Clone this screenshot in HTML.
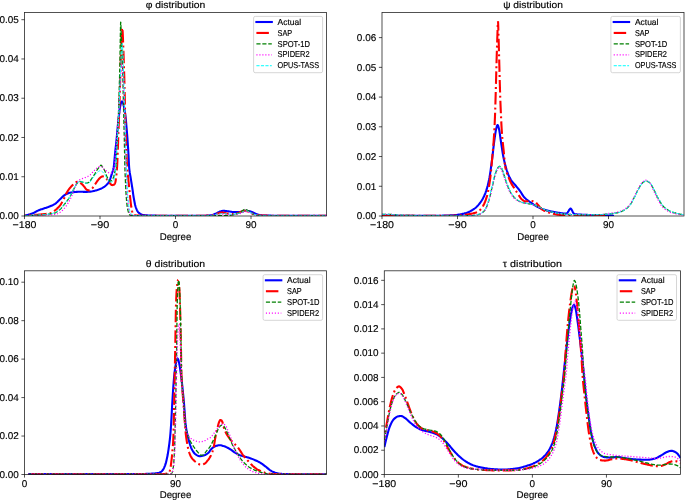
<!DOCTYPE html>
<html><head><meta charset="utf-8"><title>distributions</title>
<style>
html,body{margin:0;padding:0;background:#fff;}
body{width:685px;height:500px;overflow:hidden;}
svg text{font-family:"Liberation Sans",sans-serif;fill:#000;stroke:#000;stroke-width:0.15px;text-rendering:geometricPrecision;}
body{will-change:transform;}
svg text{filter:grayscale(1);}
</style></head><body>
<svg width="685" height="500" viewBox="0 0 685 500" style="display:block">
<rect width="685" height="500" fill="#fff"/>
<g>
<clipPath id="c1"><rect x="24.50" y="12.50" width="302.00" height="203.50"/></clipPath>
<g clip-path="url(#c1)">
<path d="M24.40 215.60 L25.03 215.51 L25.67 215.40 L26.30 215.27 L26.93 215.13 L27.57 214.98 L28.20 214.81 L28.83 214.63 L29.47 214.44 L30.10 214.24 L30.73 214.03 L31.37 213.82 L32.00 213.60 L32.67 213.34 L33.33 213.04 L34.00 212.71 L34.67 212.35 L35.33 211.98 L36.00 211.61 L36.67 211.25 L37.33 210.91 L38.00 210.60 L38.33 210.46 L38.67 210.32 L39.00 210.19 L39.33 210.05 L39.67 209.93 L40.00 209.80 L40.63 209.57 L41.26 209.34 L41.89 209.13 L42.52 208.91 L43.16 208.71 L43.79 208.51 L44.42 208.30 L45.05 208.10 L45.68 207.90 L46.31 207.69 L46.94 207.48 L47.58 207.26 L48.21 207.04 L48.84 206.80 L49.47 206.56 L50.10 206.30 L50.73 206.04 L51.35 205.77 L51.98 205.49 L52.60 205.19 L53.23 204.88 L53.85 204.55 L54.48 204.19 L55.10 203.80 L55.73 203.35 L56.35 202.84 L56.98 202.27 L57.60 201.66 L58.23 201.03 L58.85 200.40 L59.48 199.78 L60.10 199.20 L60.74 198.61 L61.38 197.98 L62.01 197.35 L62.65 196.73 L63.29 196.13 L63.93 195.58 L64.56 195.10 L65.20 194.70 L65.83 194.37 L66.45 194.05 L67.08 193.76 L67.70 193.49 L68.33 193.24 L68.95 193.03 L69.58 192.85 L70.20 192.70 L70.83 192.58 L71.45 192.46 L72.08 192.36 L72.70 192.27 L73.33 192.19 L73.95 192.12 L74.58 192.06 L75.20 192.00 L75.84 191.95 L76.47 191.89 L77.11 191.84 L77.75 191.80 L78.39 191.76 L79.03 191.73 L79.66 191.71 L80.30 191.70 L80.92 191.71 L81.55 191.73 L82.17 191.76 L82.80 191.80 L83.42 191.84 L84.05 191.87 L84.67 191.89 L85.30 191.90 L85.94 191.89 L86.58 191.87 L87.21 191.85 L87.85 191.81 L88.49 191.76 L89.12 191.71 L89.76 191.66 L90.40 191.60 L91.03 191.53 L91.65 191.44 L92.28 191.33 L92.90 191.20 L93.53 191.06 L94.15 190.91 L94.78 190.76 L95.40 190.60 L96.06 190.43 L96.71 190.25 L97.37 190.05 L98.03 189.84 L98.69 189.61 L99.34 189.36 L100.00 189.10 L100.64 188.82 L101.28 188.51 L101.91 188.18 L102.55 187.82 L103.19 187.43 L103.82 187.01 L104.46 186.57 L105.10 186.10 L105.60 185.71 L106.10 185.29 L106.60 184.83 L107.10 184.32 L107.60 183.74 L108.10 183.10 L108.43 182.60 L108.77 182.02 L109.10 181.36 L109.43 180.65 L109.77 179.89 L110.10 179.10 L110.43 178.24 L110.77 177.28 L111.10 176.24 L111.43 175.17 L111.77 174.08 L112.10 173.00 L112.35 172.25 L112.60 171.55 L112.85 170.84 L113.10 170.05 L113.35 169.12 L113.60 168.00 L113.85 166.37 L114.10 164.13 L114.35 161.47 L114.60 158.63 L114.85 155.80 L115.10 153.20 L115.37 150.67 L115.63 148.20 L115.90 145.74 L116.17 143.27 L116.43 140.73 L116.70 138.10 L116.92 135.82 L117.13 133.41 L117.35 130.94 L117.57 128.50 L117.78 126.16 L118.00 124.00 L118.12 122.93 L118.23 121.92 L118.35 120.93 L118.47 119.97 L118.58 119.00 L118.70 118.00 L118.85 116.64 L119.00 115.22 L119.15 113.79 L119.30 112.40 L119.45 111.12 L119.60 110.00 L119.77 108.89 L119.93 107.86 L120.10 106.89 L120.27 106.00 L120.43 105.21 L120.60 104.50 L120.73 103.98 L120.87 103.47 L121.00 103.00 L121.13 102.59 L121.27 102.25 L121.40 102.00 L121.50 101.85 L121.60 101.71 L121.70 101.59 L121.80 101.49 L121.90 101.42 L122.00 101.40 L122.12 101.43 L122.23 101.52 L122.35 101.66 L122.47 101.82 L122.58 102.01 L122.70 102.20 L122.85 102.50 L123.00 102.88 L123.15 103.34 L123.30 103.86 L123.45 104.41 L123.60 105.00 L123.77 105.72 L123.93 106.56 L124.10 107.48 L124.27 108.47 L124.43 109.48 L124.60 110.50 L124.78 111.61 L124.97 112.73 L125.15 113.89 L125.33 115.13 L125.52 116.49 L125.70 118.00 L125.82 119.11 L125.93 120.37 L126.05 121.73 L126.17 123.16 L126.28 124.60 L126.40 126.00 L126.57 127.94 L126.73 129.88 L126.90 131.84 L127.07 133.84 L127.23 135.92 L127.40 138.10 L127.57 140.39 L127.73 142.77 L127.90 145.24 L128.07 147.81 L128.23 150.46 L128.40 153.20 L128.53 155.65 L128.67 158.41 L128.80 161.24 L128.93 163.93 L129.07 166.26 L129.20 168.00 L129.45 170.30 L129.70 172.16 L129.95 173.72 L130.20 175.12 L130.45 176.50 L130.70 178.00 L130.97 179.69 L131.23 181.35 L131.50 182.99 L131.77 184.63 L132.03 186.29 L132.30 188.00 L132.55 189.70 L132.80 191.48 L133.05 193.29 L133.30 195.06 L133.55 196.72 L133.80 198.20 L134.13 200.02 L134.47 201.77 L134.80 203.42 L135.13 204.92 L135.47 206.23 L135.80 207.30 L136.22 208.43 L136.63 209.46 L137.05 210.37 L137.47 211.16 L137.88 211.81 L138.30 212.30 L138.97 212.93 L139.63 213.48 L140.30 213.94 L140.97 214.33 L141.63 214.61 L142.30 214.80 L142.94 214.92 L143.58 215.03 L144.21 215.12 L144.85 215.20 L145.49 215.27 L146.12 215.32 L146.76 215.37 L147.40 215.40 L148.06 215.43 L148.73 215.46 L149.39 215.48 L150.05 215.51 L150.72 215.53 L151.38 215.55 L152.04 215.57 L152.71 215.59 L153.37 215.61 L154.03 215.63 L154.69 215.64 L155.36 215.66 L156.02 215.67 L156.68 215.68 L157.35 215.68 L158.01 215.69 L158.67 215.70 L159.34 215.70 L160.00 215.70 L160.66 215.70 L161.32 215.70 L161.99 215.70 L162.65 215.70 L163.31 215.70 L163.97 215.70 L164.63 215.70 L165.29 215.70 L165.96 215.70 L166.62 215.70 L167.28 215.70 L167.94 215.70 L168.60 215.70 L169.26 215.70 L169.93 215.70 L170.59 215.70 L171.25 215.70 L171.91 215.70 L172.57 215.70 L173.24 215.70 L173.90 215.70 L174.56 215.70 L175.22 215.70 L175.88 215.70 L176.54 215.70 L177.21 215.70 L177.87 215.70 L178.53 215.70 L179.19 215.70 L179.85 215.70 L180.51 215.70 L181.18 215.70 L181.84 215.70 L182.50 215.70 L183.16 215.70 L183.82 215.70 L184.49 215.70 L185.15 215.70 L185.81 215.70 L186.47 215.70 L187.13 215.70 L187.79 215.70 L188.46 215.70 L189.12 215.70 L189.78 215.70 L190.44 215.70 L191.10 215.70 L191.76 215.70 L192.43 215.70 L193.09 215.70 L193.75 215.70 L194.41 215.70 L195.07 215.70 L195.74 215.70 L196.40 215.70 L197.06 215.70 L197.72 215.70 L198.38 215.70 L199.04 215.70 L199.71 215.70 L200.37 215.70 L201.03 215.70 L201.69 215.70 L202.35 215.70 L203.01 215.70 L203.68 215.70 L204.34 215.70 L205.00 215.70 L205.61 215.69 L206.22 215.67 L206.83 215.64 L207.44 215.61 L208.06 215.56 L208.67 215.50 L209.28 215.44 L209.89 215.37 L210.50 215.30 L211.11 215.20 L211.72 215.07 L212.33 214.90 L212.94 214.70 L213.56 214.47 L214.17 214.24 L214.78 213.99 L215.39 213.74 L216.00 213.50 L216.67 213.21 L217.33 212.87 L218.00 212.51 L218.67 212.16 L219.33 211.85 L220.00 211.60 L220.57 211.42 L221.13 211.24 L221.70 211.07 L222.27 210.93 L222.83 210.83 L223.40 210.80 L224.06 210.82 L224.71 210.87 L225.37 210.94 L226.03 211.03 L226.69 211.13 L227.34 211.22 L228.00 211.30 L228.67 211.38 L229.33 211.48 L230.00 211.58 L230.67 211.68 L231.33 211.78 L232.00 211.87 L232.67 211.94 L233.33 211.98 L234.00 212.00 L234.63 212.00 L235.27 212.00 L235.90 212.00 L236.53 212.00 L237.17 212.00 L237.80 212.00 L238.43 212.00 L239.07 212.00 L239.70 212.00 L240.25 211.96 L240.80 211.84 L241.35 211.68 L241.90 211.50 L242.45 211.33 L243.00 211.20 L243.42 211.12 L243.83 211.03 L244.25 210.94 L244.67 210.87 L245.08 210.82 L245.50 210.80 L246.08 210.81 L246.67 210.84 L247.25 210.89 L247.83 210.95 L248.42 211.02 L249.00 211.10 L249.50 211.19 L250.00 211.31 L250.50 211.46 L251.00 211.63 L251.50 211.82 L252.00 212.00 L252.50 212.20 L253.00 212.43 L253.50 212.68 L254.00 212.93 L254.50 213.17 L255.00 213.40 L255.50 213.62 L256.00 213.84 L256.50 214.06 L257.00 214.26 L257.50 214.45 L258.00 214.60 L258.67 214.78 L259.33 214.95 L260.00 215.11 L260.67 215.24 L261.33 215.34 L262.00 215.40 L262.65 215.43 L263.30 215.46 L263.95 215.49 L264.60 215.51 L265.25 215.53 L265.90 215.56 L266.55 215.58 L267.20 215.60 L267.85 215.61 L268.50 215.63 L269.15 215.64 L269.80 215.65 L270.45 215.67 L271.10 215.67 L271.75 215.68 L272.40 215.69 L273.05 215.69 L273.70 215.70 L274.35 215.70 L275.00 215.70 L275.66 215.70 L276.32 215.70 L276.98 215.70 L277.64 215.70 L278.30 215.70 L278.96 215.70 L279.62 215.70 L280.28 215.70 L280.94 215.70 L281.60 215.70 L282.26 215.70 L282.92 215.70 L283.58 215.70 L284.24 215.70 L284.90 215.70 L285.56 215.70 L286.22 215.70 L286.88 215.70 L287.54 215.70 L288.21 215.70 L288.87 215.70 L289.53 215.70 L290.19 215.70 L290.85 215.70 L291.51 215.70 L292.17 215.70 L292.83 215.70 L293.49 215.70 L294.15 215.70 L294.81 215.70 L295.47 215.70 L296.13 215.70 L296.79 215.70 L297.45 215.70 L298.11 215.70 L298.77 215.70 L299.43 215.70 L300.09 215.70 L300.75 215.70 L301.41 215.70 L302.07 215.70 L302.73 215.70 L303.39 215.70 L304.05 215.70 L304.71 215.70 L305.37 215.70 L306.03 215.70 L306.69 215.70 L307.35 215.70 L308.01 215.70 L308.67 215.70 L309.33 215.70 L309.99 215.70 L310.65 215.70 L311.31 215.70 L311.97 215.70 L312.63 215.70 L313.29 215.70 L313.96 215.70 L314.62 215.70 L315.28 215.70 L315.94 215.70 L316.60 215.70 L317.26 215.70 L317.92 215.70 L318.58 215.70 L319.24 215.70 L319.90 215.70 L320.56 215.70 L321.22 215.70 L321.88 215.70 L322.54 215.70 L323.20 215.70 L323.86 215.70 L324.52 215.70 L325.18 215.70 L325.84 215.70 L326.50 215.70" fill="none" stroke="#0000ff" stroke-width="2.10" stroke-linejoin="round"/>
<path d="M24.40 215.70 L25.05 215.67 L25.70 215.63 L26.35 215.59 L27.00 215.55 L27.65 215.51 L28.30 215.47 L28.95 215.42 L29.60 215.38 L30.25 215.33 L30.90 215.28 L31.55 215.24 L32.20 215.18 L32.85 215.13 L33.50 215.08 L34.15 215.03 L34.80 214.97 L35.45 214.91 L36.10 214.86 L36.75 214.80 L37.40 214.74 L38.05 214.68 L38.70 214.62 L39.35 214.56 L40.00 214.50 L40.63 214.44 L41.26 214.39 L41.89 214.33 L42.52 214.28 L43.16 214.23 L43.79 214.17 L44.42 214.11 L45.05 214.05 L45.68 213.98 L46.31 213.91 L46.94 213.83 L47.58 213.75 L48.21 213.65 L48.84 213.55 L49.47 213.43 L50.10 213.30 L50.73 213.12 L51.35 212.86 L51.98 212.52 L52.60 212.13 L53.23 211.70 L53.85 211.25 L54.48 210.77 L55.10 210.30 L55.73 209.81 L56.35 209.29 L56.98 208.73 L57.60 208.12 L58.23 207.48 L58.85 206.80 L59.48 206.07 L60.10 205.30 L60.62 204.60 L61.13 203.82 L61.65 202.98 L62.17 202.08 L62.68 201.15 L63.20 200.20 L63.78 199.03 L64.37 197.74 L64.95 196.39 L65.53 195.05 L66.12 193.80 L66.70 192.70 L67.28 191.73 L67.87 190.82 L68.45 189.97 L69.03 189.17 L69.62 188.42 L70.20 187.70 L70.70 187.12 L71.20 186.57 L71.70 186.05 L72.20 185.56 L72.70 185.07 L73.20 184.60 L73.58 184.23 L73.97 183.86 L74.35 183.50 L74.73 183.16 L75.12 182.85 L75.50 182.60 L75.80 182.42 L76.10 182.24 L76.40 182.07 L76.70 181.93 L77.00 181.84 L77.30 181.80 L77.58 181.81 L77.87 181.83 L78.15 181.86 L78.43 181.90 L78.72 181.95 L79.00 182.00 L79.22 182.07 L79.43 182.18 L79.65 182.32 L79.87 182.47 L80.08 182.64 L80.30 182.80 L80.80 183.19 L81.30 183.62 L81.80 184.09 L82.30 184.59 L82.80 185.09 L83.30 185.60 L83.97 186.36 L84.63 187.24 L85.30 188.15 L85.97 188.97 L86.63 189.62 L87.30 190.00 L87.63 190.10 L87.97 190.20 L88.30 190.28 L88.63 190.34 L88.97 190.38 L89.30 190.40 L89.73 190.33 L90.17 190.13 L90.60 189.84 L91.03 189.48 L91.47 189.09 L91.90 188.70 L92.40 188.19 L92.90 187.56 L93.40 186.84 L93.90 186.09 L94.40 185.33 L94.90 184.60 L95.48 183.76 L96.07 182.87 L96.65 181.98 L97.23 181.12 L97.82 180.31 L98.40 179.60 L98.90 179.03 L99.40 178.47 L99.90 177.93 L100.40 177.46 L100.90 177.07 L101.40 176.80 L101.63 176.70 L101.87 176.61 L102.10 176.53 L102.33 176.46 L102.57 176.42 L102.80 176.40 L102.98 176.41 L103.17 176.45 L103.35 176.50 L103.53 176.56 L103.72 176.63 L103.90 176.70 L104.27 176.87 L104.63 177.09 L105.00 177.35 L105.37 177.65 L105.73 177.97 L106.10 178.30 L106.60 178.82 L107.10 179.44 L107.60 180.12 L108.10 180.82 L108.60 181.49 L109.10 182.10 L109.60 182.71 L110.10 183.37 L110.60 184.02 L111.10 184.57 L111.60 184.96 L112.10 185.10 L112.43 185.08 L112.77 185.04 L113.10 184.97 L113.43 184.87 L113.77 184.75 L114.10 184.60 L114.32 184.44 L114.53 184.17 L114.75 183.80 L114.97 183.32 L115.18 182.75 L115.40 182.10 L115.52 181.60 L115.63 180.90 L115.75 180.05 L115.87 179.09 L115.98 178.09 L116.10 177.10 L116.25 175.85 L116.40 174.56 L116.55 173.18 L116.70 171.66 L116.85 169.95 L117.00 168.00 L117.12 166.17 L117.23 163.99 L117.35 161.52 L117.47 158.84 L117.58 156.04 L117.70 153.20 L117.82 150.17 L117.93 146.85 L118.05 143.36 L118.17 139.83 L118.28 136.36 L118.40 133.10 L118.50 130.51 L118.60 128.04 L118.70 125.62 L118.80 123.19 L118.90 120.67 L119.00 118.00 L119.13 114.20 L119.27 110.21 L119.40 106.06 L119.53 101.79 L119.67 97.43 L119.80 93.00 L119.92 88.96 L120.03 84.71 L120.15 80.37 L120.27 76.06 L120.38 71.90 L120.50 68.00 L120.63 63.81 L120.77 59.77 L120.90 55.87 L121.03 52.11 L121.17 48.49 L121.30 45.00 L121.40 42.37 L121.50 39.70 L121.60 37.11 L121.70 34.71 L121.80 32.63 L121.90 31.00 L121.95 30.29 L122.00 29.59 L122.05 28.93 L122.10 28.40 L122.15 28.03 L122.20 27.90 L122.27 28.03 L122.33 28.37 L122.40 28.89 L122.47 29.53 L122.53 30.25 L122.60 31.00 L122.70 32.46 L122.80 34.49 L122.90 36.92 L123.00 39.59 L123.10 42.34 L123.20 45.00 L123.33 48.49 L123.47 52.11 L123.60 55.87 L123.73 59.77 L123.87 63.81 L124.00 68.00 L124.12 71.76 L124.23 75.61 L124.35 79.61 L124.47 83.81 L124.58 88.26 L124.70 93.00 L124.78 96.83 L124.87 101.15 L124.95 105.68 L125.03 110.18 L125.12 114.37 L125.20 118.00 L125.33 123.01 L125.47 127.62 L125.60 131.88 L125.73 135.84 L125.87 139.53 L126.00 143.00 L126.20 148.00 L126.40 152.80 L126.60 157.30 L126.80 161.39 L127.00 164.99 L127.20 168.00 L127.37 170.06 L127.53 171.83 L127.70 173.42 L127.87 174.92 L128.03 176.41 L128.20 178.00 L128.37 179.67 L128.53 181.33 L128.70 183.00 L128.87 184.67 L129.03 186.33 L129.20 188.00 L129.37 189.69 L129.53 191.42 L129.70 193.14 L129.87 194.83 L130.03 196.46 L130.20 198.00 L130.42 199.94 L130.63 201.88 L130.85 203.75 L131.07 205.49 L131.28 207.03 L131.50 208.30 L131.72 209.39 L131.93 210.42 L132.15 211.34 L132.37 212.15 L132.58 212.81 L132.80 213.30 L133.05 213.75 L133.30 214.15 L133.55 214.50 L133.80 214.79 L134.05 214.99 L134.30 215.10 L134.93 215.24 L135.57 215.35 L136.20 215.45 L136.83 215.53 L137.47 215.59 L138.10 215.64 L138.73 215.67 L139.37 215.69 L140.00 215.70 L140.66 215.70 L141.33 215.70 L141.99 215.70 L142.65 215.70 L143.32 215.70 L143.98 215.70 L144.64 215.70 L145.31 215.70 L145.97 215.70 L146.63 215.70 L147.30 215.70 L147.96 215.70 L148.62 215.70 L149.29 215.70 L149.95 215.70 L150.61 215.70 L151.28 215.70 L151.94 215.70 L152.60 215.70 L153.27 215.70 L153.93 215.70 L154.59 215.70 L155.26 215.70 L155.92 215.70 L156.58 215.70 L157.24 215.70 L157.91 215.70 L158.57 215.70 L159.23 215.70 L159.90 215.70 L160.56 215.70 L161.22 215.70 L161.89 215.70 L162.55 215.70 L163.21 215.70 L163.88 215.70 L164.54 215.70 L165.20 215.70 L165.87 215.70 L166.53 215.70 L167.19 215.70 L167.86 215.70 L168.52 215.70 L169.18 215.70 L169.85 215.70 L170.51 215.70 L171.17 215.70 L171.84 215.70 L172.50 215.70 L173.16 215.70 L173.83 215.70 L174.49 215.70 L175.15 215.70 L175.82 215.70 L176.48 215.70 L177.14 215.70 L177.81 215.70 L178.47 215.70 L179.13 215.70 L179.80 215.70 L180.46 215.70 L181.12 215.70 L181.79 215.70 L182.45 215.70 L183.11 215.70 L183.78 215.70 L184.44 215.70 L185.10 215.70 L185.77 215.70 L186.43 215.70 L187.09 215.70 L187.76 215.70 L188.42 215.70 L189.08 215.70 L189.74 215.70 L190.41 215.70 L191.07 215.70 L191.73 215.70 L192.40 215.70 L193.06 215.70 L193.72 215.70 L194.39 215.70 L195.05 215.70 L195.71 215.70 L196.38 215.70 L197.04 215.70 L197.70 215.70 L198.37 215.70 L199.03 215.70 L199.69 215.70 L200.36 215.70 L201.02 215.70 L201.68 215.70 L202.35 215.70 L203.01 215.70 L203.67 215.70 L204.34 215.70 L205.00 215.70 L205.64 215.69 L206.27 215.68 L206.91 215.65 L207.55 215.62 L208.18 215.58 L208.82 215.53 L209.45 215.47 L210.09 215.41 L210.73 215.34 L211.36 215.27 L212.00 215.20 L212.67 215.09 L213.33 214.94 L214.00 214.74 L214.67 214.52 L215.33 214.28 L216.00 214.04 L216.67 213.81 L217.33 213.59 L218.00 213.40 L218.67 213.22 L219.33 213.02 L220.00 212.82 L220.67 212.66 L221.33 212.54 L222.00 212.50 L222.62 212.53 L223.25 212.63 L223.88 212.76 L224.50 212.93 L225.12 213.10 L225.75 213.26 L226.38 213.40 L227.00 213.50 L227.67 213.58 L228.33 213.66 L229.00 213.74 L229.67 213.81 L230.33 213.87 L231.00 213.92 L231.67 213.96 L232.33 213.99 L233.00 214.00 L233.62 213.98 L234.25 213.91 L234.88 213.80 L235.50 213.66 L236.12 213.51 L236.75 213.34 L237.38 213.17 L238.00 213.00 L238.67 212.79 L239.33 212.54 L240.00 212.26 L240.67 211.98 L241.33 211.72 L242.00 211.50 L242.50 211.35 L243.00 211.19 L243.50 211.04 L244.00 210.92 L244.50 210.83 L245.00 210.80 L245.50 210.83 L246.00 210.91 L246.50 211.03 L247.00 211.18 L247.50 211.34 L248.00 211.50 L248.67 211.76 L249.33 212.09 L250.00 212.47 L250.67 212.85 L251.33 213.20 L252.00 213.50 L252.67 213.76 L253.33 214.02 L254.00 214.28 L254.67 214.52 L255.33 214.75 L256.00 214.94 L256.67 215.11 L257.33 215.23 L258.00 215.30 L258.67 215.34 L259.33 215.38 L260.00 215.42 L260.67 215.46 L261.33 215.49 L262.00 215.52 L262.67 215.55 L263.33 215.58 L264.00 215.60 L264.67 215.62 L265.33 215.64 L266.00 215.65 L266.67 215.67 L267.33 215.68 L268.00 215.69 L268.67 215.69 L269.33 215.70 L270.00 215.70 L270.66 215.70 L271.33 215.70 L271.99 215.70 L272.66 215.70 L273.32 215.70 L273.99 215.70 L274.65 215.70 L275.32 215.70 L275.98 215.70 L276.65 215.70 L277.31 215.70 L277.98 215.70 L278.64 215.70 L279.31 215.70 L279.97 215.70 L280.64 215.70 L281.30 215.70 L281.96 215.70 L282.63 215.70 L283.29 215.70 L283.96 215.70 L284.62 215.70 L285.29 215.70 L285.95 215.70 L286.62 215.70 L287.28 215.70 L287.95 215.70 L288.61 215.70 L289.28 215.70 L289.94 215.70 L290.61 215.70 L291.27 215.70 L291.94 215.70 L292.60 215.70 L293.26 215.70 L293.93 215.70 L294.59 215.70 L295.26 215.70 L295.92 215.70 L296.59 215.70 L297.25 215.70 L297.92 215.70 L298.58 215.70 L299.25 215.70 L299.91 215.70 L300.58 215.70 L301.24 215.70 L301.91 215.70 L302.57 215.70 L303.24 215.70 L303.90 215.70 L304.56 215.70 L305.23 215.70 L305.89 215.70 L306.56 215.70 L307.22 215.70 L307.89 215.70 L308.55 215.70 L309.22 215.70 L309.88 215.70 L310.55 215.70 L311.21 215.70 L311.88 215.70 L312.54 215.70 L313.21 215.70 L313.87 215.70 L314.54 215.70 L315.20 215.70 L315.86 215.70 L316.53 215.70 L317.19 215.70 L317.86 215.70 L318.52 215.70 L319.19 215.70 L319.85 215.70 L320.52 215.70 L321.18 215.70 L321.85 215.70 L322.51 215.70 L323.18 215.70 L323.84 215.70 L324.51 215.70 L325.17 215.70 L325.84 215.70 L326.50 215.70" fill="none" stroke="#ff0000" stroke-width="2.10" stroke-dasharray="12.48,3.12,1.95,3.12" stroke-linejoin="round" stroke-dashoffset="10.9"/>
<path d="M24.40 215.70 L25.05 215.68 L25.70 215.67 L26.35 215.65 L27.00 215.63 L27.65 215.60 L28.30 215.58 L28.95 215.55 L29.60 215.52 L30.25 215.49 L30.90 215.46 L31.55 215.43 L32.20 215.39 L32.85 215.36 L33.50 215.32 L34.15 215.28 L34.80 215.24 L35.45 215.20 L36.10 215.16 L36.75 215.12 L37.40 215.08 L38.05 215.03 L38.70 214.99 L39.35 214.94 L40.00 214.90 L40.63 214.86 L41.26 214.81 L41.89 214.76 L42.52 214.71 L43.16 214.66 L43.79 214.61 L44.42 214.55 L45.05 214.49 L45.68 214.43 L46.31 214.37 L46.94 214.30 L47.58 214.23 L48.21 214.15 L48.84 214.07 L49.47 213.99 L50.10 213.90 L50.73 213.81 L51.35 213.71 L51.98 213.59 L52.60 213.47 L53.23 213.33 L53.85 213.17 L54.48 213.00 L55.10 212.80 L55.73 212.55 L56.35 212.22 L56.98 211.83 L57.60 211.39 L58.23 210.90 L58.85 210.39 L59.48 209.85 L60.10 209.30 L60.74 208.70 L61.38 208.04 L62.01 207.32 L62.65 206.56 L63.29 205.77 L63.93 204.95 L64.56 204.12 L65.20 203.30 L65.83 202.49 L66.45 201.68 L67.08 200.85 L67.70 199.99 L68.33 199.10 L68.95 198.18 L69.58 197.22 L70.20 196.20 L70.87 195.00 L71.53 193.67 L72.20 192.26 L72.87 190.84 L73.53 189.47 L74.20 188.20 L74.72 187.25 L75.23 186.28 L75.75 185.34 L76.27 184.47 L76.78 183.71 L77.30 183.10 L77.58 182.82 L77.87 182.54 L78.15 182.29 L78.43 182.07 L78.72 181.91 L79.00 181.80 L79.22 181.75 L79.43 181.70 L79.65 181.66 L79.87 181.63 L80.08 181.61 L80.30 181.60 L80.80 181.63 L81.30 181.73 L81.80 181.86 L82.30 182.01 L82.80 182.16 L83.30 182.30 L83.80 182.45 L84.30 182.62 L84.80 182.79 L85.30 182.95 L85.80 183.06 L86.30 183.10 L86.63 183.08 L86.97 183.03 L87.30 182.95 L87.63 182.85 L87.97 182.73 L88.30 182.60 L88.82 182.29 L89.33 181.81 L89.85 181.20 L90.37 180.51 L90.88 179.79 L91.40 179.10 L91.90 178.43 L92.40 177.71 L92.90 176.96 L93.40 176.19 L93.90 175.40 L94.40 174.60 L94.90 173.77 L95.40 172.89 L95.90 172.00 L96.40 171.11 L96.90 170.27 L97.40 169.50 L97.82 168.91 L98.23 168.34 L98.65 167.79 L99.07 167.27 L99.48 166.77 L99.90 166.30 L100.08 166.08 L100.27 165.83 L100.45 165.60 L100.63 165.40 L100.82 165.25 L101.00 165.20 L101.23 165.27 L101.47 165.47 L101.70 165.76 L101.93 166.11 L102.17 166.46 L102.40 166.80 L102.85 167.43 L103.30 168.12 L103.75 168.87 L104.20 169.68 L104.65 170.56 L105.10 171.50 L105.43 172.33 L105.77 173.32 L106.10 174.38 L106.43 175.42 L106.77 176.36 L107.10 177.10 L107.60 178.04 L108.10 178.96 L108.60 179.79 L109.10 180.47 L109.60 180.93 L110.10 181.10 L110.35 181.08 L110.60 181.03 L110.85 180.95 L111.10 180.85 L111.35 180.73 L111.60 180.60 L111.93 180.32 L112.27 179.88 L112.60 179.30 L112.93 178.60 L113.27 177.83 L113.60 177.00 L113.85 176.26 L114.10 175.34 L114.35 174.31 L114.60 173.20 L114.85 172.08 L115.10 171.00 L115.22 170.55 L115.33 170.15 L115.45 169.75 L115.57 169.29 L115.68 168.72 L115.80 168.00 L115.95 166.26 L116.10 163.39 L116.25 159.76 L116.40 155.77 L116.55 151.79 L116.70 148.20 L116.82 145.62 L116.93 143.01 L117.05 140.40 L117.17 137.85 L117.28 135.40 L117.40 133.10 L117.55 130.46 L117.70 128.12 L117.85 125.89 L118.00 123.58 L118.15 121.01 L118.30 118.00 L118.43 114.73 L118.57 110.89 L118.70 106.64 L118.83 102.14 L118.97 97.54 L119.10 93.00 L119.22 89.17 L119.33 85.39 L119.45 81.52 L119.57 77.42 L119.68 72.96 L119.80 68.00 L119.87 64.74 L119.93 61.06 L120.00 57.10 L120.07 53.01 L120.13 48.93 L120.20 45.00 L120.25 42.02 L120.30 38.90 L120.35 35.79 L120.40 32.83 L120.45 30.18 L120.50 28.00 L120.53 26.68 L120.57 25.34 L120.60 24.10 L120.63 23.07 L120.67 22.36 L120.70 22.10 L120.75 22.38 L120.80 23.12 L120.85 24.20 L120.90 25.46 L120.95 26.77 L121.00 28.00 L121.10 30.48 L121.20 33.29 L121.30 36.29 L121.40 39.33 L121.50 42.28 L121.60 45.00 L121.77 48.96 L121.93 52.51 L122.10 55.91 L122.27 59.43 L122.43 63.37 L122.60 68.00 L122.70 71.38 L122.80 75.33 L122.90 79.65 L123.00 84.16 L123.10 88.68 L123.20 93.00 L123.30 97.17 L123.40 101.33 L123.50 105.50 L123.60 109.67 L123.70 113.83 L123.80 118.00 L123.90 122.11 L124.00 126.16 L124.10 130.21 L124.20 134.32 L124.30 138.56 L124.40 143.00 L124.48 147.11 L124.57 151.64 L124.65 156.29 L124.73 160.77 L124.82 164.77 L124.90 168.00 L124.97 170.05 L125.03 171.86 L125.10 173.48 L125.17 175.01 L125.23 176.49 L125.30 178.00 L125.42 180.75 L125.53 183.52 L125.65 186.22 L125.77 188.76 L125.88 191.05 L126.00 193.00 L126.20 195.89 L126.40 198.54 L126.60 200.92 L126.80 203.02 L127.00 204.82 L127.20 206.30 L127.42 207.65 L127.63 208.87 L127.85 209.95 L128.07 210.89 L128.28 211.67 L128.50 212.30 L128.78 213.01 L129.07 213.67 L129.35 214.26 L129.63 214.73 L129.92 215.05 L130.20 215.20 L130.85 215.29 L131.50 215.38 L132.15 215.45 L132.80 215.51 L133.45 215.56 L134.10 215.60 L134.75 215.63 L135.40 215.66 L136.05 215.68 L136.70 215.69 L137.35 215.70 L138.00 215.70 L138.66 215.70 L139.33 215.70 L139.99 215.70 L140.66 215.70 L141.32 215.70 L141.98 215.70 L142.65 215.70 L143.31 215.70 L143.98 215.70 L144.64 215.70 L145.31 215.70 L145.97 215.70 L146.63 215.70 L147.30 215.70 L147.96 215.70 L148.63 215.70 L149.29 215.70 L149.95 215.70 L150.62 215.70 L151.28 215.70 L151.95 215.70 L152.61 215.70 L153.27 215.70 L153.94 215.70 L154.60 215.70 L155.27 215.70 L155.93 215.70 L156.60 215.70 L157.26 215.70 L157.92 215.70 L158.59 215.70 L159.25 215.70 L159.92 215.70 L160.58 215.70 L161.24 215.70 L161.91 215.70 L162.57 215.70 L163.24 215.70 L163.90 215.70 L164.56 215.70 L165.23 215.70 L165.89 215.70 L166.56 215.70 L167.22 215.70 L167.89 215.70 L168.55 215.70 L169.21 215.70 L169.88 215.70 L170.54 215.70 L171.21 215.70 L171.87 215.70 L172.53 215.70 L173.20 215.70 L173.86 215.70 L174.53 215.70 L175.19 215.70 L175.85 215.70 L176.52 215.70 L177.18 215.70 L177.85 215.70 L178.51 215.70 L179.18 215.70 L179.84 215.70 L180.50 215.70 L181.17 215.70 L181.83 215.70 L182.50 215.70 L183.16 215.70 L183.82 215.70 L184.49 215.70 L185.15 215.70 L185.82 215.70 L186.48 215.70 L187.15 215.70 L187.81 215.70 L188.47 215.70 L189.14 215.70 L189.80 215.70 L190.47 215.70 L191.13 215.70 L191.79 215.70 L192.46 215.70 L193.12 215.70 L193.79 215.70 L194.45 215.70 L195.11 215.70 L195.78 215.70 L196.44 215.70 L197.11 215.70 L197.77 215.70 L198.44 215.70 L199.10 215.70 L199.76 215.70 L200.43 215.70 L201.09 215.70 L201.76 215.70 L202.42 215.70 L203.08 215.70 L203.75 215.70 L204.41 215.70 L205.08 215.70 L205.74 215.70 L206.40 215.70 L207.07 215.70 L207.73 215.70 L208.40 215.70 L209.06 215.70 L209.73 215.70 L210.39 215.70 L211.05 215.70 L211.72 215.70 L212.38 215.70 L213.05 215.70 L213.71 215.70 L214.37 215.70 L215.04 215.70 L215.70 215.70 L216.37 215.70 L217.03 215.70 L217.69 215.70 L218.36 215.70 L219.02 215.70 L219.69 215.70 L220.35 215.70 L221.02 215.70 L221.68 215.70 L222.34 215.70 L223.01 215.70 L223.67 215.70 L224.34 215.70 L225.00 215.70 L225.64 215.69 L226.27 215.67 L226.91 215.63 L227.55 215.58 L228.18 215.52 L228.82 215.44 L229.45 215.36 L230.09 215.28 L230.73 215.19 L231.36 215.10 L232.00 215.00 L232.67 214.89 L233.33 214.75 L234.00 214.60 L234.67 214.42 L235.33 214.23 L236.00 214.02 L236.67 213.79 L237.33 213.55 L238.00 213.30 L238.67 213.00 L239.33 212.64 L240.00 212.24 L240.67 211.82 L241.33 211.40 L242.00 211.00 L242.50 210.68 L243.00 210.31 L243.50 209.94 L244.00 209.61 L244.50 209.39 L245.00 209.30 L245.50 209.35 L246.00 209.50 L246.50 209.71 L247.00 209.96 L247.50 210.23 L248.00 210.50 L248.67 210.92 L249.33 211.45 L250.00 212.04 L250.67 212.61 L251.33 213.12 L252.00 213.50 L252.67 213.79 L253.33 214.07 L254.00 214.33 L254.67 214.57 L255.33 214.79 L256.00 214.97 L256.67 215.12 L257.33 215.23 L258.00 215.30 L258.67 215.34 L259.33 215.38 L260.00 215.42 L260.67 215.46 L261.33 215.49 L262.00 215.52 L262.67 215.55 L263.33 215.58 L264.00 215.60 L264.67 215.62 L265.33 215.64 L266.00 215.65 L266.67 215.67 L267.33 215.68 L268.00 215.69 L268.67 215.69 L269.33 215.70 L270.00 215.70 L270.66 215.70 L271.33 215.70 L271.99 215.70 L272.66 215.70 L273.32 215.70 L273.99 215.70 L274.65 215.70 L275.32 215.70 L275.98 215.70 L276.65 215.70 L277.31 215.70 L277.98 215.70 L278.64 215.70 L279.31 215.70 L279.97 215.70 L280.64 215.70 L281.30 215.70 L281.96 215.70 L282.63 215.70 L283.29 215.70 L283.96 215.70 L284.62 215.70 L285.29 215.70 L285.95 215.70 L286.62 215.70 L287.28 215.70 L287.95 215.70 L288.61 215.70 L289.28 215.70 L289.94 215.70 L290.61 215.70 L291.27 215.70 L291.94 215.70 L292.60 215.70 L293.26 215.70 L293.93 215.70 L294.59 215.70 L295.26 215.70 L295.92 215.70 L296.59 215.70 L297.25 215.70 L297.92 215.70 L298.58 215.70 L299.25 215.70 L299.91 215.70 L300.58 215.70 L301.24 215.70 L301.91 215.70 L302.57 215.70 L303.24 215.70 L303.90 215.70 L304.56 215.70 L305.23 215.70 L305.89 215.70 L306.56 215.70 L307.22 215.70 L307.89 215.70 L308.55 215.70 L309.22 215.70 L309.88 215.70 L310.55 215.70 L311.21 215.70 L311.88 215.70 L312.54 215.70 L313.21 215.70 L313.87 215.70 L314.54 215.70 L315.20 215.70 L315.86 215.70 L316.53 215.70 L317.19 215.70 L317.86 215.70 L318.52 215.70 L319.19 215.70 L319.85 215.70 L320.52 215.70 L321.18 215.70 L321.85 215.70 L322.51 215.70 L323.18 215.70 L323.84 215.70 L324.51 215.70 L325.17 215.70 L325.84 215.70 L326.50 215.70" fill="none" stroke="#008000" stroke-width="1.30" stroke-dasharray="4.14,1.79" stroke-linejoin="round"/>
<path d="M24.40 215.70 L25.05 215.69 L25.70 215.67 L26.35 215.66 L27.00 215.64 L27.65 215.62 L28.30 215.60 L28.95 215.59 L29.60 215.57 L30.25 215.55 L30.90 215.53 L31.55 215.51 L32.20 215.49 L32.85 215.46 L33.50 215.44 L34.15 215.42 L34.80 215.40 L35.45 215.37 L36.10 215.35 L36.75 215.33 L37.40 215.30 L38.05 215.28 L38.70 215.25 L39.35 215.23 L40.00 215.20 L40.66 215.17 L41.31 215.15 L41.97 215.13 L42.63 215.10 L43.28 215.08 L43.94 215.06 L44.60 215.04 L45.25 215.02 L45.91 214.99 L46.57 214.97 L47.22 214.94 L47.88 214.91 L48.53 214.88 L49.19 214.85 L49.85 214.82 L50.50 214.78 L51.16 214.74 L51.82 214.69 L52.47 214.64 L53.13 214.59 L53.79 214.53 L54.44 214.47 L55.10 214.40 L55.73 214.30 L56.35 214.13 L56.98 213.91 L57.60 213.65 L58.23 213.35 L58.85 213.02 L59.48 212.66 L60.10 212.30 L60.74 211.88 L61.38 211.39 L62.01 210.83 L62.65 210.20 L63.29 209.53 L63.93 208.82 L64.56 208.07 L65.20 207.30 L65.83 206.50 L66.45 205.63 L67.08 204.69 L67.70 203.70 L68.33 202.65 L68.95 201.54 L69.58 200.39 L70.20 199.20 L70.70 198.18 L71.20 197.07 L71.70 195.90 L72.20 194.68 L72.70 193.44 L73.20 192.20 L73.72 190.85 L74.23 189.38 L74.75 187.89 L75.27 186.46 L75.78 185.17 L76.30 184.10 L76.72 183.37 L77.13 182.68 L77.55 182.05 L77.97 181.48 L78.38 181.00 L78.80 180.60 L79.38 180.15 L79.97 179.77 L80.55 179.44 L81.13 179.14 L81.72 178.87 L82.30 178.60 L82.97 178.32 L83.63 178.07 L84.30 177.84 L84.97 177.61 L85.63 177.37 L86.30 177.10 L86.80 176.89 L87.30 176.67 L87.80 176.44 L88.30 176.19 L88.80 175.91 L89.30 175.60 L89.82 175.20 L90.33 174.72 L90.85 174.18 L91.37 173.61 L91.88 173.04 L92.40 172.50 L92.90 171.99 L93.40 171.48 L93.90 170.97 L94.40 170.46 L94.90 169.97 L95.40 169.50 L95.90 169.04 L96.40 168.57 L96.90 168.11 L97.40 167.69 L97.90 167.31 L98.40 167.00 L98.72 166.82 L99.03 166.64 L99.35 166.47 L99.67 166.33 L99.98 166.24 L100.30 166.20 L100.58 166.22 L100.87 166.29 L101.15 166.39 L101.43 166.51 L101.72 166.65 L102.00 166.80 L102.33 167.04 L102.67 167.39 L103.00 167.80 L103.33 168.23 L103.67 168.64 L104.00 169.00 L104.52 169.48 L105.03 169.93 L105.55 170.36 L106.07 170.76 L106.58 171.14 L107.10 171.50 L107.60 171.86 L108.10 172.24 L108.60 172.60 L109.10 172.91 L109.60 173.12 L110.10 173.20 L110.35 173.19 L110.60 173.18 L110.85 173.15 L111.10 173.11 L111.35 173.06 L111.60 173.00 L111.85 172.88 L112.10 172.64 L112.35 172.31 L112.60 171.91 L112.85 171.47 L113.10 171.00 L113.27 170.66 L113.43 170.28 L113.60 169.83 L113.77 169.31 L113.93 168.70 L114.10 168.00 L114.33 166.51 L114.57 164.32 L114.80 161.65 L115.03 158.72 L115.27 155.77 L115.50 153.00 L115.72 150.60 L115.93 148.20 L116.15 145.77 L116.37 143.27 L116.58 140.69 L116.80 138.00 L117.03 134.97 L117.27 131.83 L117.50 128.57 L117.73 125.19 L117.97 121.67 L118.20 118.00 L118.37 115.21 L118.53 112.24 L118.70 109.16 L118.87 106.05 L119.03 102.97 L119.20 100.00 L119.40 96.52 L119.60 93.03 L119.80 89.58 L120.00 86.23 L120.20 83.02 L120.40 80.00 L120.57 77.51 L120.73 74.96 L120.90 72.51 L121.07 70.27 L121.23 68.39 L121.40 67.00 L121.50 66.33 L121.60 65.69 L121.70 65.10 L121.80 64.63 L121.90 64.32 L122.00 64.20 L122.08 64.31 L122.17 64.62 L122.25 65.08 L122.33 65.66 L122.42 66.31 L122.50 67.00 L122.62 68.30 L122.73 70.14 L122.85 72.37 L122.97 74.86 L123.08 77.45 L123.20 80.00 L123.33 82.94 L123.47 86.08 L123.60 89.39 L123.73 92.83 L123.87 96.38 L124.00 100.00 L124.10 102.78 L124.20 105.66 L124.30 108.61 L124.40 111.66 L124.50 114.79 L124.60 118.00 L124.72 121.91 L124.83 126.00 L124.95 130.22 L125.07 134.50 L125.18 138.78 L125.30 143.00 L125.42 147.27 L125.53 151.67 L125.65 156.06 L125.77 160.33 L125.88 164.35 L126.00 168.00 L126.10 170.84 L126.20 173.53 L126.30 176.08 L126.40 178.49 L126.50 180.80 L126.60 183.00 L126.73 185.88 L126.87 188.72 L127.00 191.43 L127.13 193.94 L127.27 196.16 L127.40 198.00 L127.62 200.54 L127.83 202.85 L128.05 204.90 L128.27 206.68 L128.48 208.15 L128.70 209.30 L128.95 210.37 L129.20 211.32 L129.45 212.14 L129.70 212.83 L129.95 213.39 L130.20 213.80 L130.47 214.15 L130.73 214.47 L131.00 214.74 L131.27 214.96 L131.53 215.12 L131.80 215.20 L132.43 215.28 L133.06 215.36 L133.69 215.43 L134.32 215.48 L134.95 215.53 L135.58 215.58 L136.22 215.61 L136.85 215.64 L137.48 215.66 L138.11 215.68 L138.74 215.69 L139.37 215.70 L140.00 215.70 L140.66 215.70 L141.33 215.70 L141.99 215.70 L142.65 215.70 L143.32 215.70 L143.98 215.70 L144.64 215.70 L145.31 215.70 L145.97 215.70 L146.63 215.70 L147.30 215.70 L147.96 215.70 L148.62 215.70 L149.29 215.70 L149.95 215.70 L150.61 215.70 L151.28 215.70 L151.94 215.70 L152.60 215.70 L153.27 215.70 L153.93 215.70 L154.59 215.70 L155.26 215.70 L155.92 215.70 L156.58 215.70 L157.24 215.70 L157.91 215.70 L158.57 215.70 L159.23 215.70 L159.90 215.70 L160.56 215.70 L161.22 215.70 L161.89 215.70 L162.55 215.70 L163.21 215.70 L163.88 215.70 L164.54 215.70 L165.20 215.70 L165.87 215.70 L166.53 215.70 L167.19 215.70 L167.86 215.70 L168.52 215.70 L169.18 215.70 L169.85 215.70 L170.51 215.70 L171.17 215.70 L171.84 215.70 L172.50 215.70 L173.16 215.70 L173.83 215.70 L174.49 215.70 L175.15 215.70 L175.82 215.70 L176.48 215.70 L177.14 215.70 L177.81 215.70 L178.47 215.70 L179.13 215.70 L179.80 215.70 L180.46 215.70 L181.12 215.70 L181.79 215.70 L182.45 215.70 L183.11 215.70 L183.78 215.70 L184.44 215.70 L185.10 215.70 L185.77 215.70 L186.43 215.70 L187.09 215.70 L187.76 215.70 L188.42 215.70 L189.08 215.70 L189.74 215.70 L190.41 215.70 L191.07 215.70 L191.73 215.70 L192.40 215.70 L193.06 215.70 L193.72 215.70 L194.39 215.70 L195.05 215.70 L195.71 215.70 L196.38 215.70 L197.04 215.70 L197.70 215.70 L198.37 215.70 L199.03 215.70 L199.69 215.70 L200.36 215.70 L201.02 215.70 L201.68 215.70 L202.35 215.70 L203.01 215.70 L203.67 215.70 L204.34 215.70 L205.00 215.70 L205.64 215.70 L206.27 215.68 L206.91 215.66 L207.55 215.63 L208.18 215.60 L208.82 215.55 L209.45 215.51 L210.09 215.46 L210.73 215.41 L211.36 215.35 L212.00 215.30 L212.67 215.23 L213.33 215.12 L214.00 215.00 L214.67 214.86 L215.33 214.72 L216.00 214.59 L216.67 214.47 L217.33 214.37 L218.00 214.30 L218.67 214.25 L219.33 214.20 L220.00 214.15 L220.67 214.11 L221.33 214.07 L222.00 214.04 L222.67 214.02 L223.33 214.01 L224.00 214.00 L224.67 214.01 L225.33 214.04 L226.00 214.09 L226.67 214.16 L227.33 214.23 L228.00 214.30 L228.67 214.37 L229.33 214.44 L230.00 214.51 L230.67 214.56 L231.33 214.59 L232.00 214.60 L232.67 214.59 L233.33 214.56 L234.00 214.51 L234.67 214.45 L235.33 214.38 L236.00 214.29 L236.67 214.20 L237.33 214.10 L238.00 214.00 L238.62 213.88 L239.25 213.73 L239.88 213.55 L240.50 213.35 L241.12 213.14 L241.75 212.92 L242.38 212.71 L243.00 212.50 L243.50 212.32 L244.00 212.10 L244.50 211.88 L245.00 211.69 L245.50 211.55 L246.00 211.50 L246.50 211.54 L247.00 211.64 L247.50 211.78 L248.00 211.95 L248.50 212.13 L249.00 212.30 L249.62 212.53 L250.25 212.82 L250.88 213.13 L251.50 213.46 L252.12 213.78 L252.75 214.07 L253.38 214.32 L254.00 214.50 L254.67 214.65 L255.33 214.79 L256.00 214.91 L256.67 215.03 L257.33 215.14 L258.00 215.23 L258.67 215.30 L259.33 215.36 L260.00 215.40 L260.67 215.43 L261.33 215.46 L262.00 215.49 L262.67 215.51 L263.33 215.54 L264.00 215.56 L264.67 215.58 L265.33 215.60 L266.00 215.62 L266.67 215.64 L267.33 215.65 L268.00 215.66 L268.67 215.67 L269.33 215.68 L270.00 215.69 L270.67 215.70 L271.33 215.70 L272.00 215.70 L272.66 215.70 L273.33 215.70 L273.99 215.70 L274.66 215.70 L275.32 215.70 L275.99 215.70 L276.65 215.70 L277.32 215.70 L277.98 215.70 L278.65 215.70 L279.31 215.70 L279.98 215.70 L280.64 215.70 L281.30 215.70 L281.97 215.70 L282.63 215.70 L283.30 215.70 L283.96 215.70 L284.63 215.70 L285.29 215.70 L285.96 215.70 L286.62 215.70 L287.29 215.70 L287.95 215.70 L288.62 215.70 L289.28 215.70 L289.95 215.70 L290.61 215.70 L291.27 215.70 L291.94 215.70 L292.60 215.70 L293.27 215.70 L293.93 215.70 L294.60 215.70 L295.26 215.70 L295.93 215.70 L296.59 215.70 L297.26 215.70 L297.92 215.70 L298.59 215.70 L299.25 215.70 L299.91 215.70 L300.58 215.70 L301.24 215.70 L301.91 215.70 L302.57 215.70 L303.24 215.70 L303.90 215.70 L304.57 215.70 L305.23 215.70 L305.90 215.70 L306.56 215.70 L307.23 215.70 L307.89 215.70 L308.55 215.70 L309.22 215.70 L309.88 215.70 L310.55 215.70 L311.21 215.70 L311.88 215.70 L312.54 215.70 L313.21 215.70 L313.87 215.70 L314.54 215.70 L315.20 215.70 L315.87 215.70 L316.53 215.70 L317.20 215.70 L317.86 215.70 L318.52 215.70 L319.19 215.70 L319.85 215.70 L320.52 215.70 L321.18 215.70 L321.85 215.70 L322.51 215.70 L323.18 215.70 L323.84 215.70 L324.51 215.70 L325.17 215.70 L325.84 215.70 L326.50 215.70" fill="none" stroke="#ff00ff" stroke-width="1.30" stroke-dasharray="1.12,1.85" stroke-linejoin="round"/>
<path d="M24.40 215.70 L25.05 215.68 L25.70 215.67 L26.35 215.65 L27.00 215.63 L27.65 215.60 L28.30 215.58 L28.95 215.55 L29.60 215.52 L30.25 215.49 L30.90 215.46 L31.55 215.43 L32.20 215.39 L32.85 215.36 L33.50 215.32 L34.15 215.28 L34.80 215.24 L35.45 215.20 L36.10 215.16 L36.75 215.12 L37.40 215.08 L38.05 215.03 L38.70 214.99 L39.35 214.94 L40.00 214.90 L40.63 214.86 L41.26 214.81 L41.89 214.76 L42.52 214.72 L43.16 214.67 L43.79 214.62 L44.42 214.56 L45.05 214.50 L45.68 214.44 L46.31 214.38 L46.94 214.31 L47.58 214.24 L48.21 214.16 L48.84 214.08 L49.47 213.99 L50.10 213.90 L50.73 213.80 L51.35 213.68 L51.98 213.55 L52.60 213.39 L53.23 213.22 L53.85 213.04 L54.48 212.83 L55.10 212.60 L55.73 212.32 L56.35 211.98 L56.98 211.57 L57.60 211.12 L58.23 210.62 L58.85 210.10 L59.48 209.56 L60.10 209.00 L60.74 208.40 L61.38 207.73 L62.01 207.01 L62.65 206.25 L63.29 205.45 L63.93 204.64 L64.56 203.82 L65.20 203.00 L65.83 202.20 L66.45 201.40 L67.08 200.58 L67.70 199.74 L68.33 198.87 L68.95 197.96 L69.58 197.01 L70.20 196.00 L70.87 194.80 L71.53 193.47 L72.20 192.06 L72.87 190.64 L73.53 189.26 L74.20 188.00 L74.72 187.06 L75.23 186.12 L75.75 185.20 L76.27 184.35 L76.78 183.60 L77.30 183.00 L77.58 182.72 L77.87 182.44 L78.15 182.19 L78.43 181.97 L78.72 181.81 L79.00 181.70 L79.22 181.65 L79.43 181.60 L79.65 181.56 L79.87 181.53 L80.08 181.51 L80.30 181.50 L80.80 181.54 L81.30 181.64 L81.80 181.79 L82.30 181.96 L82.80 182.14 L83.30 182.30 L83.80 182.48 L84.30 182.69 L84.80 182.91 L85.30 183.11 L85.80 183.25 L86.30 183.30 L86.80 183.28 L87.30 183.21 L87.80 183.10 L88.30 182.96 L88.80 182.79 L89.30 182.60 L89.82 182.26 L90.33 181.68 L90.85 180.96 L91.37 180.15 L91.88 179.34 L92.40 178.60 L92.90 177.93 L93.40 177.24 L93.90 176.54 L94.40 175.86 L94.90 175.21 L95.40 174.60 L95.90 174.01 L96.40 173.41 L96.90 172.83 L97.40 172.31 L97.90 171.85 L98.40 171.50 L98.67 171.34 L98.93 171.18 L99.20 171.03 L99.47 170.91 L99.73 170.83 L100.00 170.80 L100.23 170.81 L100.47 170.83 L100.70 170.86 L100.93 170.90 L101.17 170.95 L101.40 171.00 L101.67 171.10 L101.93 171.28 L102.20 171.50 L102.47 171.76 L102.73 172.03 L103.00 172.30 L103.33 172.64 L103.67 173.02 L104.00 173.42 L104.33 173.85 L104.67 174.31 L105.00 174.80 L105.33 175.35 L105.67 175.98 L106.00 176.65 L106.33 177.32 L106.67 177.95 L107.00 178.50 L107.25 178.87 L107.50 179.23 L107.75 179.56 L108.00 179.88 L108.25 180.16 L108.50 180.40 L108.93 180.79 L109.37 181.18 L109.80 181.54 L110.23 181.83 L110.67 182.03 L111.10 182.10 L111.43 182.07 L111.77 181.97 L112.10 181.82 L112.43 181.62 L112.77 181.38 L113.10 181.10 L113.38 180.74 L113.67 180.15 L113.95 179.37 L114.23 178.42 L114.52 177.32 L114.80 176.10 L114.97 175.24 L115.13 174.16 L115.30 172.88 L115.47 171.42 L115.63 169.79 L115.80 168.00 L115.97 165.78 L116.13 162.97 L116.30 159.79 L116.47 156.43 L116.63 153.10 L116.80 150.00 L116.97 147.11 L117.13 144.25 L117.30 141.42 L117.47 138.61 L117.63 135.80 L117.80 133.00 L117.95 130.56 L118.10 128.21 L118.25 125.88 L118.40 123.46 L118.55 120.86 L118.70 118.00 L118.85 114.72 L119.00 111.03 L119.15 107.07 L119.30 102.99 L119.45 98.92 L119.60 95.00 L119.77 90.77 L119.93 86.51 L120.10 82.28 L120.27 78.09 L120.43 73.99 L120.60 70.00 L120.75 66.33 L120.90 62.52 L121.05 58.77 L121.20 55.30 L121.35 52.30 L121.50 50.00 L121.62 48.51 L121.73 47.06 L121.85 45.75 L121.97 44.68 L122.08 43.96 L122.20 43.70 L122.30 43.96 L122.40 44.66 L122.50 45.71 L122.60 47.02 L122.70 48.48 L122.80 50.00 L122.92 52.23 L123.03 55.21 L123.15 58.72 L123.27 62.51 L123.38 66.35 L123.50 70.00 L123.63 74.02 L123.77 78.12 L123.90 82.28 L124.03 86.49 L124.17 90.73 L124.30 95.00 L124.42 98.75 L124.53 102.51 L124.65 106.31 L124.77 110.15 L124.88 114.04 L125.00 118.00 L125.12 122.05 L125.23 126.18 L125.35 130.37 L125.47 134.59 L125.58 138.81 L125.70 143.00 L125.82 147.27 L125.93 151.67 L126.05 156.06 L126.17 160.33 L126.28 164.35 L126.40 168.00 L126.50 170.88 L126.60 173.63 L126.70 176.25 L126.80 178.70 L126.90 180.96 L127.00 183.00 L127.17 186.11 L127.33 188.99 L127.50 191.65 L127.67 194.07 L127.83 196.26 L128.00 198.20 L128.20 200.33 L128.40 202.33 L128.60 204.16 L128.80 205.79 L129.00 207.18 L129.20 208.30 L129.45 209.46 L129.70 210.49 L129.95 211.40 L130.20 212.18 L130.45 212.82 L130.70 213.30 L131.00 213.77 L131.30 214.21 L131.60 214.58 L131.90 214.88 L132.20 215.10 L132.50 215.20 L133.12 215.29 L133.75 215.37 L134.38 215.44 L135.00 215.50 L135.62 215.55 L136.25 215.59 L136.88 215.63 L137.50 215.66 L138.12 215.68 L138.75 215.69 L139.38 215.70 L140.00 215.70 L140.66 215.70 L141.33 215.70 L141.99 215.70 L142.65 215.70 L143.32 215.70 L143.98 215.70 L144.64 215.70 L145.31 215.70 L145.97 215.70 L146.63 215.70 L147.30 215.70 L147.96 215.70 L148.62 215.70 L149.29 215.70 L149.95 215.70 L150.61 215.70 L151.28 215.70 L151.94 215.70 L152.60 215.70 L153.27 215.70 L153.93 215.70 L154.59 215.70 L155.26 215.70 L155.92 215.70 L156.58 215.70 L157.24 215.70 L157.91 215.70 L158.57 215.70 L159.23 215.70 L159.90 215.70 L160.56 215.70 L161.22 215.70 L161.89 215.70 L162.55 215.70 L163.21 215.70 L163.88 215.70 L164.54 215.70 L165.20 215.70 L165.87 215.70 L166.53 215.70 L167.19 215.70 L167.86 215.70 L168.52 215.70 L169.18 215.70 L169.85 215.70 L170.51 215.70 L171.17 215.70 L171.84 215.70 L172.50 215.70 L173.16 215.70 L173.83 215.70 L174.49 215.70 L175.15 215.70 L175.82 215.70 L176.48 215.70 L177.14 215.70 L177.81 215.70 L178.47 215.70 L179.13 215.70 L179.80 215.70 L180.46 215.70 L181.12 215.70 L181.79 215.70 L182.45 215.70 L183.11 215.70 L183.78 215.70 L184.44 215.70 L185.10 215.70 L185.77 215.70 L186.43 215.70 L187.09 215.70 L187.76 215.70 L188.42 215.70 L189.08 215.70 L189.74 215.70 L190.41 215.70 L191.07 215.70 L191.73 215.70 L192.40 215.70 L193.06 215.70 L193.72 215.70 L194.39 215.70 L195.05 215.70 L195.71 215.70 L196.38 215.70 L197.04 215.70 L197.70 215.70 L198.37 215.70 L199.03 215.70 L199.69 215.70 L200.36 215.70 L201.02 215.70 L201.68 215.70 L202.35 215.70 L203.01 215.70 L203.67 215.70 L204.34 215.70 L205.00 215.70 L205.64 215.70 L206.27 215.68 L206.91 215.66 L207.55 215.63 L208.18 215.60 L208.82 215.56 L209.45 215.51 L210.09 215.47 L210.73 215.41 L211.36 215.36 L212.00 215.30 L212.67 215.21 L213.33 215.09 L214.00 214.93 L214.67 214.75 L215.33 214.57 L216.00 214.39 L216.67 214.23 L217.33 214.09 L218.00 214.00 L218.67 213.93 L219.33 213.87 L220.00 213.81 L220.67 213.75 L221.33 213.70 L222.00 213.66 L222.67 213.63 L223.33 213.61 L224.00 213.60 L224.67 213.61 L225.33 213.64 L226.00 213.69 L226.67 213.76 L227.33 213.83 L228.00 213.90 L228.67 213.97 L229.33 214.04 L230.00 214.11 L230.67 214.16 L231.33 214.19 L232.00 214.20 L232.67 214.19 L233.33 214.15 L234.00 214.10 L234.67 214.02 L235.33 213.94 L236.00 213.84 L236.67 213.73 L237.33 213.62 L238.00 213.50 L238.62 213.37 L239.25 213.19 L239.88 212.98 L240.50 212.75 L241.12 212.51 L241.75 212.26 L242.38 212.02 L243.00 211.80 L243.50 211.61 L244.00 211.39 L244.50 211.17 L245.00 210.98 L245.50 210.85 L246.00 210.80 L246.50 210.84 L247.00 210.93 L247.50 211.07 L248.00 211.24 L248.50 211.42 L249.00 211.60 L249.62 211.86 L250.25 212.20 L250.88 212.59 L251.50 212.99 L252.12 213.39 L252.75 213.76 L253.38 214.07 L254.00 214.30 L254.67 214.48 L255.33 214.65 L256.00 214.81 L256.67 214.96 L257.33 215.08 L258.00 215.20 L258.67 215.29 L259.33 215.36 L260.00 215.40 L260.67 215.43 L261.33 215.46 L262.00 215.49 L262.67 215.52 L263.33 215.54 L264.00 215.56 L264.67 215.58 L265.33 215.60 L266.00 215.62 L266.67 215.64 L267.33 215.65 L268.00 215.66 L268.67 215.68 L269.33 215.68 L270.00 215.69 L270.67 215.70 L271.33 215.70 L272.00 215.70 L272.66 215.70 L273.33 215.70 L273.99 215.70 L274.66 215.70 L275.32 215.70 L275.99 215.70 L276.65 215.70 L277.32 215.70 L277.98 215.70 L278.65 215.70 L279.31 215.70 L279.98 215.70 L280.64 215.70 L281.30 215.70 L281.97 215.70 L282.63 215.70 L283.30 215.70 L283.96 215.70 L284.63 215.70 L285.29 215.70 L285.96 215.70 L286.62 215.70 L287.29 215.70 L287.95 215.70 L288.62 215.70 L289.28 215.70 L289.95 215.70 L290.61 215.70 L291.27 215.70 L291.94 215.70 L292.60 215.70 L293.27 215.70 L293.93 215.70 L294.60 215.70 L295.26 215.70 L295.93 215.70 L296.59 215.70 L297.26 215.70 L297.92 215.70 L298.59 215.70 L299.25 215.70 L299.91 215.70 L300.58 215.70 L301.24 215.70 L301.91 215.70 L302.57 215.70 L303.24 215.70 L303.90 215.70 L304.57 215.70 L305.23 215.70 L305.90 215.70 L306.56 215.70 L307.23 215.70 L307.89 215.70 L308.55 215.70 L309.22 215.70 L309.88 215.70 L310.55 215.70 L311.21 215.70 L311.88 215.70 L312.54 215.70 L313.21 215.70 L313.87 215.70 L314.54 215.70 L315.20 215.70 L315.87 215.70 L316.53 215.70 L317.20 215.70 L317.86 215.70 L318.52 215.70 L319.19 215.70 L319.85 215.70 L320.52 215.70 L321.18 215.70 L321.85 215.70 L322.51 215.70 L323.18 215.70 L323.84 215.70 L324.51 215.70 L325.17 215.70 L325.84 215.70 L326.50 215.70" fill="none" stroke="#00ffff" stroke-width="1.00" stroke-dasharray="3.15,1.36" stroke-linejoin="round"/>
</g>
<rect x="24.50" y="12.50" width="302.00" height="203.50" fill="none" stroke="#000" stroke-opacity="0.85" stroke-width="0.8"/>
<path d="M24.50 216.00 v3.1" stroke="#000" stroke-opacity="0.85" stroke-width="0.8"/>
<text x="24.50" y="228.10" font-size="9.90" text-anchor="middle" textLength="23.84" lengthAdjust="spacingAndGlyphs">−180</text>
<path d="M100.00 216.00 v3.1" stroke="#000" stroke-opacity="0.85" stroke-width="0.8"/>
<text x="100.00" y="228.10" font-size="9.90" text-anchor="middle" textLength="18.32" lengthAdjust="spacingAndGlyphs">−90</text>
<path d="M175.50 216.00 v3.1" stroke="#000" stroke-opacity="0.85" stroke-width="0.8"/>
<text x="175.50" y="228.10" font-size="9.90" text-anchor="middle" textLength="5.52" lengthAdjust="spacingAndGlyphs">0</text>
<path d="M251.00 216.00 v3.1" stroke="#000" stroke-opacity="0.85" stroke-width="0.8"/>
<text x="251.00" y="228.10" font-size="9.90" text-anchor="middle" textLength="11.05" lengthAdjust="spacingAndGlyphs">90</text>
<path d="M24.50 216.00 h-3.1" stroke="#000" stroke-opacity="0.85" stroke-width="0.8"/>
<text x="18.70" y="219.25" font-size="9.90" text-anchor="end" textLength="19.33" lengthAdjust="spacingAndGlyphs">0.00</text>
<path d="M24.50 176.74 h-3.1" stroke="#000" stroke-opacity="0.85" stroke-width="0.8"/>
<text x="18.70" y="179.99" font-size="9.90" text-anchor="end" textLength="19.33" lengthAdjust="spacingAndGlyphs">0.01</text>
<path d="M24.50 137.48 h-3.1" stroke="#000" stroke-opacity="0.85" stroke-width="0.8"/>
<text x="18.70" y="140.73" font-size="9.90" text-anchor="end" textLength="19.33" lengthAdjust="spacingAndGlyphs">0.02</text>
<path d="M24.50 98.22 h-3.1" stroke="#000" stroke-opacity="0.85" stroke-width="0.8"/>
<text x="18.70" y="101.47" font-size="9.90" text-anchor="end" textLength="19.33" lengthAdjust="spacingAndGlyphs">0.03</text>
<path d="M24.50 58.96 h-3.1" stroke="#000" stroke-opacity="0.85" stroke-width="0.8"/>
<text x="18.70" y="62.21" font-size="9.90" text-anchor="end" textLength="19.33" lengthAdjust="spacingAndGlyphs">0.04</text>
<path d="M24.50 19.70 h-3.1" stroke="#000" stroke-opacity="0.85" stroke-width="0.8"/>
<text x="18.70" y="22.95" font-size="9.90" text-anchor="end" textLength="19.33" lengthAdjust="spacingAndGlyphs">0.05</text>
<text x="175.50" y="8.20" font-size="9.66" text-anchor="middle" textLength="59.69" lengthAdjust="spacingAndGlyphs">φ distribution</text>
<text x="175.50" y="239.70" font-size="9.90" text-anchor="middle" textLength="31.59" lengthAdjust="spacingAndGlyphs">Degree</text>
<rect x="253.60" y="16.40" width="69.00" height="56.30" rx="1.6" ry="1.6" fill="#fff" fill-opacity="0.8" stroke="#ccc" stroke-opacity="0.95" stroke-width="0.85"/>
<path d="M256.40 22.00 H271.80" fill="none" stroke="#0000ff" stroke-width="2.10" stroke-linejoin="round" stroke-linecap="square"/>
<text x="277.60" y="24.70" font-size="8.57" text-anchor="start" textLength="23.56" lengthAdjust="spacingAndGlyphs">Actual</text>
<path d="M256.40 32.93 H271.80" fill="none" stroke="#ff0000" stroke-width="2.10" stroke-dasharray="12.48,3.12,1.95,3.12" stroke-linejoin="round"/>
<text x="277.60" y="35.63" font-size="8.57" text-anchor="start" textLength="14.59" lengthAdjust="spacingAndGlyphs">SAP</text>
<path d="M256.40 43.86 H271.80" fill="none" stroke="#008000" stroke-width="1.30" stroke-dasharray="4.14,1.79" stroke-linejoin="round"/>
<text x="277.60" y="46.56" font-size="8.57" text-anchor="start" textLength="32.42" lengthAdjust="spacingAndGlyphs">SPOT-1D</text>
<path d="M256.40 54.79 H271.80" fill="none" stroke="#ff00ff" stroke-width="1.30" stroke-dasharray="1.12,1.85" stroke-linejoin="round"/>
<text x="277.60" y="57.49" font-size="8.57" text-anchor="start" textLength="32.08" lengthAdjust="spacingAndGlyphs">SPIDER2</text>
<path d="M256.40 65.72 H271.80" fill="none" stroke="#00ffff" stroke-width="1.00" stroke-dasharray="3.15,1.36" stroke-linejoin="round"/>
<text x="277.60" y="68.42" font-size="8.57" text-anchor="start" textLength="41.46" lengthAdjust="spacingAndGlyphs">OPUS-TASS</text>
</g>
<g>
<clipPath id="c2"><rect x="382.00" y="12.50" width="302.00" height="203.50"/></clipPath>
<g clip-path="url(#c2)">
<path d="M382.00 215.20 L382.67 215.22 L383.33 215.25 L384.00 215.27 L384.67 215.30 L385.33 215.33 L386.00 215.35 L386.67 215.38 L387.33 215.40 L388.00 215.43 L388.67 215.45 L389.33 215.48 L390.00 215.50 L390.67 215.52 L391.33 215.54 L392.00 215.56 L392.67 215.58 L393.33 215.60 L394.00 215.62 L394.67 215.63 L395.33 215.65 L396.00 215.66 L396.67 215.67 L397.33 215.68 L398.00 215.69 L398.67 215.70 L399.33 215.70 L400.00 215.70 L400.67 215.70 L401.33 215.70 L402.00 215.70 L402.67 215.70 L403.33 215.70 L404.00 215.70 L404.67 215.70 L405.33 215.70 L406.00 215.70 L406.67 215.70 L407.33 215.70 L408.00 215.70 L408.67 215.70 L409.33 215.70 L410.00 215.70 L410.67 215.70 L411.33 215.70 L412.00 215.70 L412.67 215.70 L413.33 215.70 L414.00 215.70 L414.67 215.70 L415.33 215.70 L416.00 215.70 L416.67 215.70 L417.33 215.70 L418.00 215.70 L418.67 215.70 L419.33 215.70 L420.00 215.70 L420.67 215.70 L421.33 215.70 L422.00 215.70 L422.67 215.70 L423.33 215.70 L424.00 215.70 L424.67 215.70 L425.33 215.70 L426.00 215.70 L426.67 215.70 L427.33 215.70 L428.00 215.70 L428.67 215.70 L429.33 215.70 L430.00 215.70 L430.67 215.70 L431.33 215.70 L432.00 215.70 L432.67 215.70 L433.33 215.70 L434.00 215.70 L434.67 215.70 L435.33 215.70 L436.00 215.70 L436.67 215.70 L437.33 215.70 L438.00 215.70 L438.67 215.70 L439.33 215.70 L440.00 215.70 L440.67 215.70 L441.33 215.69 L442.00 215.68 L442.67 215.67 L443.33 215.66 L444.00 215.64 L444.67 215.62 L445.33 215.60 L446.00 215.57 L446.67 215.55 L447.33 215.52 L448.00 215.49 L448.67 215.46 L449.33 215.43 L450.00 215.40 L450.67 215.37 L451.33 215.33 L452.00 215.30 L452.67 215.26 L453.33 215.22 L454.00 215.18 L454.67 215.12 L455.33 215.07 L456.00 215.00 L456.67 214.93 L457.33 214.84 L458.00 214.75 L458.67 214.65 L459.33 214.54 L460.00 214.43 L460.67 214.30 L461.33 214.17 L462.00 214.02 L462.67 213.87 L463.33 213.71 L464.00 213.55 L464.67 213.37 L465.33 213.19 L466.00 213.00 L466.67 212.79 L467.33 212.56 L468.00 212.30 L468.67 212.02 L469.33 211.71 L470.00 211.39 L470.67 211.04 L471.33 210.67 L472.00 210.28 L472.67 209.87 L473.33 209.44 L474.00 209.00 L474.67 208.52 L475.33 208.00 L476.00 207.42 L476.67 206.79 L477.33 206.12 L478.00 205.41 L478.67 204.65 L479.33 203.84 L480.00 203.00 L480.62 202.16 L481.25 201.25 L481.88 200.26 L482.50 199.19 L483.12 198.04 L483.75 196.79 L484.38 195.45 L485.00 194.00 L485.67 192.28 L486.33 190.33 L487.00 188.13 L487.67 185.68 L488.33 182.97 L489.00 180.00 L489.50 177.42 L490.00 174.40 L490.50 171.04 L491.00 167.46 L491.50 163.74 L492.00 160.00 L492.40 156.84 L492.80 153.40 L493.20 149.85 L493.60 146.33 L494.00 143.00 L494.40 140.00 L494.73 137.66 L495.07 135.34 L495.40 133.12 L495.73 131.09 L496.07 129.36 L496.40 128.00 L496.60 127.30 L496.80 126.62 L497.00 125.99 L497.20 125.47 L497.40 125.13 L497.60 125.00 L497.83 125.17 L498.07 125.63 L498.30 126.32 L498.53 127.16 L498.77 128.07 L499.00 129.00 L499.33 130.57 L499.67 132.58 L500.00 134.89 L500.33 137.33 L500.67 139.75 L501.00 142.00 L501.43 144.80 L501.87 147.67 L502.30 150.51 L502.73 153.24 L503.17 155.76 L503.60 158.00 L504.17 160.61 L504.73 163.05 L505.30 165.31 L505.87 167.39 L506.43 169.29 L507.00 171.00 L507.67 172.84 L508.33 174.55 L509.00 176.13 L509.67 177.57 L510.33 178.86 L511.00 180.00 L511.62 180.93 L512.25 181.76 L512.88 182.52 L513.50 183.22 L514.12 183.90 L514.75 184.57 L515.38 185.26 L516.00 186.00 L516.67 186.81 L517.33 187.62 L518.00 188.43 L518.67 189.26 L519.33 190.11 L520.00 191.00 L520.67 191.97 L521.33 193.04 L522.00 194.14 L522.67 195.20 L523.33 196.18 L524.00 197.00 L524.67 197.70 L525.33 198.34 L526.00 198.94 L526.67 199.50 L527.33 200.02 L528.00 200.53 L528.67 201.02 L529.33 201.51 L530.00 202.00 L530.67 202.49 L531.33 202.98 L532.00 203.45 L532.67 203.92 L533.33 204.37 L534.00 204.81 L534.67 205.23 L535.33 205.63 L536.00 206.00 L536.67 206.36 L537.33 206.71 L538.00 207.05 L538.67 207.39 L539.33 207.71 L540.00 208.02 L540.67 208.32 L541.33 208.61 L542.00 208.88 L542.67 209.14 L543.33 209.38 L544.00 209.60 L544.67 209.81 L545.33 210.01 L546.00 210.20 L546.67 210.38 L547.33 210.55 L548.00 210.72 L548.67 210.87 L549.33 211.03 L550.00 211.18 L550.67 211.32 L551.33 211.46 L552.00 211.60 L552.67 211.74 L553.33 211.87 L554.00 212.00 L554.67 212.13 L555.33 212.26 L556.00 212.38 L556.67 212.50 L557.33 212.61 L558.00 212.72 L558.67 212.82 L559.33 212.91 L560.00 213.00 L560.67 213.09 L561.33 213.18 L562.00 213.27 L562.67 213.35 L563.33 213.43 L564.00 213.50 L564.67 213.55 L565.33 213.59 L566.00 213.60 L566.33 213.53 L566.67 213.35 L567.00 213.08 L567.33 212.75 L567.67 212.38 L568.00 212.00 L568.23 211.68 L568.47 211.26 L568.70 210.80 L568.93 210.34 L569.17 209.92 L569.40 209.60 L569.60 209.37 L569.80 209.14 L570.00 208.93 L570.20 208.76 L570.40 208.64 L570.60 208.60 L570.80 208.66 L571.00 208.83 L571.20 209.08 L571.40 209.38 L571.60 209.69 L571.80 210.00 L572.03 210.41 L572.27 210.91 L572.50 211.46 L572.73 211.99 L572.97 212.46 L573.20 212.80 L573.50 213.13 L573.80 213.45 L574.10 213.72 L574.40 213.94 L574.70 214.11 L575.00 214.20 L575.62 214.29 L576.25 214.37 L576.88 214.42 L577.50 214.47 L578.12 214.51 L578.75 214.54 L579.38 214.57 L580.00 214.60 L580.67 214.64 L581.33 214.67 L582.00 214.70 L582.67 214.73 L583.33 214.76 L584.00 214.79 L584.67 214.81 L585.33 214.84 L586.00 214.86 L586.67 214.89 L587.33 214.91 L588.00 214.93 L588.67 214.95 L589.33 214.98 L590.00 215.00 L590.67 215.02 L591.33 215.04 L592.00 215.07 L592.67 215.09 L593.33 215.11 L594.00 215.13 L594.67 215.15 L595.33 215.17 L596.00 215.19 L596.67 215.20 L597.33 215.22 L598.00 215.24 L598.67 215.26 L599.33 215.28 L600.00 215.30 L600.67 215.32 L601.33 215.34 L602.00 215.36 L602.67 215.38 L603.33 215.40 L604.00 215.42 L604.67 215.44 L605.33 215.45 L606.00 215.47 L606.67 215.49 L607.33 215.51 L608.00 215.53 L608.67 215.55 L609.33 215.57 L610.00 215.59 L610.67 215.61 L611.33 215.63 L612.00 215.64 L612.67 215.66 L613.33 215.68 L614.00 215.70" fill="none" stroke="#0000ff" stroke-width="2.10" stroke-linejoin="round"/>
<path d="M382.00 215.40 L382.67 215.41 L383.33 215.43 L384.00 215.44 L384.67 215.46 L385.33 215.47 L386.00 215.49 L386.67 215.50 L387.33 215.52 L388.00 215.53 L388.67 215.55 L389.33 215.56 L390.00 215.58 L390.67 215.59 L391.33 215.60 L392.00 215.62 L392.67 215.63 L393.33 215.64 L394.00 215.65 L394.67 215.66 L395.33 215.67 L396.00 215.68 L396.67 215.68 L397.33 215.69 L398.00 215.69 L398.67 215.70 L399.33 215.70 L400.00 215.70 L400.67 215.70 L401.33 215.70 L402.00 215.70 L402.67 215.70 L403.33 215.70 L404.00 215.70 L404.67 215.70 L405.33 215.70 L406.00 215.70 L406.67 215.70 L407.33 215.70 L408.00 215.70 L408.67 215.70 L409.33 215.70 L410.00 215.70 L410.67 215.70 L411.33 215.70 L412.00 215.70 L412.67 215.70 L413.33 215.70 L414.00 215.70 L414.67 215.70 L415.33 215.70 L416.00 215.70 L416.67 215.70 L417.33 215.70 L418.00 215.70 L418.67 215.70 L419.33 215.70 L420.00 215.70 L420.67 215.70 L421.33 215.70 L422.00 215.70 L422.67 215.70 L423.33 215.70 L424.00 215.70 L424.67 215.70 L425.33 215.70 L426.00 215.70 L426.67 215.70 L427.33 215.70 L428.00 215.70 L428.67 215.70 L429.33 215.70 L430.00 215.70 L430.67 215.70 L431.33 215.70 L432.00 215.70 L432.67 215.70 L433.33 215.70 L434.00 215.70 L434.67 215.70 L435.33 215.70 L436.00 215.70 L436.67 215.70 L437.33 215.70 L438.00 215.70 L438.67 215.70 L439.33 215.70 L440.00 215.70 L440.67 215.70 L441.33 215.70 L442.00 215.70 L442.67 215.70 L443.33 215.70 L444.00 215.70 L444.67 215.70 L445.33 215.70 L446.00 215.70 L446.67 215.70 L447.33 215.70 L448.00 215.70 L448.67 215.70 L449.33 215.70 L450.00 215.70 L450.67 215.70 L451.33 215.70 L452.00 215.70 L452.67 215.70 L453.33 215.69 L454.00 215.67 L454.67 215.66 L455.33 215.63 L456.00 215.61 L456.67 215.58 L457.33 215.55 L458.00 215.51 L458.67 215.48 L459.33 215.44 L460.00 215.40 L460.67 215.36 L461.33 215.30 L462.00 215.24 L462.67 215.17 L463.33 215.09 L464.00 215.01 L464.67 214.92 L465.33 214.82 L466.00 214.72 L466.67 214.61 L467.33 214.49 L468.00 214.37 L468.67 214.25 L469.33 214.13 L470.00 214.00 L470.67 213.87 L471.33 213.73 L472.00 213.59 L472.67 213.44 L473.33 213.28 L474.00 213.10 L474.67 212.91 L475.33 212.69 L476.00 212.46 L476.67 212.20 L477.33 211.91 L478.00 211.60 L478.62 211.23 L479.25 210.74 L479.88 210.15 L480.50 209.47 L481.12 208.70 L481.75 207.86 L482.38 206.96 L483.00 206.00 L483.67 204.85 L484.33 203.50 L485.00 201.95 L485.67 200.18 L486.33 198.20 L487.00 196.00 L487.50 194.10 L488.00 191.88 L488.50 189.34 L489.00 186.51 L489.50 183.39 L490.00 180.00 L490.40 176.89 L490.80 173.27 L491.20 169.25 L491.60 164.95 L492.00 160.50 L492.40 156.00 L492.67 153.03 L492.93 150.02 L493.20 146.89 L493.47 143.57 L493.73 139.97 L494.00 136.00 L494.17 133.28 L494.33 130.34 L494.50 127.16 L494.67 123.73 L494.83 120.01 L495.00 116.00 L495.13 112.41 L495.27 108.36 L495.40 103.98 L495.53 99.39 L495.67 94.69 L495.80 90.00 L495.93 85.18 L496.07 80.12 L496.20 74.93 L496.33 69.75 L496.47 64.73 L496.60 60.00 L496.73 55.48 L496.87 51.03 L497.00 46.71 L497.13 42.57 L497.27 38.65 L497.40 35.00 L497.50 32.17 L497.60 29.12 L497.70 26.19 L497.80 23.69 L497.90 21.95 L498.00 21.30" fill="none" stroke="#ff0000" stroke-width="2.10" stroke-dasharray="12.48,3.12,1.95,3.12" stroke-linejoin="round" stroke-dashoffset="20.5"/>
<path d="M498.00 21.30 L498.08 21.96 L498.17 23.71 L498.25 26.23 L498.33 29.17 L498.42 32.20 L498.50 35.00 L498.62 38.75 L498.73 42.78 L498.85 46.99 L498.97 51.32 L499.08 55.68 L499.20 60.00 L499.33 65.04 L499.47 70.28 L499.60 75.56 L499.73 80.72 L499.87 85.59 L500.00 90.00 L500.17 95.01 L500.33 99.75 L500.50 104.21 L500.67 108.40 L500.83 112.33 L501.00 116.00 L501.17 119.49 L501.33 122.83 L501.50 126.00 L501.67 128.94 L501.83 131.62 L502.00 134.00 L502.33 138.07 L502.67 141.57 L503.00 144.70 L503.33 147.68 L503.67 150.71 L504.00 154.00 L504.18 156.08 L504.37 158.36 L504.55 160.67 L504.73 162.83 L504.92 164.66" fill="none" stroke="#ff0000" stroke-width="2.10" stroke-dasharray="12.48,3.12,1.95,3.12" stroke-linejoin="round" stroke-dashoffset="3.2"/>
<path d="M505.10 166.00 L505.60 168.50 L506.10 170.50 L506.60 172.12 L507.10 173.50 L507.60 174.78 L508.10 176.10 L508.60 177.44 L509.10 178.72 L509.60 179.92 L510.10 181.05 L510.60 182.11 L511.10 183.10 L511.68 184.16 L512.27 185.13 L512.85 186.04 L513.43 186.92 L514.02 187.79 L514.60 188.70 L515.19 189.64 L515.77 190.60 L516.36 191.55 L516.94 192.50 L517.53 193.43 L518.11 194.33 L518.70 195.20 L519.20 195.94 L519.70 196.69 L520.20 197.43 L520.70 198.11 L521.20 198.71 L521.70 199.20 L522.28 199.69 L522.87 200.18 L523.45 200.62 L524.03 200.97 L524.62 201.21 L525.20 201.30 L525.67 201.30 L526.13 201.30 L526.60 201.30 L527.07 201.30 L527.53 201.30 L528.00 201.30 L528.47 201.27 L528.93 201.20 L529.40 201.10 L529.87 201.00 L530.33 200.93 L530.80 200.90 L531.47 200.93 L532.13 201.02 L532.80 201.16 L533.47 201.35 L534.13 201.56 L534.80 201.80 L535.38 202.12 L535.97 202.62 L536.55 203.25 L537.13 203.94 L537.72 204.64 L538.30 205.30 L538.88 205.97 L539.47 206.71 L540.05 207.46 L540.63 208.17 L541.22 208.81 L541.80 209.30 L542.44 209.72 L543.07 210.10 L543.71 210.44 L544.35 210.75 L544.99 211.03 L545.62 211.29 L546.26 211.55 L546.90 211.80 L547.54 212.05 L548.19 212.29 L548.83 212.53 L549.47 212.74 L550.11 212.95 L550.76 213.13 L551.40 213.30 L552.03 213.45 L552.66 213.60 L553.29 213.75 L553.92 213.89 L554.56 214.03 L555.19 214.16 L555.82 214.29 L556.45 214.41 L557.08 214.53 L557.71 214.64 L558.34 214.74 L558.98 214.83 L559.61 214.91 L560.24 214.99 L560.87 215.05 L561.50 215.10 L562.14 215.15 L562.79 215.19 L563.43 215.24 L564.07 215.28 L564.71 215.32 L565.36 215.36 L566.00 215.40 L566.64 215.44 L567.29 215.47 L567.93 215.51 L568.57 215.54 L569.21 215.57 L569.86 215.59 L570.50 215.62 L571.14 215.64 L571.79 215.66 L572.43 215.67 L573.07 215.68 L573.71 215.69 L574.36 215.70 L575.00 215.70 L575.67 215.70 L576.33 215.70 L577.00 215.70 L577.67 215.70 L578.33 215.70 L579.00 215.70 L579.67 215.70 L580.33 215.70 L581.00 215.70 L581.67 215.70 L582.33 215.70 L583.00 215.70 L583.67 215.70 L584.33 215.70 L585.00 215.70 L585.67 215.70 L586.33 215.70 L587.00 215.70 L587.67 215.70 L588.33 215.70 L589.00 215.70 L589.67 215.70 L590.33 215.70 L591.00 215.70 L591.67 215.70 L592.33 215.70 L593.00 215.70 L593.67 215.70 L594.33 215.70 L595.00 215.70 L595.67 215.70 L596.33 215.70 L597.00 215.70 L597.67 215.70 L598.33 215.70 L599.00 215.70 L599.67 215.70 L600.33 215.70 L601.00 215.70 L601.67 215.70 L602.33 215.70 L603.00 215.70 L603.67 215.70 L604.33 215.70 L605.00 215.70" fill="none" stroke="#ff0000" stroke-width="2.10" stroke-dasharray="12.48,3.12,1.95,3.12" stroke-linejoin="round" stroke-dashoffset="8.9"/>
<path d="M382.00 214.30 L382.67 214.30 L383.33 214.30 L384.00 214.30 L384.67 214.30 L385.33 214.30 L386.00 214.30 L386.67 214.30 L387.33 214.30 L388.00 214.30 L388.67 214.31 L389.33 214.34 L390.00 214.39 L390.67 214.45 L391.33 214.52 L392.00 214.60 L392.67 214.68 L393.33 214.76 L394.00 214.83 L394.67 214.90 L395.33 214.96 L396.00 215.00 L396.67 215.03 L397.33 215.07 L398.00 215.10 L398.67 215.14 L399.33 215.17 L400.00 215.20 L400.67 215.23 L401.33 215.26 L402.00 215.29 L402.67 215.32 L403.33 215.34 L404.00 215.37 L404.67 215.39 L405.33 215.41 L406.00 215.43 L406.67 215.45 L407.33 215.46 L408.00 215.47 L408.67 215.49 L409.33 215.49 L410.00 215.50 L410.67 215.50 L411.33 215.51 L412.00 215.51 L412.67 215.52 L413.33 215.52 L414.00 215.53 L414.67 215.53 L415.33 215.54 L416.00 215.54 L416.67 215.55 L417.33 215.55 L418.00 215.55 L418.67 215.56 L419.33 215.56 L420.00 215.57 L420.67 215.57 L421.33 215.57 L422.00 215.58 L422.67 215.58 L423.33 215.58 L424.00 215.59 L424.67 215.59 L425.33 215.60 L426.00 215.60 L426.67 215.60 L427.33 215.60 L428.00 215.61 L428.67 215.61 L429.33 215.61 L430.00 215.62 L430.67 215.62 L431.33 215.62 L432.00 215.63 L432.67 215.63 L433.33 215.63 L434.00 215.63 L434.67 215.64 L435.33 215.64 L436.00 215.64 L436.67 215.64 L437.33 215.65 L438.00 215.65 L438.67 215.65 L439.33 215.65 L440.00 215.66 L440.67 215.66 L441.33 215.66 L442.00 215.66 L442.67 215.66 L443.33 215.67 L444.00 215.67 L444.67 215.67 L445.33 215.67 L446.00 215.67 L446.67 215.67 L447.33 215.68 L448.00 215.68 L448.67 215.68 L449.33 215.68 L450.00 215.68 L450.67 215.68 L451.33 215.68 L452.00 215.68 L452.67 215.69 L453.33 215.69 L454.00 215.69 L454.67 215.69 L455.33 215.69 L456.00 215.69 L456.67 215.69 L457.33 215.69 L458.00 215.69 L458.67 215.69 L459.33 215.69 L460.00 215.70 L460.67 215.70 L461.33 215.70 L462.00 215.70 L462.67 215.70 L463.33 215.70 L464.00 215.70 L464.67 215.70 L465.33 215.70 L466.00 215.70 L466.67 215.70 L467.33 215.70 L468.00 215.70 L468.67 215.70 L469.33 215.70 L470.00 215.70 L470.67 215.69 L471.33 215.66 L472.00 215.62 L472.67 215.56 L473.33 215.48 L474.00 215.39 L474.67 215.29 L475.33 215.17 L476.00 215.03 L476.67 214.89 L477.33 214.73 L478.00 214.56 L478.67 214.39 L479.33 214.20 L480.00 214.00 L480.62 213.77 L481.25 213.45 L481.88 213.06 L482.50 212.58 L483.12 212.04 L483.75 211.42 L484.38 210.74 L485.00 210.00 L485.67 208.98 L486.33 207.60 L487.00 205.95 L487.67 204.08 L488.33 202.08 L489.00 200.00 L489.57 198.05 L490.13 195.82 L490.70 193.41 L491.27 190.90 L491.83 188.40 L492.40 186.00 L492.93 183.73 L493.47 181.37 L494.00 179.01 L494.53 176.76 L495.07 174.72 L495.60 173.00 L496.00 171.87 L496.40 170.78 L496.80 169.77 L497.20 168.88 L497.60 168.14 L498.00 167.60 L498.27 167.31 L498.53 167.03 L498.80 166.78 L499.07 166.58 L499.33 166.45 L499.60 166.40 L499.93 166.48 L500.27 166.70 L500.60 167.04 L500.93 167.45 L501.27 167.92 L501.60 168.40 L502.00 169.13 L502.40 170.12 L502.80 171.27 L503.20 172.53 L503.60 173.80 L504.00 175.00 L504.50 176.48 L505.00 178.03 L505.50 179.60 L506.00 181.15 L506.50 182.63 L507.00 184.00 L507.67 185.72 L508.33 187.40 L509.00 189.00 L509.67 190.50 L510.33 191.84 L511.00 193.00 L511.62 193.96 L512.25 194.87 L512.88 195.72 L513.50 196.50 L514.12 197.23 L514.75 197.89 L515.38 198.48 L516.00 199.00 L516.67 199.51 L517.33 199.99 L518.00 200.44 L518.67 200.86 L519.33 201.25 L520.00 201.60 L520.67 201.91 L521.33 202.18 L522.00 202.40 L522.67 202.58 L523.33 202.74 L524.00 202.88 L524.67 203.00 L525.33 203.12 L526.00 203.23 L526.67 203.34 L527.33 203.46 L528.00 203.60 L528.67 203.74 L529.33 203.88 L530.00 204.02 L530.67 204.16 L531.33 204.31 L532.00 204.46 L532.67 204.63 L533.33 204.81 L534.00 205.00 L534.67 205.22 L535.33 205.47 L536.00 205.75 L536.67 206.05 L537.33 206.36 L538.00 206.68 L538.67 207.00 L539.33 207.30 L540.00 207.60 L540.67 207.89 L541.33 208.19 L542.00 208.50 L542.67 208.80 L543.33 209.11 L544.00 209.41 L544.67 209.71 L545.33 210.00 L546.00 210.28 L546.67 210.54 L547.33 210.78 L548.00 211.00 L548.67 211.21 L549.33 211.41 L550.00 211.61 L550.67 211.80 L551.33 211.98 L552.00 212.15 L552.67 212.32 L553.33 212.47 L554.00 212.62 L554.67 212.76 L555.33 212.89 L556.00 213.00 L556.67 213.11 L557.33 213.21 L558.00 213.32 L558.67 213.42 L559.33 213.52 L560.00 213.62 L560.67 213.71 L561.33 213.80 L562.00 213.88 L562.67 213.96 L563.33 214.04 L564.00 214.11 L564.67 214.17 L565.33 214.23 L566.00 214.29 L566.67 214.33 L567.33 214.37 L568.00 214.40 L568.65 214.43 L569.31 214.45 L569.96 214.48 L570.62 214.50 L571.27 214.53 L571.92 214.55 L572.58 214.57 L573.23 214.59 L573.88 214.61 L574.54 214.63 L575.19 214.65 L575.85 214.67 L576.50 214.69 L577.15 214.70 L577.81 214.72 L578.46 214.73 L579.12 214.74 L579.77 214.76 L580.42 214.77 L581.08 214.77 L581.73 214.78 L582.38 214.79 L583.04 214.79 L583.69 214.80 L584.35 214.80 L585.00 214.80 L585.65 214.80 L586.30 214.80 L586.96 214.80 L587.61 214.79 L588.26 214.79 L588.91 214.78 L589.57 214.78 L590.22 214.77 L590.87 214.77 L591.52 214.76 L592.17 214.75 L592.83 214.74 L593.48 214.73 L594.13 214.72 L594.78 214.71 L595.43 214.70 L596.09 214.69 L596.74 214.67 L597.39 214.66 L598.04 214.65 L598.70 214.63 L599.35 214.62 L600.00 214.60 L600.67 214.58 L601.33 214.55 L602.00 214.52 L602.67 214.47 L603.33 214.42 L604.00 214.37 L604.67 214.32 L605.33 214.26 L606.00 214.19 L606.67 214.13 L607.33 214.06 L608.00 214.00 L608.67 213.94 L609.33 213.87 L610.00 213.80 L610.67 213.73 L611.33 213.66 L612.00 213.58 L612.67 213.49 L613.33 213.41 L614.00 213.31 L614.67 213.21 L615.33 213.11 L616.00 212.99 L616.67 212.87 L617.33 212.74 L618.00 212.60 L618.64 212.45 L619.27 212.27 L619.91 212.06 L620.55 211.83 L621.18 211.57 L621.82 211.29 L622.45 210.99 L623.09 210.67 L623.73 210.33 L624.36 209.97 L625.00 209.60 L625.62 209.20 L626.25 208.75 L626.88 208.24 L627.50 207.69 L628.12 207.09 L628.75 206.44 L629.38 205.74 L630.00 205.00 L630.67 204.09 L631.33 203.02 L632.00 201.82 L632.67 200.56 L633.33 199.27 L634.00 198.00 L634.67 196.71 L635.33 195.36 L636.00 193.97 L636.67 192.59 L637.33 191.26 L638.00 190.00 L638.67 188.76 L639.33 187.48 L640.00 186.24 L640.67 185.10 L641.33 184.13 L642.00 183.40 L642.67 182.81 L643.33 182.26 L644.00 181.76 L644.67 181.36 L645.33 181.10 L646.00 181.00 L646.67 181.08 L647.33 181.29 L648.00 181.61 L648.67 182.02 L649.33 182.49 L650.00 183.00 L650.67 183.71 L651.33 184.72 L652.00 185.96 L652.67 187.31 L653.33 188.69 L654.00 190.00 L654.67 191.29 L655.33 192.65 L656.00 194.04 L656.67 195.42 L657.33 196.75 L658.00 198.00 L658.62 199.13 L659.25 200.26 L659.88 201.37 L660.50 202.45 L661.12 203.47 L661.75 204.42 L662.38 205.27 L663.00 206.00 L663.62 206.64 L664.25 207.24 L664.88 207.80 L665.50 208.31 L666.12 208.79 L666.75 209.23 L667.38 209.63 L668.00 210.00 L668.67 210.37 L669.33 210.72 L670.00 211.05 L670.67 211.36 L671.33 211.65 L672.00 211.92 L672.67 212.17 L673.33 212.39 L674.00 212.60 L674.63 212.78 L675.25 212.96 L675.88 213.14 L676.51 213.31 L677.13 213.47 L677.76 213.63 L678.39 213.78 L679.01 213.92 L679.64 214.05 L680.27 214.18 L680.89 214.29 L681.52 214.39 L682.15 214.47 L682.77 214.54 L683.40 214.60" fill="none" stroke="#008000" stroke-width="1.30" stroke-dasharray="4.14,1.79" stroke-linejoin="round"/>
<path d="M382.00 214.30 L382.67 214.30 L383.33 214.30 L384.00 214.30 L384.67 214.30 L385.33 214.30 L386.00 214.30 L386.67 214.30 L387.33 214.30 L388.00 214.30 L388.67 214.31 L389.33 214.34 L390.00 214.39 L390.67 214.45 L391.33 214.52 L392.00 214.60 L392.67 214.68 L393.33 214.76 L394.00 214.83 L394.67 214.90 L395.33 214.96 L396.00 215.00 L396.67 215.03 L397.33 215.07 L398.00 215.10 L398.67 215.14 L399.33 215.17 L400.00 215.20 L400.67 215.23 L401.33 215.26 L402.00 215.29 L402.67 215.32 L403.33 215.34 L404.00 215.37 L404.67 215.39 L405.33 215.41 L406.00 215.43 L406.67 215.45 L407.33 215.46 L408.00 215.47 L408.67 215.49 L409.33 215.49 L410.00 215.50 L410.67 215.50 L411.33 215.51 L412.00 215.51 L412.67 215.52 L413.33 215.52 L414.00 215.53 L414.67 215.53 L415.33 215.54 L416.00 215.54 L416.67 215.55 L417.33 215.55 L418.00 215.55 L418.67 215.56 L419.33 215.56 L420.00 215.57 L420.67 215.57 L421.33 215.57 L422.00 215.58 L422.67 215.58 L423.33 215.58 L424.00 215.59 L424.67 215.59 L425.33 215.60 L426.00 215.60 L426.67 215.60 L427.33 215.60 L428.00 215.61 L428.67 215.61 L429.33 215.61 L430.00 215.62 L430.67 215.62 L431.33 215.62 L432.00 215.63 L432.67 215.63 L433.33 215.63 L434.00 215.63 L434.67 215.64 L435.33 215.64 L436.00 215.64 L436.67 215.64 L437.33 215.65 L438.00 215.65 L438.67 215.65 L439.33 215.65 L440.00 215.66 L440.67 215.66 L441.33 215.66 L442.00 215.66 L442.67 215.66 L443.33 215.67 L444.00 215.67 L444.67 215.67 L445.33 215.67 L446.00 215.67 L446.67 215.67 L447.33 215.68 L448.00 215.68 L448.67 215.68 L449.33 215.68 L450.00 215.68 L450.67 215.68 L451.33 215.68 L452.00 215.68 L452.67 215.69 L453.33 215.69 L454.00 215.69 L454.67 215.69 L455.33 215.69 L456.00 215.69 L456.67 215.69 L457.33 215.69 L458.00 215.69 L458.67 215.69 L459.33 215.69 L460.00 215.70 L460.67 215.70 L461.33 215.70 L462.00 215.70 L462.67 215.70 L463.33 215.70 L464.00 215.70 L464.67 215.70 L465.33 215.70 L466.00 215.70 L466.67 215.70 L467.33 215.70 L468.00 215.70 L468.67 215.70 L469.33 215.70 L470.00 215.70 L470.67 215.69 L471.33 215.66 L472.00 215.62 L472.67 215.56 L473.33 215.48 L474.00 215.39 L474.67 215.29 L475.33 215.17 L476.00 215.03 L476.67 214.89 L477.33 214.73 L478.00 214.56 L478.67 214.39 L479.33 214.20 L480.00 214.00 L480.62 213.77 L481.25 213.45 L481.88 213.05 L482.50 212.57 L483.12 212.03 L483.75 211.41 L484.38 210.73 L485.00 210.00 L485.67 209.01 L486.33 207.71 L487.00 206.16 L487.67 204.40 L488.33 202.50 L489.00 200.50 L489.57 198.58 L490.13 196.35 L490.70 193.91 L491.27 191.38 L491.83 188.88 L492.40 186.50 L492.93 184.30 L493.47 182.03 L494.00 179.77 L494.53 177.63 L495.07 175.67 L495.60 174.00 L496.00 172.88 L496.40 171.79 L496.80 170.78 L497.20 169.89 L497.60 169.15 L498.00 168.60 L498.27 168.31 L498.53 168.03 L498.80 167.78 L499.07 167.58 L499.33 167.45 L499.60 167.40 L499.87 167.49 L500.13 167.72 L500.40 168.07 L500.67 168.49 L500.93 168.95 L501.20 169.40 L501.60 170.15 L502.00 171.08 L502.40 172.12 L502.80 173.23 L503.20 174.38 L503.60 175.50 L504.10 176.94 L504.60 178.48 L505.10 180.06 L505.60 181.63 L506.10 183.12 L506.60 184.50 L507.27 186.22 L507.93 187.90 L508.60 189.50 L509.27 191.00 L509.93 192.34 L510.60 193.50 L511.23 194.47 L511.85 195.39 L512.48 196.25 L513.10 197.05 L513.73 197.79 L514.35 198.44 L514.98 199.02 L515.60 199.50 L516.27 199.95 L516.93 200.36 L517.60 200.75 L518.27 201.10 L518.93 201.42 L519.60 201.71 L520.27 201.97 L520.93 202.20 L521.60 202.40 L522.27 202.58 L522.93 202.73 L523.60 202.87 L524.27 202.99 L524.93 203.11 L525.60 203.22 L526.27 203.34 L526.93 203.46 L527.60 203.60 L528.27 203.74 L528.93 203.88 L529.60 204.02 L530.27 204.16 L530.93 204.31 L531.60 204.46 L532.27 204.63 L532.93 204.81 L533.60 205.00 L534.27 205.22 L534.93 205.47 L535.60 205.75 L536.27 206.05 L536.93 206.36 L537.60 206.68 L538.27 207.00 L538.93 207.30 L539.60 207.60 L540.27 207.89 L540.93 208.19 L541.60 208.50 L542.27 208.80 L542.93 209.11 L543.60 209.41 L544.27 209.71 L544.93 210.00 L545.60 210.28 L546.27 210.54 L546.93 210.78 L547.60 211.00 L548.27 211.21 L548.93 211.41 L549.60 211.61 L550.27 211.80 L550.93 211.98 L551.60 212.15 L552.27 212.32 L552.93 212.48 L553.60 212.63 L554.27 212.76 L554.93 212.89 L555.60 213.00 L556.25 213.10 L556.91 213.21 L557.56 213.31 L558.21 213.40 L558.86 213.50 L559.52 213.59 L560.17 213.68 L560.82 213.76 L561.47 213.85 L562.13 213.92 L562.78 214.00 L563.43 214.07 L564.08 214.13 L564.74 214.19 L565.39 214.24 L566.04 214.29 L566.69 214.33 L567.35 214.37 L568.00 214.40 L568.65 214.43 L569.31 214.45 L569.96 214.48 L570.62 214.50 L571.27 214.52 L571.92 214.55 L572.58 214.57 L573.23 214.59 L573.88 214.61 L574.54 214.63 L575.19 214.65 L575.85 214.67 L576.50 214.69 L577.15 214.70 L577.81 214.72 L578.46 214.73 L579.12 214.74 L579.77 214.75 L580.42 214.76 L581.08 214.77 L581.73 214.78 L582.38 214.79 L583.04 214.79 L583.69 214.80 L584.35 214.80 L585.00 214.80 L585.65 214.80 L586.30 214.80 L586.96 214.80 L587.61 214.79 L588.26 214.79 L588.91 214.79 L589.57 214.78 L590.22 214.78 L590.87 214.77 L591.52 214.76 L592.17 214.75 L592.83 214.74 L593.48 214.74 L594.13 214.72 L594.78 214.71 L595.43 214.70 L596.09 214.69 L596.74 214.68 L597.39 214.66 L598.04 214.65 L598.70 214.63 L599.35 214.62 L600.00 214.60 L600.67 214.57 L601.33 214.53 L602.00 214.47 L602.67 214.39 L603.33 214.31 L604.00 214.21 L604.67 214.11 L605.33 214.01 L606.00 213.90 L606.67 213.80 L607.33 213.70 L608.00 213.60 L608.67 213.51 L609.33 213.42 L610.00 213.33 L610.67 213.24 L611.33 213.16 L612.00 213.07 L612.67 212.97 L613.33 212.88 L614.00 212.77 L614.67 212.67 L615.33 212.55 L616.00 212.43 L616.67 212.30 L617.33 212.15 L618.00 212.00 L618.64 211.84 L619.27 211.65 L619.91 211.44 L620.55 211.20 L621.18 210.95 L621.82 210.67 L622.45 210.38 L623.09 210.06 L623.73 209.72 L624.36 209.37 L625.00 209.00 L625.62 208.60 L626.25 208.15 L626.88 207.65 L627.50 207.10 L628.12 206.50 L628.75 205.85 L629.38 205.15 L630.00 204.40 L630.67 203.47 L631.33 202.36 L632.00 201.13 L632.67 199.82 L633.33 198.50 L634.00 197.20 L634.67 195.90 L635.33 194.54 L636.00 193.16 L636.67 191.78 L637.33 190.45 L638.00 189.20 L638.67 187.96 L639.33 186.70 L640.00 185.47 L640.67 184.33 L641.33 183.36 L642.00 182.60 L642.60 182.03 L643.20 181.48 L643.80 180.98 L644.40 180.57 L645.00 180.30 L645.60 180.20 L646.23 180.28 L646.87 180.52 L647.50 180.88 L648.13 181.33 L648.77 181.85 L649.40 182.40 L650.03 183.15 L650.67 184.21 L651.30 185.48 L651.93 186.86 L652.57 188.27 L653.20 189.60 L653.87 190.97 L654.53 192.39 L655.20 193.84 L655.87 195.28 L656.53 196.68 L657.20 198.00 L657.80 199.17 L658.40 200.35 L659.00 201.52 L659.60 202.67 L660.20 203.75 L660.80 204.75 L661.40 205.64 L662.00 206.40 L662.62 207.09 L663.25 207.72 L663.88 208.31 L664.50 208.85 L665.12 209.35 L665.75 209.80 L666.38 210.22 L667.00 210.60 L667.67 210.98 L668.33 211.34 L669.00 211.68 L669.67 212.00 L670.33 212.30 L671.00 212.57 L671.67 212.81 L672.33 213.02 L673.00 213.20 L673.65 213.35 L674.30 213.50 L674.95 213.65 L675.60 213.80 L676.25 213.94 L676.90 214.07 L677.55 214.19 L678.20 214.31 L678.85 214.41 L679.50 214.51 L680.15 214.59 L680.80 214.67 L681.45 214.72 L682.10 214.76 L682.75 214.79 L683.40 214.80" fill="none" stroke="#ff00ff" stroke-width="1.30" stroke-dasharray="1.12,1.85" stroke-linejoin="round"/>
<path d="M382.30 214.30 L382.97 214.30 L383.63 214.30 L384.30 214.30 L384.97 214.30 L385.63 214.30 L386.30 214.30 L386.97 214.30 L387.63 214.30 L388.30 214.30 L388.97 214.31 L389.63 214.34 L390.30 214.39 L390.97 214.45 L391.63 214.52 L392.30 214.60 L392.97 214.68 L393.63 214.76 L394.30 214.83 L394.97 214.90 L395.63 214.96 L396.30 215.00 L396.97 215.03 L397.63 215.07 L398.30 215.10 L398.97 215.14 L399.63 215.17 L400.30 215.20 L400.97 215.23 L401.63 215.26 L402.30 215.29 L402.97 215.32 L403.63 215.34 L404.30 215.37 L404.97 215.39 L405.63 215.41 L406.30 215.43 L406.97 215.45 L407.63 215.46 L408.30 215.47 L408.97 215.49 L409.63 215.49 L410.30 215.50 L410.97 215.50 L411.63 215.51 L412.30 215.51 L412.97 215.52 L413.63 215.52 L414.30 215.53 L414.97 215.53 L415.63 215.54 L416.30 215.54 L416.97 215.55 L417.63 215.55 L418.30 215.55 L418.97 215.56 L419.63 215.56 L420.30 215.57 L420.97 215.57 L421.63 215.57 L422.30 215.58 L422.97 215.58 L423.63 215.58 L424.30 215.59 L424.97 215.59 L425.63 215.60 L426.30 215.60 L426.97 215.60 L427.63 215.60 L428.30 215.61 L428.97 215.61 L429.63 215.61 L430.30 215.62 L430.97 215.62 L431.63 215.62 L432.30 215.63 L432.97 215.63 L433.63 215.63 L434.30 215.63 L434.97 215.64 L435.63 215.64 L436.30 215.64 L436.97 215.64 L437.63 215.65 L438.30 215.65 L438.97 215.65 L439.63 215.65 L440.30 215.66 L440.97 215.66 L441.63 215.66 L442.30 215.66 L442.97 215.66 L443.63 215.67 L444.30 215.67 L444.97 215.67 L445.63 215.67 L446.30 215.67 L446.97 215.67 L447.63 215.68 L448.30 215.68 L448.97 215.68 L449.63 215.68 L450.30 215.68 L450.97 215.68 L451.63 215.68 L452.30 215.68 L452.97 215.69 L453.63 215.69 L454.30 215.69 L454.97 215.69 L455.63 215.69 L456.30 215.69 L456.97 215.69 L457.63 215.69 L458.30 215.69 L458.97 215.69 L459.63 215.69 L460.30 215.70 L460.97 215.70 L461.63 215.70 L462.30 215.70 L462.97 215.70 L463.63 215.70 L464.30 215.70 L464.97 215.70 L465.63 215.70 L466.30 215.70 L466.97 215.70 L467.63 215.70 L468.30 215.70 L468.97 215.70 L469.63 215.70 L470.30 215.70 L470.96 215.69 L471.63 215.66 L472.29 215.61 L472.96 215.54 L473.62 215.45 L474.29 215.34 L474.95 215.22 L475.61 215.08 L476.28 214.93 L476.94 214.77 L477.61 214.59 L478.27 214.40 L478.94 214.21 L479.60 214.00 L480.23 213.76 L480.85 213.44 L481.48 213.04 L482.10 212.57 L482.73 212.03 L483.35 211.42 L483.98 210.74 L484.60 210.00 L485.27 208.98 L485.93 207.60 L486.60 205.95 L487.27 204.08 L487.93 202.08 L488.60 200.00 L489.17 198.05 L489.73 195.82 L490.30 193.41 L490.87 190.90 L491.43 188.40 L492.00 186.00 L492.53 183.73 L493.07 181.37 L493.60 179.01 L494.13 176.76 L494.67 174.72 L495.20 173.00 L495.60 171.85 L496.00 170.73 L496.40 169.70 L496.80 168.79 L497.20 168.08 L497.60 167.60 L497.98 167.29 L498.37 167.00 L498.75 166.76 L499.13 166.57 L499.52 166.44 L499.90 166.40 L500.23 166.48 L500.57 166.70 L500.90 167.04 L501.23 167.45 L501.57 167.92 L501.90 168.40 L502.30 169.13 L502.70 170.12 L503.10 171.27 L503.50 172.53 L503.90 173.80 L504.30 175.00 L504.80 176.48 L505.30 178.03 L505.80 179.60 L506.30 181.15 L506.80 182.63 L507.30 184.00 L507.97 185.72 L508.63 187.40 L509.30 189.00 L509.97 190.50 L510.63 191.84 L511.30 193.00 L511.93 193.96 L512.55 194.87 L513.17 195.72 L513.80 196.50 L514.42 197.23 L515.05 197.89 L515.67 198.48 L516.30 199.00 L516.97 199.51 L517.63 199.99 L518.30 200.44 L518.97 200.86 L519.63 201.25 L520.30 201.60 L520.97 201.91 L521.63 202.18 L522.30 202.40 L522.97 202.58 L523.63 202.74 L524.30 202.88 L524.97 203.00 L525.63 203.12 L526.30 203.23 L526.97 203.34 L527.63 203.46 L528.30 203.60 L528.97 203.74 L529.63 203.88 L530.30 204.02 L530.97 204.16 L531.63 204.31 L532.30 204.46 L532.97 204.63 L533.63 204.81 L534.30 205.00 L534.97 205.22 L535.63 205.47 L536.30 205.75 L536.97 206.05 L537.63 206.36 L538.30 206.68 L538.97 207.00 L539.63 207.30 L540.30 207.60 L540.97 207.89 L541.63 208.19 L542.30 208.50 L542.97 208.80 L543.63 209.11 L544.30 209.41 L544.97 209.71 L545.63 210.00 L546.30 210.28 L546.97 210.54 L547.63 210.78 L548.30 211.00 L548.97 211.21 L549.63 211.41 L550.30 211.61 L550.97 211.80 L551.63 211.98 L552.30 212.15 L552.97 212.32 L553.63 212.47 L554.30 212.62 L554.97 212.76 L555.63 212.89 L556.30 213.00 L556.97 213.11 L557.63 213.21 L558.30 213.32 L558.97 213.42 L559.63 213.52 L560.30 213.62 L560.97 213.71 L561.63 213.80 L562.30 213.88 L562.97 213.96 L563.63 214.04 L564.30 214.11 L564.97 214.17 L565.63 214.23 L566.30 214.29 L566.97 214.33 L567.63 214.37 L568.30 214.40 L568.95 214.43 L569.61 214.45 L570.26 214.48 L570.92 214.50 L571.57 214.53 L572.22 214.55 L572.88 214.57 L573.53 214.59 L574.18 214.61 L574.84 214.63 L575.49 214.65 L576.15 214.67 L576.80 214.69 L577.45 214.70 L578.11 214.72 L578.76 214.73 L579.42 214.74 L580.07 214.76 L580.72 214.77 L581.38 214.77 L582.03 214.78 L582.68 214.79 L583.34 214.79 L583.99 214.80 L584.65 214.80 L585.30 214.80 L585.95 214.80 L586.60 214.80 L587.26 214.80 L587.91 214.79 L588.56 214.79 L589.21 214.78 L589.87 214.78 L590.52 214.77 L591.17 214.77 L591.82 214.76 L592.47 214.75 L593.13 214.74 L593.78 214.73 L594.43 214.72 L595.08 214.71 L595.73 214.70 L596.39 214.69 L597.04 214.67 L597.69 214.66 L598.34 214.65 L599.00 214.63 L599.65 214.62 L600.30 214.60 L600.97 214.58 L601.63 214.55 L602.30 214.52 L602.97 214.47 L603.63 214.42 L604.30 214.37 L604.97 214.32 L605.63 214.26 L606.30 214.19 L606.97 214.13 L607.63 214.06 L608.30 214.00 L608.97 213.94 L609.63 213.87 L610.30 213.80 L610.97 213.73 L611.63 213.66 L612.30 213.58 L612.97 213.49 L613.63 213.41 L614.30 213.31 L614.97 213.21 L615.63 213.11 L616.30 212.99 L616.97 212.87 L617.63 212.74 L618.30 212.60 L618.94 212.45 L619.57 212.27 L620.21 212.06 L620.85 211.83 L621.48 211.57 L622.12 211.29 L622.75 210.99 L623.39 210.67 L624.03 210.33 L624.66 209.97 L625.30 209.60 L625.92 209.20 L626.55 208.75 L627.17 208.24 L627.80 207.69 L628.42 207.09 L629.05 206.44 L629.67 205.74 L630.30 205.00 L630.97 204.09 L631.63 203.02 L632.30 201.82 L632.97 200.56 L633.63 199.27 L634.30 198.00 L634.97 196.71 L635.63 195.36 L636.30 193.97 L636.97 192.59 L637.63 191.26 L638.30 190.00 L638.97 188.76 L639.63 187.48 L640.30 186.24 L640.97 185.10 L641.63 184.13 L642.30 183.40 L642.97 182.81 L643.63 182.26 L644.30 181.76 L644.97 181.36 L645.63 181.10 L646.30 181.00 L646.97 181.08 L647.63 181.29 L648.30 181.61 L648.97 182.02 L649.63 182.49 L650.30 183.00 L650.97 183.71 L651.63 184.72 L652.30 185.96 L652.97 187.31 L653.63 188.69 L654.30 190.00 L654.97 191.29 L655.63 192.65 L656.30 194.04 L656.97 195.42 L657.63 196.75 L658.30 198.00 L658.92 199.13 L659.55 200.26 L660.17 201.37 L660.80 202.45 L661.42 203.47 L662.05 204.42 L662.67 205.27 L663.30 206.00 L663.92 206.64 L664.55 207.24 L665.17 207.80 L665.80 208.31 L666.42 208.79 L667.05 209.23 L667.67 209.63 L668.30 210.00 L668.97 210.37 L669.63 210.72 L670.30 211.05 L670.97 211.36 L671.63 211.65 L672.30 211.92 L672.97 212.17 L673.63 212.39 L674.30 212.60 L674.93 212.78 L675.55 212.96 L676.18 213.14 L676.81 213.31 L677.43 213.47 L678.06 213.63 L678.69 213.78 L679.31 213.92 L679.94 214.05 L680.57 214.18 L681.19 214.29 L681.82 214.39 L682.45 214.47 L683.07 214.54 L683.70 214.60" fill="none" stroke="#00ffff" stroke-width="1.00" stroke-dasharray="3.15,1.36" stroke-linejoin="round"/>
</g>
<rect x="382.00" y="12.50" width="302.00" height="203.50" fill="none" stroke="#000" stroke-opacity="0.85" stroke-width="0.8"/>
<path d="M382.00 216.00 v3.1" stroke="#000" stroke-opacity="0.85" stroke-width="0.8"/>
<text x="382.00" y="228.10" font-size="9.90" text-anchor="middle" textLength="23.84" lengthAdjust="spacingAndGlyphs">−180</text>
<path d="M457.50 216.00 v3.1" stroke="#000" stroke-opacity="0.85" stroke-width="0.8"/>
<text x="457.50" y="228.10" font-size="9.90" text-anchor="middle" textLength="18.32" lengthAdjust="spacingAndGlyphs">−90</text>
<path d="M533.00 216.00 v3.1" stroke="#000" stroke-opacity="0.85" stroke-width="0.8"/>
<text x="533.00" y="228.10" font-size="9.90" text-anchor="middle" textLength="5.52" lengthAdjust="spacingAndGlyphs">0</text>
<path d="M608.50 216.00 v3.1" stroke="#000" stroke-opacity="0.85" stroke-width="0.8"/>
<text x="608.50" y="228.10" font-size="9.90" text-anchor="middle" textLength="11.05" lengthAdjust="spacingAndGlyphs">90</text>
<path d="M382.00 216.00 h-3.1" stroke="#000" stroke-opacity="0.85" stroke-width="0.8"/>
<text x="376.20" y="219.25" font-size="9.90" text-anchor="end" textLength="19.33" lengthAdjust="spacingAndGlyphs">0.00</text>
<path d="M382.00 186.27 h-3.1" stroke="#000" stroke-opacity="0.85" stroke-width="0.8"/>
<text x="376.20" y="189.52" font-size="9.90" text-anchor="end" textLength="19.33" lengthAdjust="spacingAndGlyphs">0.01</text>
<path d="M382.00 156.54 h-3.1" stroke="#000" stroke-opacity="0.85" stroke-width="0.8"/>
<text x="376.20" y="159.79" font-size="9.90" text-anchor="end" textLength="19.33" lengthAdjust="spacingAndGlyphs">0.02</text>
<path d="M382.00 126.81 h-3.1" stroke="#000" stroke-opacity="0.85" stroke-width="0.8"/>
<text x="376.20" y="130.06" font-size="9.90" text-anchor="end" textLength="19.33" lengthAdjust="spacingAndGlyphs">0.03</text>
<path d="M382.00 97.08 h-3.1" stroke="#000" stroke-opacity="0.85" stroke-width="0.8"/>
<text x="376.20" y="100.33" font-size="9.90" text-anchor="end" textLength="19.33" lengthAdjust="spacingAndGlyphs">0.04</text>
<path d="M382.00 67.35 h-3.1" stroke="#000" stroke-opacity="0.85" stroke-width="0.8"/>
<text x="376.20" y="70.60" font-size="9.90" text-anchor="end" textLength="19.33" lengthAdjust="spacingAndGlyphs">0.05</text>
<path d="M382.00 37.62 h-3.1" stroke="#000" stroke-opacity="0.85" stroke-width="0.8"/>
<text x="376.20" y="40.87" font-size="9.90" text-anchor="end" textLength="19.33" lengthAdjust="spacingAndGlyphs">0.06</text>
<text x="533.00" y="8.20" font-size="9.66" text-anchor="middle" textLength="59.69" lengthAdjust="spacingAndGlyphs">ψ distribution</text>
<text x="533.00" y="239.70" font-size="9.90" text-anchor="middle" textLength="31.59" lengthAdjust="spacingAndGlyphs">Degree</text>
<rect x="610.90" y="16.40" width="69.50" height="56.30" rx="1.6" ry="1.6" fill="#fff" fill-opacity="0.8" stroke="#ccc" stroke-opacity="0.95" stroke-width="0.85"/>
<path d="M613.70 22.00 H629.10" fill="none" stroke="#0000ff" stroke-width="2.10" stroke-linejoin="round" stroke-linecap="square"/>
<text x="634.90" y="24.70" font-size="8.57" text-anchor="start" textLength="23.56" lengthAdjust="spacingAndGlyphs">Actual</text>
<path d="M613.70 32.93 H629.10" fill="none" stroke="#ff0000" stroke-width="2.10" stroke-dasharray="12.48,3.12,1.95,3.12" stroke-linejoin="round"/>
<text x="634.90" y="35.63" font-size="8.57" text-anchor="start" textLength="14.59" lengthAdjust="spacingAndGlyphs">SAP</text>
<path d="M613.70 43.86 H629.10" fill="none" stroke="#008000" stroke-width="1.30" stroke-dasharray="4.14,1.79" stroke-linejoin="round"/>
<text x="634.90" y="46.56" font-size="8.57" text-anchor="start" textLength="32.42" lengthAdjust="spacingAndGlyphs">SPOT-1D</text>
<path d="M613.70 54.79 H629.10" fill="none" stroke="#ff00ff" stroke-width="1.30" stroke-dasharray="1.12,1.85" stroke-linejoin="round"/>
<text x="634.90" y="57.49" font-size="8.57" text-anchor="start" textLength="32.08" lengthAdjust="spacingAndGlyphs">SPIDER2</text>
<path d="M613.70 65.72 H629.10" fill="none" stroke="#00ffff" stroke-width="1.00" stroke-dasharray="3.15,1.36" stroke-linejoin="round"/>
<text x="634.90" y="68.42" font-size="8.57" text-anchor="start" textLength="41.46" lengthAdjust="spacingAndGlyphs">OPUS-TASS</text>
</g>
<g>
<clipPath id="c3"><rect x="24.50" y="270.80" width="302.00" height="203.70"/></clipPath>
<g clip-path="url(#c3)">
<path d="M28.00 474.00 L28.67 474.00 L29.33 474.00 L30.00 474.00 L30.67 474.00 L31.33 474.00 L32.00 474.00 L32.67 474.00 L33.33 474.00 L34.00 474.00 L34.67 474.00 L35.33 474.00 L36.00 474.00 L36.67 474.00 L37.33 474.00 L38.00 474.00 L38.67 474.00 L39.33 474.00 L40.00 474.00 L40.67 474.00 L41.33 474.00 L42.00 474.00 L42.67 474.00 L43.33 474.00 L44.00 474.00 L44.67 474.00 L45.33 474.00 L46.00 474.00 L46.67 474.00 L47.33 474.00 L48.00 474.00 L48.67 474.00 L49.33 474.00 L50.00 474.00 L50.67 474.00 L51.33 474.00 L52.00 474.00 L52.67 474.00 L53.33 474.00 L54.00 474.00 L54.67 474.00 L55.33 474.00 L56.00 474.00 L56.67 474.00 L57.33 474.00 L58.00 474.00 L58.67 474.00 L59.33 474.00 L60.00 474.00 L60.67 474.00 L61.33 474.00 L62.00 474.00 L62.67 474.00 L63.33 474.00 L64.00 474.00 L64.67 474.00 L65.33 474.00 L66.00 474.00 L66.67 474.00 L67.33 474.00 L68.00 474.00 L68.67 474.00 L69.33 474.00 L70.00 474.00 L70.67 474.00 L71.33 474.00 L72.00 474.00 L72.67 474.00 L73.33 474.00 L74.00 474.00 L74.67 474.00 L75.33 474.00 L76.00 474.00 L76.67 474.00 L77.33 474.00 L78.00 474.00 L78.67 474.00 L79.33 474.00 L80.00 474.00 L80.67 474.00 L81.33 474.00 L82.00 474.00 L82.67 474.00 L83.33 474.00 L84.00 474.00 L84.67 474.00 L85.33 474.00 L86.00 474.00 L86.67 474.00 L87.33 474.00 L88.00 474.00 L88.67 474.00 L89.33 474.00 L90.00 474.00 L90.67 474.00 L91.33 474.00 L92.00 474.00 L92.67 474.00 L93.33 474.00 L94.00 474.00 L94.67 474.00 L95.33 474.00 L96.00 474.00 L96.67 474.00 L97.33 474.00 L98.00 474.00 L98.67 474.00 L99.33 474.00 L100.00 474.00 L100.67 474.00 L101.33 474.00 L102.00 474.00 L102.67 474.00 L103.33 474.00 L104.00 474.00 L104.67 474.00 L105.33 474.00 L106.00 474.00 L106.67 474.00 L107.33 474.00 L108.00 474.00 L108.67 474.00 L109.33 474.00 L110.00 474.00 L110.67 474.00 L111.33 474.00 L112.00 474.00 L112.67 474.00 L113.33 474.00 L114.00 474.00 L114.67 474.00 L115.33 474.00 L116.00 474.00 L116.67 474.00 L117.33 474.00 L118.00 474.00 L118.67 474.00 L119.33 474.00 L120.00 474.00 L120.67 474.00 L121.33 474.00 L122.00 474.00 L122.67 474.00 L123.33 474.00 L124.00 474.00 L124.67 474.00 L125.33 474.00 L126.00 474.00 L126.67 474.00 L127.33 474.00 L128.00 474.00 L128.67 474.00 L129.33 474.00 L130.00 474.00 L130.67 474.00 L131.33 474.00 L132.00 474.00 L132.67 474.00 L133.33 474.00 L134.00 474.00 L134.67 474.00 L135.33 474.00 L136.00 474.00 L136.67 474.00 L137.33 474.00 L138.00 474.00 L138.67 474.00 L139.33 474.00 L140.00 474.00 L140.65 474.00 L141.30 474.00 L141.95 473.99 L142.60 473.98 L143.25 473.97 L143.90 473.96 L144.55 473.94 L145.20 473.93 L145.85 473.91 L146.50 473.89 L147.15 473.87 L147.80 473.84 L148.45 473.82 L149.10 473.79 L149.75 473.76 L150.40 473.73 L151.05 473.70 L151.70 473.67 L152.35 473.63 L153.00 473.60 L153.61 473.56 L154.22 473.52 L154.83 473.47 L155.44 473.41 L156.05 473.34 L156.66 473.26 L157.27 473.16 L157.88 473.06 L158.49 472.94 L159.10 472.80 L159.68 472.61 L160.27 472.31 L160.85 471.92 L161.43 471.45 L162.02 470.90 L162.60 470.30 L163.02 469.77 L163.43 469.10 L163.85 468.30 L164.27 467.38 L164.68 466.38 L165.10 465.30 L165.48 464.18 L165.87 462.87 L166.25 461.40 L166.63 459.79 L167.02 458.04 L167.40 456.20 L167.67 454.81 L167.93 453.27 L168.20 451.62 L168.47 449.86 L168.73 448.01 L169.00 446.10 L169.20 444.63 L169.40 443.10 L169.60 441.49 L169.80 439.78 L170.00 437.96 L170.20 436.00 L170.33 434.58 L170.47 433.06 L170.60 431.43 L170.73 429.70 L170.87 427.89 L171.00 426.00 L171.23 422.31 L171.47 418.15 L171.70 413.72 L171.93 409.24 L172.17 404.93 L172.40 401.00 L172.70 396.28 L173.00 391.63 L173.30 387.16 L173.60 382.99 L173.90 379.23 L174.20 376.00 L174.42 373.98 L174.63 372.14 L174.85 370.45 L175.07 368.88 L175.28 367.40 L175.50 366.00 L175.68 364.82 L175.87 363.64 L176.05 362.52 L176.23 361.50 L176.42 360.65 L176.60 360.00 L176.73 359.62 L176.87 359.25 L177.00 358.91 L177.13 358.65 L177.27 358.47 L177.40 358.40 L177.53 358.44 L177.67 358.57 L177.80 358.75 L177.93 358.98 L178.07 359.23 L178.20 359.50 L178.38 359.96 L178.57 360.59 L178.75 361.34 L178.93 362.19 L179.12 363.08 L179.30 364.00 L179.60 365.61 L179.90 367.42 L180.20 369.39 L180.50 371.51 L180.80 373.72 L181.10 376.00 L181.55 379.58 L182.00 383.41 L182.45 387.47 L182.90 391.77 L183.35 396.28 L183.80 401.00 L184.13 404.99 L184.47 409.56 L184.80 414.33 L185.13 418.91 L185.47 422.93 L185.80 426.00 L186.05 427.72 L186.30 429.23 L186.55 430.57 L186.80 431.79 L187.05 432.95 L187.30 434.10 L187.63 435.61 L187.97 437.05 L188.30 438.42 L188.63 439.72 L188.97 440.95 L189.30 442.10 L189.72 443.48 L190.13 444.83 L190.55 446.10 L190.97 447.27 L191.38 448.32 L191.80 449.20 L192.40 450.31 L193.00 451.33 L193.60 452.25 L194.20 453.05 L194.80 453.70 L195.40 454.20 L196.04 454.64 L196.69 455.05 L197.33 455.42 L197.97 455.74 L198.61 455.98 L199.26 456.14 L199.90 456.20 L200.54 456.17 L201.19 456.09 L201.83 455.96 L202.47 455.80 L203.11 455.62 L203.76 455.41 L204.40 455.20 L205.03 454.97 L205.65 454.68 L206.28 454.34 L206.90 453.94 L207.53 453.48 L208.15 452.95 L208.78 452.36 L209.40 451.70 L209.53 451.52 L209.67 451.28 L209.80 451.01 L209.93 450.74 L210.07 450.49 L210.20 450.30 L210.82 449.58 L211.45 448.91 L212.07 448.31 L212.70 447.78 L213.32 447.31 L213.95 446.90 L214.57 446.57 L215.20 446.30 L215.84 446.06 L216.49 445.84 L217.13 445.63 L217.77 445.46 L218.41 445.32 L219.06 445.23 L219.70 445.20 L220.36 445.24 L221.02 445.33 L221.69 445.48 L222.35 445.67 L223.01 445.89 L223.68 446.12 L224.34 446.36 L225.00 446.60 L225.62 446.83 L226.25 447.10 L226.88 447.39 L227.50 447.70 L228.12 448.03 L228.75 448.38 L229.38 448.74 L230.00 449.10 L230.64 449.50 L231.28 449.94 L231.91 450.41 L232.55 450.90 L233.19 451.39 L233.82 451.86 L234.46 452.30 L235.10 452.70 L235.72 453.06 L236.35 453.41 L236.97 453.75 L237.60 454.08 L238.22 454.39 L238.85 454.68 L239.47 454.95 L240.10 455.20 L240.72 455.42 L241.35 455.63 L241.97 455.82 L242.60 456.00 L243.22 456.17 L243.85 456.34 L244.47 456.52 L245.10 456.70 L245.74 456.89 L246.38 457.07 L247.01 457.24 L247.65 457.42 L248.29 457.61 L248.92 457.79 L249.56 457.99 L250.20 458.20 L250.82 458.42 L251.45 458.65 L252.07 458.89 L252.70 459.13 L253.32 459.39 L253.95 459.65 L254.57 459.92 L255.20 460.20 L255.82 460.48 L256.45 460.77 L257.07 461.06 L257.70 461.36 L258.32 461.68 L258.95 462.00 L259.57 462.34 L260.20 462.70 L260.84 463.09 L261.48 463.50 L262.11 463.94 L262.75 464.39 L263.39 464.86 L264.02 465.34 L264.66 465.82 L265.30 466.30 L265.93 466.79 L266.55 467.31 L267.18 467.85 L267.80 468.39 L268.43 468.92 L269.05 469.42 L269.68 469.89 L270.30 470.30 L270.94 470.68 L271.57 471.06 L272.21 471.42 L272.85 471.76 L273.49 472.07 L274.12 472.35 L274.76 472.60 L275.40 472.80 L276.02 472.97 L276.65 473.13 L277.27 473.28 L277.90 473.42 L278.52 473.54 L279.15 473.65 L279.77 473.73 L280.40 473.80 L281.02 473.86 L281.65 473.91 L282.27 473.95 L282.90 474.00 L283.52 474.03 L284.15 474.06 L284.77 474.08 L285.40 474.10 L286.04 474.11 L286.68 474.12 L287.32 474.13 L287.96 474.14 L288.60 474.15 L289.24 474.16 L289.88 474.17 L290.52 474.18 L291.16 474.18 L291.80 474.19 L292.44 474.19 L293.08 474.20 L293.72 474.20 L294.36 474.20 L295.00 474.20 L295.66 474.20 L296.31 474.20 L296.97 474.20 L297.62 474.20 L298.28 474.20 L298.94 474.20 L299.59 474.20 L300.25 474.20 L300.91 474.20 L301.56 474.20 L302.22 474.20 L302.88 474.20 L303.53 474.20 L304.19 474.20 L304.84 474.20 L305.50 474.20 L306.16 474.20 L306.81 474.20 L307.47 474.20 L308.12 474.20 L308.78 474.20 L309.44 474.20 L310.09 474.20 L310.75 474.20 L311.41 474.20 L312.06 474.20 L312.72 474.20 L313.38 474.20 L314.03 474.20 L314.69 474.20 L315.34 474.20 L316.00 474.20 L316.66 474.20 L317.31 474.20 L317.97 474.20 L318.62 474.20 L319.28 474.20 L319.94 474.20 L320.59 474.20 L321.25 474.20 L321.91 474.20 L322.56 474.20 L323.22 474.20 L323.88 474.20 L324.53 474.20 L325.19 474.20 L325.84 474.20 L326.50 474.20" fill="none" stroke="#0000ff" stroke-width="2.10" stroke-linejoin="round"/>
<path d="M28.00 474.20 L28.67 474.20 L29.33 474.20 L30.00 474.20 L30.67 474.20 L31.33 474.20 L32.00 474.20 L32.67 474.20 L33.33 474.20 L34.00 474.20 L34.67 474.20 L35.33 474.20 L36.00 474.20 L36.67 474.20 L37.33 474.20 L38.00 474.20 L38.67 474.20 L39.33 474.20 L40.00 474.20 L40.67 474.20 L41.33 474.20 L42.00 474.20 L42.67 474.20 L43.33 474.20 L44.00 474.20 L44.67 474.20 L45.33 474.20 L46.00 474.20 L46.67 474.20 L47.33 474.20 L48.00 474.20 L48.67 474.20 L49.33 474.20 L50.00 474.20 L50.67 474.20 L51.33 474.20 L52.00 474.20 L52.67 474.20 L53.33 474.20 L54.00 474.20 L54.67 474.20 L55.33 474.20 L56.00 474.20 L56.67 474.20 L57.33 474.20 L58.00 474.20 L58.67 474.20 L59.33 474.20 L60.00 474.20 L60.67 474.20 L61.33 474.20 L62.00 474.20 L62.67 474.20 L63.33 474.20 L64.00 474.20 L64.67 474.20 L65.33 474.20 L66.00 474.20 L66.67 474.20 L67.33 474.20 L68.00 474.20 L68.67 474.20 L69.33 474.20 L70.00 474.20 L70.67 474.20 L71.33 474.20 L72.00 474.20 L72.67 474.20 L73.33 474.20 L74.00 474.20 L74.67 474.20 L75.33 474.20 L76.00 474.20 L76.67 474.20 L77.33 474.20 L78.00 474.20 L78.67 474.20 L79.33 474.20 L80.00 474.20 L80.67 474.20 L81.33 474.20 L82.00 474.20 L82.67 474.20 L83.33 474.20 L84.00 474.20 L84.67 474.20 L85.33 474.20 L86.00 474.20 L86.67 474.20 L87.33 474.20 L88.00 474.20 L88.67 474.20 L89.33 474.20 L90.00 474.20 L90.67 474.20 L91.33 474.20 L92.00 474.20 L92.67 474.20 L93.33 474.20 L94.00 474.20 L94.67 474.20 L95.33 474.20 L96.00 474.20 L96.67 474.20 L97.33 474.20 L98.00 474.20 L98.67 474.20 L99.33 474.20 L100.00 474.20 L100.67 474.20 L101.33 474.20 L102.00 474.20 L102.67 474.20 L103.33 474.20 L104.00 474.20 L104.67 474.20 L105.33 474.20 L106.00 474.20 L106.67 474.20 L107.33 474.20 L108.00 474.20 L108.67 474.20 L109.33 474.20 L110.00 474.20 L110.67 474.20 L111.33 474.20 L112.00 474.20 L112.67 474.20 L113.33 474.20 L114.00 474.20 L114.67 474.20 L115.33 474.20 L116.00 474.20 L116.67 474.20 L117.33 474.20 L118.00 474.20 L118.67 474.20 L119.33 474.20 L120.00 474.20 L120.67 474.20 L121.33 474.20 L122.00 474.20 L122.67 474.20 L123.33 474.20 L124.00 474.20 L124.67 474.20 L125.33 474.20 L126.00 474.20 L126.67 474.20 L127.33 474.20 L128.00 474.20 L128.67 474.20 L129.33 474.20 L130.00 474.20 L130.67 474.20 L131.33 474.20 L132.00 474.20 L132.67 474.20 L133.33 474.20 L134.00 474.20 L134.67 474.20 L135.33 474.20 L136.00 474.20 L136.67 474.20 L137.33 474.20 L138.00 474.20 L138.67 474.20 L139.33 474.20 L140.00 474.20 L140.67 474.20 L141.33 474.20 L142.00 474.20 L142.67 474.20 L143.33 474.20 L144.00 474.20 L144.67 474.20 L145.33 474.20 L146.00 474.20 L146.67 474.20 L147.33 474.20 L148.00 474.20 L148.67 474.20 L149.33 474.20 L150.00 474.20 L150.67 474.20 L151.33 474.20 L152.00 474.20 L152.67 474.20 L153.33 474.20 L154.00 474.20 L154.67 474.20 L155.33 474.20 L156.00 474.20 L156.67 474.20 L157.33 474.20 L158.00 474.20 L158.67 474.20 L159.33 474.20 L160.00 474.20 L160.62 474.20 L161.24 474.19 L161.86 474.17 L162.49 474.14 L163.11 474.10 L163.73 474.05 L164.35 473.98 L164.97 473.91 L165.59 473.81 L166.21 473.71 L166.84 473.58 L167.46 473.44 L168.08 473.28 L168.70 473.10 L168.95 472.90 L169.20 472.46 L169.45 471.85 L169.70 471.08 L169.95 470.22 L170.20 469.30 L170.40 468.40 L170.60 467.25 L170.80 465.90 L171.00 464.41 L171.20 462.82 L171.40 461.20 L171.57 459.78 L171.73 458.24 L171.90 456.59 L172.07 454.85 L172.23 453.05 L172.40 451.20 L172.53 449.75 L172.67 448.34 L172.80 446.87 L172.93 445.23 L173.07 443.34 L173.20 441.10 L173.28 439.35 L173.37 437.22 L173.45 434.75 L173.53 432.02 L173.62 429.08 L173.70 426.00 L173.78 422.55 L173.87 418.58 L173.95 414.27 L174.03 409.79 L174.12 405.31 L174.20 401.00 L174.28 396.84 L174.37 392.70 L174.45 388.56 L174.53 384.41 L174.62 380.22 L174.70 376.00 L174.78 371.77 L174.87 367.55 L174.95 363.31 L175.03 358.99 L175.12 354.57 L175.20 350.00 L175.27 346.15 L175.33 342.13 L175.40 338.01 L175.47 333.89 L175.53 329.85 L175.60 326.00 L175.67 322.14 L175.73 318.17 L175.80 314.28 L175.87 310.66 L175.93 307.50 L176.00 305.00 L176.12 301.55 L176.23 298.54 L176.35 295.93 L176.47 293.67 L176.58 291.71 L176.70 290.00 L176.83 288.22 L176.97 286.58 L177.10 285.10 L177.23 283.82 L177.37 282.78 L177.50 282.00 L177.62 281.45 L177.73 280.94 L177.85 280.49 L177.97 280.13 L178.08 279.89 L178.20 279.80" fill="none" stroke="#ff0000" stroke-width="2.10" stroke-dasharray="12.48,3.12,1.95,3.12" stroke-linejoin="round" stroke-dashoffset="17.8"/>
<path d="M178.20 279.80 L178.32 279.92 L178.43 280.26 L178.55 280.78 L178.67 281.43 L178.78 282.19 L178.90 283.00 L179.00 283.89 L179.10 285.11 L179.20 286.59 L179.30 288.28 L179.40 290.10 L179.50 292.00 L179.58 293.70 L179.67 295.60 L179.75 297.69 L179.83 299.96 L179.92 302.40 L180.00 305.00 L180.08 307.90 L180.17 311.16 L180.25 314.71 L180.33 318.43 L180.42 322.22 L180.50 326.00 L180.58 329.79 L180.67 333.69 L180.75 337.68 L180.83 341.74 L180.92 345.85 L181.00 350.00 L181.08 354.53 L181.17 359.53 L181.25 364.58 L181.33 369.29 L181.42 373.23 L181.50 376.00 L181.80 382.40 L182.10 387.19 L182.40 390.91 L182.70 394.10 L183.00 397.28 L183.30 401.00 L183.60 405.23 L183.90 409.52 L184.20 413.82 L184.50 418.05 L184.80 422.13 L185.10 426.00 L185.22 427.47 L185.33 428.93 L185.45 430.36 L185.57 431.72 L185.68 432.98 L185.80 434.10 L186.02 435.93 L186.23 437.60 L186.45 439.12 L186.67 440.53 L186.88 441.84 L187.10 443.10 L187.38 444.69 L187.67 446.22 L187.95 447.67 L188.23 449.00 L188.52 450.18 L188.80 451.20 L189.22 452.50 L189.63 453.67 L190.05 454.73 L190.47 455.66 L190.88 456.49 L191.30 457.20 L191.88 458.06 L192.47 458.83 L193.05 459.50 L193.63 460.11 L194.22 460.67 L194.80 461.20 L195.40 461.72 L196.00 462.21 L196.60 462.67 L197.20 463.09 L197.80 463.47 L198.40 463.80 L198.82 464.02 L199.23 464.25 L199.65 464.46 L200.07 464.63 L200.48 464.76 L200.90 464.80 L201.48 464.76 L202.07 464.66 L202.65 464.50 L203.23 464.29 L203.82 464.06 L204.40 463.80 L204.98 463.45 L205.57 462.96 L206.15 462.36 L206.73 461.67 L207.32 460.94 L207.90 460.20 L208.42 459.53 L208.93 458.80 L209.45 458.02 L209.97 457.17 L210.48 456.23 L211.00 455.20 L211.45 454.22 L211.90 453.13 L212.35 451.92 L212.80 450.56 L213.25 449.03 L213.70 447.30 L213.95 446.10 L214.20 444.61 L214.45 442.96 L214.70 441.26 L214.95 439.63 L215.20 438.20 L215.62 436.10 L216.03 434.12 L216.45 432.24 L216.87 430.46 L217.28 428.75 L217.70 427.10 L217.95 426.10 L218.20 425.09 L218.45 424.11 L218.70 423.20 L218.95 422.42 L219.20 421.80 L219.40 421.38 L219.60 420.96 L219.80 420.59 L220.00 420.28 L220.20 420.08 L220.40 420.00 L220.57 420.01 L220.73 420.06 L220.90 420.12 L221.07 420.20 L221.23 420.30 L221.40 420.40 L221.55 420.53 L221.70 420.71 L221.85 420.94 L222.00 421.20 L222.15 421.49 L222.30 421.80 L222.63 422.70 L222.97 423.91 L223.30 425.30 L223.63 426.73 L223.97 428.04 L224.30 429.10 L224.80 430.36 L225.30 431.50 L225.80 432.53 L226.30 433.48 L226.80 434.36 L227.30 435.20 L227.97 436.25 L228.63 437.22 L229.30 438.13 L229.97 438.98 L230.63 439.80 L231.30 440.60 L231.77 441.14 L232.23 441.66 L232.70 442.15 L233.17 442.64 L233.63 443.12 L234.10 443.60 L234.60 444.10 L235.10 444.58 L235.60 445.06 L236.10 445.54 L236.60 446.05 L237.10 446.60 L237.60 447.19 L238.10 447.83 L238.60 448.49 L239.10 449.18 L239.60 449.89 L240.10 450.60 L240.60 451.34 L241.10 452.13 L241.60 452.94 L242.10 453.74 L242.60 454.50 L243.10 455.20 L243.60 455.84 L244.10 456.44 L244.60 457.02 L245.10 457.58 L245.60 458.13 L246.10 458.70 L246.62 459.29 L247.13 459.89 L247.65 460.48 L248.17 461.06 L248.68 461.64 L249.20 462.20 L249.87 462.92 L250.53 463.64 L251.20 464.36 L251.87 465.04 L252.53 465.69 L253.20 466.30 L253.87 466.87 L254.53 467.42 L255.20 467.94 L255.87 468.43 L256.53 468.88 L257.20 469.30 L257.79 469.64 L258.37 469.95 L258.96 470.25 L259.54 470.53 L260.13 470.80 L260.71 471.05 L261.30 471.30 L261.93 471.56 L262.55 471.82 L263.18 472.08 L263.80 472.32 L264.43 472.55 L265.05 472.76 L265.68 472.95 L266.30 473.10 L266.93 473.24 L267.55 473.37 L268.18 473.49 L268.80 473.60 L269.43 473.70 L270.05 473.78 L270.68 473.85 L271.30 473.90 L271.92 473.94 L272.54 473.97 L273.16 474.00 L273.79 474.04 L274.41 474.06 L275.03 474.09 L275.65 474.12 L276.27 474.14 L276.89 474.16 L277.51 474.17 L278.14 474.18 L278.76 474.19 L279.38 474.20 L280.00 474.20 L280.66 474.20 L281.33 474.20 L281.99 474.20 L282.66 474.20 L283.32 474.20 L283.99 474.20 L284.65 474.20 L285.31 474.20 L285.98 474.20 L286.64 474.20 L287.31 474.20 L287.97 474.20 L288.64 474.20 L289.30 474.20 L289.96 474.20 L290.63 474.20 L291.29 474.20 L291.96 474.20 L292.62 474.20 L293.29 474.20 L293.95 474.20 L294.61 474.20 L295.28 474.20 L295.94 474.20 L296.61 474.20 L297.27 474.20 L297.94 474.20 L298.60 474.20 L299.26 474.20 L299.93 474.20 L300.59 474.20 L301.26 474.20 L301.92 474.20 L302.59 474.20 L303.25 474.20 L303.91 474.20 L304.58 474.20 L305.24 474.20 L305.91 474.20 L306.57 474.20 L307.24 474.20 L307.90 474.20 L308.56 474.20 L309.23 474.20 L309.89 474.20 L310.56 474.20 L311.22 474.20 L311.89 474.20 L312.55 474.20 L313.21 474.20 L313.88 474.20 L314.54 474.20 L315.21 474.20 L315.87 474.20 L316.54 474.20 L317.20 474.20 L317.86 474.20 L318.53 474.20 L319.19 474.20 L319.86 474.20 L320.52 474.20 L321.19 474.20 L321.85 474.20 L322.51 474.20 L323.18 474.20 L323.84 474.20 L324.51 474.20 L325.17 474.20 L325.84 474.20 L326.50 474.20" fill="none" stroke="#ff0000" stroke-width="2.10" stroke-dasharray="12.48,3.12,1.95,3.12" stroke-linejoin="round" stroke-dashoffset="13.4"/>
<path d="M28.00 474.20 L28.67 474.20 L29.33 474.20 L30.00 474.20 L30.67 474.20 L31.33 474.20 L32.00 474.20 L32.67 474.20 L33.33 474.20 L34.00 474.20 L34.67 474.20 L35.33 474.20 L36.00 474.20 L36.67 474.20 L37.33 474.20 L38.00 474.20 L38.67 474.20 L39.33 474.20 L40.00 474.20 L40.67 474.20 L41.33 474.20 L42.00 474.20 L42.67 474.20 L43.33 474.20 L44.00 474.20 L44.67 474.20 L45.33 474.20 L46.00 474.20 L46.67 474.20 L47.33 474.20 L48.00 474.20 L48.67 474.20 L49.33 474.20 L50.00 474.20 L50.67 474.20 L51.33 474.20 L52.00 474.20 L52.67 474.20 L53.33 474.20 L54.00 474.20 L54.67 474.20 L55.33 474.20 L56.00 474.20 L56.67 474.20 L57.33 474.20 L58.00 474.20 L58.67 474.20 L59.33 474.20 L60.00 474.20 L60.67 474.20 L61.33 474.20 L62.00 474.20 L62.67 474.20 L63.33 474.20 L64.00 474.20 L64.67 474.20 L65.33 474.20 L66.00 474.20 L66.67 474.20 L67.33 474.20 L68.00 474.20 L68.67 474.20 L69.33 474.20 L70.00 474.20 L70.67 474.20 L71.33 474.20 L72.00 474.20 L72.67 474.20 L73.33 474.20 L74.00 474.20 L74.67 474.20 L75.33 474.20 L76.00 474.20 L76.67 474.20 L77.33 474.20 L78.00 474.20 L78.67 474.20 L79.33 474.20 L80.00 474.20 L80.67 474.20 L81.33 474.20 L82.00 474.20 L82.67 474.20 L83.33 474.20 L84.00 474.20 L84.67 474.20 L85.33 474.20 L86.00 474.20 L86.67 474.20 L87.33 474.20 L88.00 474.20 L88.67 474.20 L89.33 474.20 L90.00 474.20 L90.67 474.20 L91.33 474.20 L92.00 474.20 L92.67 474.20 L93.33 474.20 L94.00 474.20 L94.67 474.20 L95.33 474.20 L96.00 474.20 L96.67 474.20 L97.33 474.20 L98.00 474.20 L98.67 474.20 L99.33 474.20 L100.00 474.20 L100.67 474.20 L101.33 474.20 L102.00 474.20 L102.67 474.20 L103.33 474.20 L104.00 474.20 L104.67 474.20 L105.33 474.20 L106.00 474.20 L106.67 474.20 L107.33 474.20 L108.00 474.20 L108.67 474.20 L109.33 474.20 L110.00 474.20 L110.67 474.20 L111.33 474.20 L112.00 474.20 L112.67 474.20 L113.33 474.20 L114.00 474.20 L114.67 474.20 L115.33 474.20 L116.00 474.20 L116.67 474.20 L117.33 474.20 L118.00 474.20 L118.67 474.20 L119.33 474.20 L120.00 474.20 L120.67 474.20 L121.33 474.20 L122.00 474.20 L122.67 474.20 L123.33 474.20 L124.00 474.20 L124.67 474.20 L125.33 474.20 L126.00 474.20 L126.67 474.20 L127.33 474.20 L128.00 474.20 L128.67 474.20 L129.33 474.20 L130.00 474.20 L130.67 474.20 L131.33 474.20 L132.00 474.20 L132.67 474.20 L133.33 474.20 L134.00 474.20 L134.67 474.20 L135.33 474.20 L136.00 474.20 L136.67 474.20 L137.33 474.20 L138.00 474.20 L138.67 474.20 L139.33 474.20 L140.00 474.20 L140.67 474.20 L141.33 474.20 L142.00 474.20 L142.67 474.20 L143.33 474.20 L144.00 474.20 L144.67 474.20 L145.33 474.20 L146.00 474.20 L146.67 474.20 L147.33 474.20 L148.00 474.20 L148.67 474.20 L149.33 474.20 L150.00 474.20 L150.67 474.20 L151.33 474.20 L152.00 474.20 L152.67 474.20 L153.33 474.20 L154.00 474.20 L154.67 474.20 L155.33 474.20 L156.00 474.20 L156.67 474.20 L157.33 474.20 L158.00 474.20 L158.67 474.20 L159.33 474.20 L160.00 474.20 L160.67 474.20 L161.33 474.20 L162.00 474.20 L162.67 474.20 L163.33 474.20 L164.00 474.20 L164.67 474.20 L165.33 474.20 L166.00 474.20 L166.65 474.19 L167.30 474.18 L167.95 474.14 L168.60 474.09 L169.25 474.03 L169.90 473.94 L170.55 473.83 L171.20 473.70 L171.40 473.60 L171.60 473.39 L171.80 473.09 L172.00 472.72 L172.20 472.28 L172.40 471.80 L172.57 471.28 L172.73 470.58 L172.90 469.71 L173.07 468.69 L173.23 467.55 L173.40 466.30 L173.53 465.15 L173.67 463.77 L173.80 462.18 L173.93 460.38 L174.07 458.39 L174.20 456.20 L174.30 454.32 L174.40 452.13 L174.50 449.66 L174.60 446.98 L174.70 444.11 L174.80 441.10 L174.87 438.96 L174.93 436.64 L175.00 434.16 L175.07 431.54 L175.13 428.82 L175.20 426.00 L175.28 422.25 L175.37 418.20 L175.45 413.95 L175.53 409.60 L175.62 405.25 L175.70 401.00 L175.78 396.91 L175.87 392.92 L175.95 388.92 L176.03 384.84 L176.12 380.56 L176.20 376.00 L176.27 372.11 L176.33 368.03 L176.40 363.76 L176.47 359.33 L176.53 354.74 L176.60 350.00 L176.65 346.24 L176.70 342.23 L176.75 338.10 L176.80 333.94 L176.85 329.87 L176.90 326.00 L176.95 322.15 L177.00 318.20 L177.05 314.33 L177.10 310.72 L177.15 307.55 L177.20 305.00 L177.28 301.61 L177.37 298.63 L177.45 296.03 L177.53 293.76 L177.62 291.77 L177.70 290.00 L177.78 288.38 L177.87 286.87 L177.95 285.49 L178.03 284.29 L178.12 283.28 L178.20 282.50 L178.27 281.97 L178.33 281.46 L178.40 281.00 L178.47 280.64 L178.53 280.39 L178.60 280.30 L178.68 280.41 L178.77 280.71 L178.85 281.16 L178.93 281.72 L179.02 282.35 L179.10 283.00 L179.20 283.94 L179.30 285.18 L179.40 286.65 L179.50 288.31 L179.60 290.11 L179.70 292.00 L179.78 293.70 L179.87 295.60 L179.95 297.69 L180.03 299.96 L180.12 302.40 L180.20 305.00 L180.28 307.84 L180.37 310.98 L180.45 314.40 L180.53 318.06 L180.62 321.94 L180.70 326.00 L180.77 329.56 L180.83 333.51 L180.90 337.69 L180.97 341.94 L181.03 346.10 L181.10 350.00 L181.18 354.87 L181.27 359.97 L181.35 364.95 L181.43 369.51 L181.52 373.30 L181.60 376.00 L181.90 382.41 L182.20 387.24 L182.50 390.99 L182.80 394.19 L183.10 397.36 L183.40 401.00 L183.72 405.56 L184.03 410.44 L184.35 415.28 L184.67 419.73 L184.98 423.42 L185.30 426.00 L185.55 427.37 L185.80 428.52 L186.05 429.49 L186.30 430.36 L186.55 431.18 L186.80 432.00 L187.22 433.37 L187.63 434.68 L188.05 435.91 L188.47 437.07 L188.88 438.13 L189.30 439.10 L189.97 440.50 L190.63 441.77 L191.30 442.94 L191.97 444.03 L192.63 445.08 L193.30 446.10 L193.89 446.99 L194.47 447.85 L195.06 448.69 L195.64 449.50 L196.23 450.27 L196.81 451.01 L197.40 451.70 L197.98 452.43 L198.57 453.20 L199.15 453.95 L199.73 454.59 L200.32 455.03 L200.90 455.20 L201.23 455.20 L201.57 455.20 L201.90 455.20 L202.23 455.20 L202.57 455.20 L202.90 455.20 L203.48 455.00 L204.07 454.48 L204.65 453.73 L205.23 452.86 L205.82 451.99 L206.40 451.20 L207.03 450.44 L207.67 449.69 L208.30 448.92 L208.93 448.11 L209.57 447.24 L210.20 446.30 L210.82 445.27 L211.45 444.13 L212.07 442.91 L212.70 441.63 L213.32 440.30 L213.95 438.94 L214.57 437.56 L215.20 436.20 L215.78 434.85 L216.37 433.39 L216.95 431.90 L217.53 430.47 L218.12 429.17 L218.70 428.10 L219.00 427.63 L219.30 427.18 L219.60 426.76 L219.90 426.38 L220.20 426.06 L220.50 425.80 L220.72 425.64 L220.93 425.48 L221.15 425.33 L221.37 425.21 L221.58 425.13 L221.80 425.10 L222.03 425.13 L222.27 425.21 L222.50 425.33 L222.73 425.48 L222.97 425.64 L223.20 425.80 L223.47 426.01 L223.73 426.26 L224.00 426.55 L224.27 426.88 L224.53 427.23 L224.80 427.60 L225.38 428.56 L225.97 429.73 L226.55 431.05 L227.13 432.45 L227.72 433.85 L228.30 435.20 L228.90 436.56 L229.50 437.95 L230.10 439.37 L230.70 440.79 L231.30 442.19 L231.90 443.56 L232.50 444.87 L233.10 446.10 L233.77 447.39 L234.43 448.64 L235.10 449.83 L235.77 450.98 L236.43 452.11 L237.10 453.20 L237.77 454.28 L238.43 455.34 L239.10 456.37 L239.77 457.36 L240.43 458.31 L241.10 459.20 L241.77 460.04 L242.43 460.85 L243.10 461.62 L243.77 462.35 L244.43 463.05 L245.10 463.70 L245.74 464.29 L246.38 464.87 L247.01 465.43 L247.65 465.96 L248.29 466.47 L248.92 466.94 L249.56 467.39 L250.20 467.80 L250.82 468.17 L251.45 468.53 L252.07 468.86 L252.70 469.17 L253.32 469.47 L253.95 469.76 L254.57 470.03 L255.20 470.30 L255.82 470.56 L256.45 470.81 L257.07 471.05 L257.70 471.28 L258.32 471.51 L258.95 471.72 L259.57 471.91 L260.20 472.10 L260.84 472.28 L261.48 472.45 L262.11 472.61 L262.75 472.77 L263.39 472.92 L264.02 473.05 L264.66 473.18 L265.30 473.30 L265.93 473.41 L266.55 473.52 L267.18 473.63 L267.80 473.74 L268.43 473.83 L269.05 473.90 L269.68 473.96 L270.30 474.00 L270.95 474.02 L271.59 474.05 L272.24 474.07 L272.89 474.09 L273.53 474.11 L274.18 474.12 L274.83 474.14 L275.47 474.15 L276.12 474.17 L276.77 474.18 L277.41 474.18 L278.06 474.19 L278.71 474.20 L279.35 474.20 L280.00 474.20 L280.66 474.20 L281.33 474.20 L281.99 474.20 L282.66 474.20 L283.32 474.20 L283.99 474.20 L284.65 474.20 L285.31 474.20 L285.98 474.20 L286.64 474.20 L287.31 474.20 L287.97 474.20 L288.64 474.20 L289.30 474.20 L289.96 474.20 L290.63 474.20 L291.29 474.20 L291.96 474.20 L292.62 474.20 L293.29 474.20 L293.95 474.20 L294.61 474.20 L295.28 474.20 L295.94 474.20 L296.61 474.20 L297.27 474.20 L297.94 474.20 L298.60 474.20 L299.26 474.20 L299.93 474.20 L300.59 474.20 L301.26 474.20 L301.92 474.20 L302.59 474.20 L303.25 474.20 L303.91 474.20 L304.58 474.20 L305.24 474.20 L305.91 474.20 L306.57 474.20 L307.24 474.20 L307.90 474.20 L308.56 474.20 L309.23 474.20 L309.89 474.20 L310.56 474.20 L311.22 474.20 L311.89 474.20 L312.55 474.20 L313.21 474.20 L313.88 474.20 L314.54 474.20 L315.21 474.20 L315.87 474.20 L316.54 474.20 L317.20 474.20 L317.86 474.20 L318.53 474.20 L319.19 474.20 L319.86 474.20 L320.52 474.20 L321.19 474.20 L321.85 474.20 L322.51 474.20 L323.18 474.20 L323.84 474.20 L324.51 474.20 L325.17 474.20 L325.84 474.20 L326.50 474.20" fill="none" stroke="#008000" stroke-width="1.30" stroke-dasharray="4.14,1.79" stroke-linejoin="round"/>
<path d="M28.00 474.20 L28.67 474.20 L29.33 474.20 L30.00 474.20 L30.67 474.20 L31.33 474.20 L32.00 474.20 L32.67 474.20 L33.33 474.20 L34.00 474.20 L34.67 474.20 L35.33 474.20 L36.00 474.20 L36.67 474.20 L37.33 474.20 L38.00 474.20 L38.67 474.20 L39.33 474.20 L40.00 474.20 L40.67 474.20 L41.33 474.20 L42.00 474.20 L42.67 474.20 L43.33 474.20 L44.00 474.20 L44.67 474.20 L45.33 474.20 L46.00 474.20 L46.67 474.20 L47.33 474.20 L48.00 474.20 L48.67 474.20 L49.33 474.20 L50.00 474.20 L50.67 474.20 L51.33 474.20 L52.00 474.20 L52.67 474.20 L53.33 474.20 L54.00 474.20 L54.67 474.20 L55.33 474.20 L56.00 474.20 L56.67 474.20 L57.33 474.20 L58.00 474.20 L58.67 474.20 L59.33 474.20 L60.00 474.20 L60.67 474.20 L61.33 474.20 L62.00 474.20 L62.67 474.20 L63.33 474.20 L64.00 474.20 L64.67 474.20 L65.33 474.20 L66.00 474.20 L66.67 474.20 L67.33 474.20 L68.00 474.20 L68.67 474.20 L69.33 474.20 L70.00 474.20 L70.67 474.20 L71.33 474.20 L72.00 474.20 L72.67 474.20 L73.33 474.20 L74.00 474.20 L74.67 474.20 L75.33 474.20 L76.00 474.20 L76.67 474.20 L77.33 474.20 L78.00 474.20 L78.67 474.20 L79.33 474.20 L80.00 474.20 L80.67 474.20 L81.33 474.20 L82.00 474.20 L82.67 474.20 L83.33 474.20 L84.00 474.20 L84.67 474.20 L85.33 474.20 L86.00 474.20 L86.67 474.20 L87.33 474.20 L88.00 474.20 L88.67 474.20 L89.33 474.20 L90.00 474.20 L90.67 474.20 L91.33 474.20 L92.00 474.20 L92.67 474.20 L93.33 474.20 L94.00 474.20 L94.67 474.20 L95.33 474.20 L96.00 474.20 L96.67 474.20 L97.33 474.20 L98.00 474.20 L98.67 474.20 L99.33 474.20 L100.00 474.20 L100.67 474.20 L101.33 474.20 L102.00 474.20 L102.67 474.20 L103.33 474.20 L104.00 474.20 L104.67 474.20 L105.33 474.20 L106.00 474.20 L106.67 474.20 L107.33 474.20 L108.00 474.20 L108.67 474.20 L109.33 474.20 L110.00 474.20 L110.67 474.20 L111.33 474.20 L112.00 474.20 L112.67 474.20 L113.33 474.20 L114.00 474.20 L114.67 474.20 L115.33 474.20 L116.00 474.20 L116.67 474.20 L117.33 474.20 L118.00 474.20 L118.67 474.20 L119.33 474.20 L120.00 474.20 L120.67 474.20 L121.33 474.20 L122.00 474.20 L122.67 474.20 L123.33 474.20 L124.00 474.20 L124.67 474.20 L125.33 474.20 L126.00 474.20 L126.67 474.20 L127.33 474.20 L128.00 474.20 L128.67 474.20 L129.33 474.20 L130.00 474.20 L130.67 474.20 L131.33 474.20 L132.00 474.20 L132.67 474.20 L133.33 474.20 L134.00 474.20 L134.67 474.20 L135.33 474.20 L136.00 474.20 L136.67 474.20 L137.33 474.20 L138.00 474.20 L138.67 474.20 L139.33 474.20 L140.00 474.20 L140.67 474.20 L141.33 474.20 L142.00 474.20 L142.67 474.20 L143.33 474.20 L144.00 474.20 L144.67 474.20 L145.33 474.20 L146.00 474.20 L146.67 474.20 L147.33 474.20 L148.00 474.20 L148.67 474.20 L149.33 474.20 L150.00 474.20 L150.67 474.20 L151.33 474.20 L152.00 474.20 L152.67 474.20 L153.33 474.20 L154.00 474.20 L154.67 474.20 L155.33 474.20 L156.00 474.20 L156.67 474.20 L157.33 474.20 L158.00 474.20 L158.67 474.20 L159.33 474.20 L160.00 474.20 L160.67 474.20 L161.33 474.20 L162.00 474.20 L162.67 474.20 L163.33 474.20 L164.00 474.20 L164.67 474.20 L165.33 474.20 L166.00 474.20 L166.61 474.20 L167.22 474.18 L167.83 474.16 L168.44 474.12 L169.06 474.07 L169.67 474.01 L170.28 473.92 L170.89 473.82 L171.50 473.70 L171.68 473.58 L171.87 473.33 L172.05 472.96 L172.23 472.52 L172.42 472.02 L172.60 471.50 L172.78 470.91 L172.97 470.20 L173.15 469.36 L173.33 468.38 L173.52 467.26 L173.70 466.00 L173.83 464.91 L173.97 463.59 L174.10 462.05 L174.23 460.30 L174.37 458.34 L174.50 456.20 L174.60 454.34 L174.70 452.16 L174.80 449.69 L174.90 446.99 L175.00 444.11 L175.10 441.10 L175.17 438.96 L175.23 436.64 L175.30 434.16 L175.37 431.54 L175.43 428.82 L175.50 426.00 L175.58 422.25 L175.67 418.20 L175.75 413.95 L175.83 409.60 L175.92 405.25 L176.00 401.00 L176.08 396.75 L176.17 392.41 L176.25 388.06 L176.33 383.81 L176.42 379.76 L176.50 376.00 L176.62 371.07 L176.73 366.33 L176.85 361.81 L176.97 357.56 L177.08 353.61 L177.20 350.00 L177.32 346.60 L177.43 343.32 L177.55 340.23 L177.67 337.43 L177.78 334.99 L177.90 333.00 L178.02 331.33 L178.13 329.79 L178.25 328.41 L178.37 327.23 L178.48 326.25 L178.60 325.50 L178.67 325.14 L178.73 324.80 L178.80 324.48 L178.87 324.23 L178.93 324.06 L179.00 324.00 L179.07 324.06 L179.13 324.22 L179.20 324.47 L179.27 324.78 L179.33 325.13 L179.40 325.50 L179.50 326.20 L179.60 327.17 L179.70 328.37 L179.80 329.76 L179.90 331.32 L180.00 333.00 L180.10 335.04 L180.20 337.61 L180.30 340.54 L180.40 343.68 L180.50 346.89 L180.60 350.00 L180.73 354.34 L180.87 359.10 L181.00 363.97 L181.13 368.62 L181.27 372.73 L181.40 376.00 L181.70 381.56 L182.00 386.15 L182.30 390.07 L182.60 393.65 L182.90 397.19 L183.20 401.00 L183.52 405.56 L183.83 410.43 L184.15 415.26 L184.47 419.71 L184.78 423.40 L185.10 426.00 L185.30 427.13 L185.50 428.11 L185.70 428.96 L185.90 429.71 L186.10 430.38 L186.30 431.00 L186.63 431.98 L186.97 432.88 L187.30 433.70 L187.63 434.43 L187.97 435.07 L188.30 435.60 L188.80 436.27 L189.30 436.85 L189.80 437.36 L190.30 437.82 L190.80 438.22 L191.30 438.60 L191.89 439.02 L192.47 439.41 L193.06 439.78 L193.64 440.11 L194.23 440.41 L194.81 440.68 L195.40 440.90 L196.07 441.13 L196.73 441.36 L197.40 441.57 L198.07 441.74 L198.73 441.86 L199.40 441.90 L200.07 441.88 L200.73 441.81 L201.40 441.72 L202.07 441.60 L202.73 441.45 L203.40 441.30 L204.07 441.08 L204.73 440.74 L205.40 440.34 L206.07 439.91 L206.73 439.48 L207.40 439.10 L207.87 438.87 L208.33 438.66 L208.80 438.46 L209.27 438.24 L209.73 437.99 L210.20 437.70 L210.82 437.21 L211.45 436.59 L212.07 435.87 L212.70 435.09 L213.32 434.25 L213.95 433.39 L214.57 432.53 L215.20 431.70 L215.87 430.77 L216.53 429.76 L217.20 428.72 L217.87 427.73 L218.53 426.83 L219.20 426.10 L219.53 425.79 L219.87 425.50 L220.20 425.22 L220.53 424.98 L220.87 424.77 L221.20 424.60 L221.47 424.48 L221.73 424.37 L222.00 424.26 L222.27 424.18 L222.53 424.12 L222.80 424.10 L223.05 424.12 L223.30 424.16 L223.55 424.22 L223.80 424.31 L224.05 424.40 L224.30 424.50 L224.55 424.62 L224.80 424.79 L225.05 425.00 L225.30 425.24 L225.55 425.51 L225.80 425.80 L226.22 426.45 L226.63 427.34 L227.05 428.39 L227.47 429.52 L227.88 430.64 L228.30 431.70 L228.72 432.67 L229.13 433.63 L229.55 434.58 L229.97 435.56 L230.38 436.60 L230.80 437.70 L231.18 438.84 L231.57 440.09 L231.95 441.40 L232.33 442.72 L232.72 443.97 L233.10 445.10 L233.60 446.43 L234.10 447.68 L234.60 448.87 L235.10 450.01 L235.60 451.11 L236.10 452.20 L236.60 453.28 L237.10 454.34 L237.60 455.37 L238.10 456.36 L238.60 457.31 L239.10 458.20 L239.60 459.04 L240.10 459.84 L240.60 460.60 L241.10 461.33 L241.60 462.03 L242.10 462.70 L242.77 463.56 L243.43 464.40 L244.10 465.21 L244.77 465.97 L245.43 466.67 L246.10 467.30 L246.69 467.81 L247.27 468.30 L247.86 468.76 L248.44 469.19 L249.03 469.59 L249.61 469.96 L250.20 470.30 L250.82 470.64 L251.45 470.96 L252.07 471.27 L252.70 471.56 L253.32 471.83 L253.95 472.08 L254.57 472.30 L255.20 472.50 L255.82 472.68 L256.45 472.85 L257.07 473.00 L257.70 473.15 L258.32 473.28 L258.95 473.40 L259.57 473.51 L260.20 473.60 L260.84 473.69 L261.48 473.77 L262.11 473.85 L262.75 473.92 L263.39 473.99 L264.02 474.04 L264.66 474.08 L265.30 474.10 L265.95 474.11 L266.59 474.12 L267.24 474.14 L267.89 474.15 L268.53 474.16 L269.18 474.16 L269.83 474.17 L270.47 474.18 L271.12 474.18 L271.77 474.19 L272.41 474.19 L273.06 474.20 L273.71 474.20 L274.35 474.20 L275.00 474.20 L275.66 474.20 L276.32 474.20 L276.98 474.20 L277.64 474.20 L278.30 474.20 L278.96 474.20 L279.62 474.20 L280.28 474.20 L280.94 474.20 L281.60 474.20 L282.26 474.20 L282.92 474.20 L283.58 474.20 L284.24 474.20 L284.90 474.20 L285.56 474.20 L286.22 474.20 L286.88 474.20 L287.54 474.20 L288.21 474.20 L288.87 474.20 L289.53 474.20 L290.19 474.20 L290.85 474.20 L291.51 474.20 L292.17 474.20 L292.83 474.20 L293.49 474.20 L294.15 474.20 L294.81 474.20 L295.47 474.20 L296.13 474.20 L296.79 474.20 L297.45 474.20 L298.11 474.20 L298.77 474.20 L299.43 474.20 L300.09 474.20 L300.75 474.20 L301.41 474.20 L302.07 474.20 L302.73 474.20 L303.39 474.20 L304.05 474.20 L304.71 474.20 L305.37 474.20 L306.03 474.20 L306.69 474.20 L307.35 474.20 L308.01 474.20 L308.67 474.20 L309.33 474.20 L309.99 474.20 L310.65 474.20 L311.31 474.20 L311.97 474.20 L312.63 474.20 L313.29 474.20 L313.96 474.20 L314.62 474.20 L315.28 474.20 L315.94 474.20 L316.60 474.20 L317.26 474.20 L317.92 474.20 L318.58 474.20 L319.24 474.20 L319.90 474.20 L320.56 474.20 L321.22 474.20 L321.88 474.20 L322.54 474.20 L323.20 474.20 L323.86 474.20 L324.52 474.20 L325.18 474.20 L325.84 474.20 L326.50 474.20" fill="none" stroke="#ff00ff" stroke-width="1.30" stroke-dasharray="1.12,1.85" stroke-linejoin="round"/>
</g>
<rect x="24.50" y="270.80" width="302.00" height="203.70" fill="none" stroke="#000" stroke-opacity="0.85" stroke-width="0.8"/>
<path d="M24.50 474.50 v3.1" stroke="#000" stroke-opacity="0.85" stroke-width="0.8"/>
<text x="24.50" y="486.60" font-size="9.90" text-anchor="middle" textLength="5.52" lengthAdjust="spacingAndGlyphs">0</text>
<path d="M175.50 474.50 v3.1" stroke="#000" stroke-opacity="0.85" stroke-width="0.8"/>
<text x="175.50" y="486.60" font-size="9.90" text-anchor="middle" textLength="11.05" lengthAdjust="spacingAndGlyphs">90</text>
<path d="M24.50 474.50 h-3.1" stroke="#000" stroke-opacity="0.85" stroke-width="0.8"/>
<text x="18.70" y="477.75" font-size="9.90" text-anchor="end" textLength="19.33" lengthAdjust="spacingAndGlyphs">0.00</text>
<path d="M24.50 436.04 h-3.1" stroke="#000" stroke-opacity="0.85" stroke-width="0.8"/>
<text x="18.70" y="439.29" font-size="9.90" text-anchor="end" textLength="19.33" lengthAdjust="spacingAndGlyphs">0.02</text>
<path d="M24.50 397.58 h-3.1" stroke="#000" stroke-opacity="0.85" stroke-width="0.8"/>
<text x="18.70" y="400.83" font-size="9.90" text-anchor="end" textLength="19.33" lengthAdjust="spacingAndGlyphs">0.04</text>
<path d="M24.50 359.12 h-3.1" stroke="#000" stroke-opacity="0.85" stroke-width="0.8"/>
<text x="18.70" y="362.37" font-size="9.90" text-anchor="end" textLength="19.33" lengthAdjust="spacingAndGlyphs">0.06</text>
<path d="M24.50 320.66 h-3.1" stroke="#000" stroke-opacity="0.85" stroke-width="0.8"/>
<text x="18.70" y="323.91" font-size="9.90" text-anchor="end" textLength="19.33" lengthAdjust="spacingAndGlyphs">0.08</text>
<path d="M24.50 282.20 h-3.1" stroke="#000" stroke-opacity="0.85" stroke-width="0.8"/>
<text x="18.70" y="285.45" font-size="9.90" text-anchor="end" textLength="19.33" lengthAdjust="spacingAndGlyphs">0.10</text>
<text x="175.50" y="266.50" font-size="9.66" text-anchor="middle" textLength="59.26" lengthAdjust="spacingAndGlyphs">θ distribution</text>
<text x="175.50" y="498.20" font-size="9.90" text-anchor="middle" textLength="31.59" lengthAdjust="spacingAndGlyphs">Degree</text>
<rect x="263.10" y="274.70" width="59.50" height="45.60" rx="1.6" ry="1.6" fill="#fff" fill-opacity="0.8" stroke="#ccc" stroke-opacity="0.95" stroke-width="0.85"/>
<path d="M265.90 280.30 H281.30" fill="none" stroke="#0000ff" stroke-width="2.10" stroke-linejoin="round" stroke-linecap="square"/>
<text x="287.10" y="283.00" font-size="8.57" text-anchor="start" textLength="23.56" lengthAdjust="spacingAndGlyphs">Actual</text>
<path d="M265.90 291.23 H281.30" fill="none" stroke="#ff0000" stroke-width="2.10" stroke-dasharray="12.48,3.12,1.95,3.12" stroke-linejoin="round"/>
<text x="287.10" y="293.93" font-size="8.57" text-anchor="start" textLength="14.59" lengthAdjust="spacingAndGlyphs">SAP</text>
<path d="M265.90 302.16 H281.30" fill="none" stroke="#008000" stroke-width="1.30" stroke-dasharray="4.14,1.79" stroke-linejoin="round"/>
<text x="287.10" y="304.86" font-size="8.57" text-anchor="start" textLength="32.42" lengthAdjust="spacingAndGlyphs">SPOT-1D</text>
<path d="M265.90 313.09 H281.30" fill="none" stroke="#ff00ff" stroke-width="1.30" stroke-dasharray="1.12,1.85" stroke-linejoin="round"/>
<text x="287.10" y="315.79" font-size="8.57" text-anchor="start" textLength="32.08" lengthAdjust="spacingAndGlyphs">SPIDER2</text>
</g>
<g>
<clipPath id="c4"><rect x="384.30" y="270.80" width="296.20" height="203.70"/></clipPath>
<g clip-path="url(#c4)">
<path d="M384.40 447.00 L384.83 445.01 L385.27 443.08 L385.70 441.20 L386.13 439.40 L386.57 437.66 L387.00 436.00 L387.50 434.12 L388.00 432.26 L388.50 430.47 L389.00 428.80 L389.50 427.29 L390.00 426.00 L390.67 424.49 L391.33 423.09 L392.00 421.81 L392.67 420.69 L393.33 419.74 L394.00 419.00 L394.67 418.39 L395.33 417.83 L396.00 417.33 L396.67 416.92 L397.33 416.60 L398.00 416.40 L398.50 416.30 L399.00 416.20 L399.50 416.12 L400.00 416.06 L400.50 416.01 L401.00 416.00 L401.67 416.09 L402.33 416.33 L403.00 416.68 L403.67 417.11 L404.33 417.56 L405.00 418.00 L405.62 418.43 L406.25 418.94 L406.88 419.49 L407.50 420.08 L408.12 420.68 L408.75 421.28 L409.38 421.86 L410.00 422.40 L410.67 422.95 L411.33 423.50 L412.00 424.05 L412.67 424.60 L413.33 425.12 L414.00 425.63 L414.67 426.12 L415.33 426.58 L416.00 427.00 L416.67 427.40 L417.33 427.79 L418.00 428.17 L418.67 428.53 L419.33 428.87 L420.00 429.19 L420.67 429.49 L421.33 429.76 L422.00 430.00 L422.67 430.21 L423.33 430.41 L424.00 430.59 L424.67 430.75 L425.33 430.90 L426.00 431.05 L426.67 431.20 L427.33 431.34 L428.00 431.49 L428.67 431.65 L429.33 431.82 L430.00 432.00 L430.67 432.19 L431.33 432.38 L432.00 432.58 L432.67 432.78 L433.33 432.99 L434.00 433.21 L434.67 433.46 L435.33 433.72 L436.00 434.00 L436.67 434.32 L437.33 434.68 L438.00 435.08 L438.67 435.51 L439.33 435.97 L440.00 436.45 L440.67 436.95 L441.33 437.47 L442.00 438.00 L442.67 438.56 L443.33 439.15 L444.00 439.79 L444.67 440.45 L445.33 441.14 L446.00 441.84 L446.67 442.56 L447.33 443.28 L448.00 444.00 L448.67 444.74 L449.33 445.50 L450.00 446.29 L450.67 447.10 L451.33 447.90 L452.00 448.71 L452.67 449.50 L453.33 450.26 L454.00 451.00 L454.67 451.72 L455.33 452.43 L456.00 453.13 L456.67 453.82 L457.33 454.49 L458.00 455.15 L458.67 455.79 L459.33 456.41 L460.00 457.00 L460.67 457.57 L461.33 458.14 L462.00 458.69 L462.67 459.23 L463.33 459.75 L464.00 460.25 L464.67 460.73 L465.33 461.18 L466.00 461.60 L466.67 462.00 L467.33 462.40 L468.00 462.79 L468.67 463.17 L469.33 463.53 L470.00 463.88 L470.67 464.22 L471.33 464.54 L472.00 464.83 L472.67 465.11 L473.33 465.37 L474.00 465.60 L474.67 465.81 L475.33 466.02 L476.00 466.22 L476.67 466.41 L477.33 466.59 L478.00 466.76 L478.67 466.93 L479.33 467.09 L480.00 467.24 L480.67 467.38 L481.33 467.52 L482.00 467.65 L482.67 467.77 L483.33 467.89 L484.00 468.00 L484.67 468.11 L485.33 468.21 L486.00 468.31 L486.67 468.41 L487.33 468.50 L488.00 468.60 L488.67 468.68 L489.33 468.77 L490.00 468.84 L490.67 468.92 L491.33 468.99 L492.00 469.05 L492.67 469.11 L493.33 469.16 L494.00 469.20 L494.67 469.24 L495.33 469.28 L496.00 469.32 L496.67 469.36 L497.33 469.39 L498.00 469.43 L498.67 469.46 L499.33 469.49 L500.00 469.52 L500.67 469.54 L501.33 469.56 L502.00 469.58 L502.67 469.59 L503.33 469.60 L504.00 469.60 L504.67 469.59 L505.33 469.57 L506.00 469.54 L506.67 469.50 L507.33 469.45 L508.00 469.39 L508.67 469.33 L509.33 469.27 L510.00 469.20 L510.67 469.13 L511.33 469.06 L512.00 469.00 L512.62 468.94 L513.25 468.88 L513.88 468.81 L514.50 468.74 L515.12 468.66 L515.75 468.58 L516.38 468.49 L517.00 468.40 L517.67 468.29 L518.33 468.16 L519.00 468.02 L519.67 467.87 L520.33 467.70 L521.00 467.53 L521.67 467.36 L522.33 467.17 L523.00 466.98 L523.67 466.79 L524.33 466.59 L525.00 466.40 L525.67 466.20 L526.33 466.00 L527.00 465.80 L527.67 465.59 L528.33 465.37 L529.00 465.14 L529.67 464.91 L530.33 464.67 L531.00 464.42 L531.67 464.16 L532.33 463.88 L533.00 463.60 L533.67 463.30 L534.33 462.99 L535.00 462.67 L535.67 462.33 L536.33 461.98 L537.00 461.60 L537.67 461.22 L538.33 460.81 L539.00 460.39 L539.67 459.95 L540.33 459.48 L541.00 459.00 L541.67 458.49 L542.33 457.95 L543.00 457.36 L543.67 456.74 L544.33 456.08 L545.00 455.38 L545.67 454.63 L546.33 453.84 L547.00 453.00 L547.62 452.16 L548.25 451.25 L548.88 450.26 L549.50 449.19 L550.12 448.04 L550.75 446.79 L551.38 445.45 L552.00 444.00 L552.67 442.26 L553.33 440.27 L554.00 438.04 L554.67 435.57 L555.33 432.89 L556.00 430.00 L556.50 427.58 L557.00 424.83 L557.50 421.83 L558.00 418.65 L558.50 415.35 L559.00 412.00 L559.40 409.26 L559.80 406.41 L560.20 403.45 L560.60 400.39 L561.00 397.24 L561.40 394.00 L561.73 391.19 L562.07 388.25 L562.40 385.23 L562.73 382.15 L563.07 379.06 L563.40 376.00 L563.83 372.01 L564.27 367.97 L564.70 363.91 L565.13 359.87 L565.57 355.89 L566.00 352.00 L566.43 348.16 L566.87 344.33 L567.30 340.55 L567.73 336.87 L568.17 333.34 L568.60 330.00 L569.00 327.02 L569.40 324.09 L569.80 321.25 L570.20 318.59 L570.60 316.15 L571.00 314.00 L571.33 312.33 L571.67 310.68 L572.00 309.13 L572.33 307.78 L572.67 306.71 L573.00 306.00 L573.17 305.75 L573.33 305.52 L573.50 305.31 L573.67 305.15 L573.83 305.04 L574.00 305.00 L574.23 305.12 L574.47 305.46 L574.70 305.96 L574.93 306.59 L575.17 307.28 L575.40 308.00 L575.73 309.29 L576.07 311.03 L576.40 313.09 L576.73 315.36 L577.07 317.70 L577.40 320.00 L577.83 323.01 L578.27 326.22 L578.70 329.56 L579.13 333.00 L579.57 336.50 L580.00 340.00 L580.43 343.50 L580.87 347.03 L581.30 350.61 L581.73 354.29 L582.17 358.07 L582.60 362.00 L582.83 364.21 L583.07 366.51 L583.30 368.87 L583.53 371.25 L583.77 373.64 L584.00 376.00 L584.33 379.39 L584.67 382.85 L585.00 386.31 L585.33 389.71 L585.67 392.96 L586.00 396.00 L586.43 399.69 L586.87 403.20 L587.30 406.56 L587.73 409.80 L588.17 412.93 L588.60 416.00 L589.07 419.30 L589.53 422.60 L590.00 425.82 L590.47 428.85 L590.93 431.60 L591.40 434.00 L592.00 436.71 L592.60 439.23 L593.20 441.54 L593.80 443.61 L594.40 445.44 L595.00 447.00 L595.67 448.53 L596.33 449.95 L597.00 451.23 L597.67 452.35 L598.33 453.28 L599.00 454.00 L599.62 454.55 L600.25 455.07 L600.88 455.55 L601.50 455.97 L602.12 456.34 L602.75 456.63 L603.38 456.86 L604.00 457.00 L604.64 457.10 L605.27 457.19 L605.91 457.27 L606.55 457.34 L607.18 457.41 L607.82 457.46 L608.45 457.51 L609.09 457.55 L609.73 457.58 L610.36 457.59 L611.00 457.60 L611.67 457.58 L612.33 457.52 L613.00 457.44 L613.67 457.35 L614.33 457.25 L615.00 457.16 L615.67 457.08 L616.33 457.02 L617.00 457.00 L617.67 457.01 L618.33 457.05 L619.00 457.12 L619.67 457.20 L620.33 457.30 L621.00 457.41 L621.67 457.54 L622.33 457.67 L623.00 457.80 L623.67 457.93 L624.33 458.06 L625.00 458.19 L625.67 458.31 L626.33 458.41 L627.00 458.50 L627.67 458.58 L628.33 458.66 L629.00 458.74 L629.67 458.82 L630.33 458.90 L631.00 458.98 L631.67 459.06 L632.33 459.13 L633.00 459.20 L633.67 459.26 L634.33 459.32 L635.00 459.38 L635.67 459.42 L636.33 459.47 L637.00 459.50 L637.67 459.53 L638.33 459.56 L639.00 459.59 L639.67 459.62 L640.33 459.65 L641.00 459.67 L641.67 459.70 L642.33 459.72 L643.00 459.74 L643.67 459.76 L644.33 459.77 L645.00 459.78 L645.67 459.79 L646.33 459.80 L647.00 459.80 L647.67 459.79 L648.33 459.75 L649.00 459.69 L649.67 459.61 L650.33 459.51 L651.00 459.40 L651.67 459.27 L652.33 459.13 L653.00 458.99 L653.67 458.83 L654.33 458.67 L655.00 458.50 L655.67 458.30 L656.33 458.04 L657.00 457.74 L657.67 457.40 L658.33 457.03 L659.00 456.64 L659.67 456.25 L660.33 455.87 L661.00 455.50 L661.67 455.12 L662.33 454.71 L663.00 454.27 L663.67 453.83 L664.33 453.40 L665.00 452.99 L665.67 452.61 L666.33 452.27 L667.00 452.00 L667.64 451.76 L668.29 451.53 L668.93 451.30 L669.57 451.10 L670.21 450.94 L670.86 450.84 L671.50 450.80 L672.14 450.85 L672.79 450.99 L673.43 451.20 L674.07 451.47 L674.71 451.78 L675.36 452.13 L676.00 452.50 L676.64 452.95 L677.29 453.54 L677.93 454.25 L678.57 455.07 L679.21 455.98 L679.86 456.96 L680.50 458.00" fill="none" stroke="#0000ff" stroke-width="2.10" stroke-linejoin="round"/>
<path d="M384.40 436.00 L384.83 433.66 L385.27 431.32 L385.70 428.98 L386.13 426.65 L386.57 424.32 L387.00 422.00 L387.50 419.26 L388.00 416.44 L388.50 413.62 L389.00 410.89 L389.50 408.32 L390.00 406.00 L390.50 403.87 L391.00 401.83 L391.50 399.90 L392.00 398.11 L392.50 396.47 L393.00 395.00 L393.50 393.63 L394.00 392.29 L394.50 391.05 L395.00 389.95 L395.50 389.05 L396.00 388.40 L396.50 387.90 L397.00 387.43 L397.50 387.02 L398.00 386.69 L398.50 386.48 L399.00 386.40 L399.50 386.50 L400.00 386.79 L400.50 387.23 L401.00 387.76 L401.50 388.37 L402.00 389.00 L402.50 389.78 L403.00 390.82 L403.50 392.03 L404.00 393.35 L404.50 394.70 L405.00 396.00 L405.67 397.74 L406.33 399.57 L407.00 401.45 L407.67 403.34 L408.33 405.21 L409.00 407.00 L409.67 408.76 L410.33 410.53 L411.00 412.28 L411.67 413.96 L412.33 415.55 L413.00 417.00 L413.67 418.36 L414.33 419.68 L415.00 420.94 L415.67 422.09 L416.33 423.12 L417.00 424.00 L417.62 424.72 L418.25 425.41 L418.88 426.05 L419.50 426.63 L420.12 427.17 L420.75 427.65 L421.38 428.06 L422.00 428.40 L422.67 428.71 L423.33 428.98 L424.00 429.22 L424.67 429.44 L425.33 429.64 L426.00 429.84 L426.67 430.02 L427.33 430.21 L428.00 430.40 L428.67 430.59 L429.33 430.75 L430.00 430.91 L430.67 431.07 L431.33 431.22 L432.00 431.38 L432.67 431.57 L433.33 431.77 L434.00 432.00 L434.62 432.25 L435.25 432.54 L435.88 432.87 L436.50 433.23 L437.12 433.63 L437.75 434.06 L438.38 434.51 L439.00 435.00 L439.62 435.54 L440.25 436.16 L440.88 436.85 L441.50 437.60 L442.12 438.40 L442.75 439.24 L443.38 440.11 L444.00 441.00 L444.62 441.96 L445.25 443.02 L445.88 444.16 L446.50 445.34 L447.12 446.54 L447.75 447.74 L448.38 448.90 L449.00 450.00 L449.62 451.07 L450.25 452.15 L450.88 453.23 L451.50 454.28 L452.12 455.31 L452.75 456.28 L453.38 457.18 L454.00 458.00 L454.67 458.81 L455.33 459.60 L456.00 460.36 L456.67 461.08 L457.33 461.77 L458.00 462.40 L458.67 462.99 L459.33 463.52 L460.00 464.00 L460.67 464.43 L461.33 464.84 L462.00 465.22 L462.67 465.58 L463.33 465.91 L464.00 466.22 L464.67 466.50 L465.33 466.76 L466.00 467.00 L466.67 467.22 L467.33 467.43 L468.00 467.64 L468.67 467.83 L469.33 468.02 L470.00 468.19" fill="none" stroke="#ff0000" stroke-width="2.10" stroke-dasharray="12.48,3.12,1.95,3.12" stroke-linejoin="round" stroke-dashoffset="12.1"/>
<path d="M470.00 468.19 L470.67 468.36 L471.33 468.51 L472.00 468.65 L472.67 468.78 L473.33 468.90 L474.00 469.00 L474.67 469.09 L475.33 469.19 L476.00 469.27 L476.67 469.36 L477.33 469.44 L478.00 469.51 L478.67 469.58 L479.33 469.65 L480.00 469.71 L480.67 469.77 L481.33 469.83 L482.00 469.88 L482.67 469.92 L483.33 469.96 L484.00 470.00 L484.67 470.03 L485.33 470.07 L486.00 470.10 L486.67 470.13 L487.33 470.16 L488.00 470.19 L488.67 470.22 L489.33 470.25 L490.00 470.28 L490.67 470.30 L491.33 470.32 L492.00 470.34 L492.67 470.36 L493.33 470.37 L494.00 470.38 L494.67 470.39 L495.33 470.40 L496.00 470.40 L496.67 470.40 L497.33 470.40 L498.00 470.40 L498.67 470.40 L499.33 470.40 L500.00 470.40 L500.67 470.40 L501.33 470.40 L502.00 470.40 L502.67 470.40 L503.33 470.40 L504.00 470.40 L504.67 470.40 L505.33 470.40 L506.00 470.40 L506.67 470.40 L507.33 470.40 L508.00 470.40 L508.64 470.40 L509.29 470.39 L509.93 470.38 L510.57 470.36 L511.21 470.33 L511.86 470.31 L512.50 470.28 L513.14 470.24 L513.79 470.21 L514.43 470.17 L515.07 470.13 L515.71 470.09 L516.36 470.04 L517.00 470.00 L517.67 469.95 L518.33 469.88 L519.00 469.81 L519.67 469.73 L520.33 469.63 L521.00 469.53 L521.67 469.42 L522.33 469.31 L523.00 469.19 L523.67 469.06 L524.33 468.93 L525.00 468.80 L525.67 468.66 L526.33 468.51 L527.00 468.35 L527.67 468.17 L528.33 467.98 L529.00 467.79 L529.67 467.58 L530.33 467.36 L531.00 467.14 L531.67 466.90 L532.33 466.65 L533.00 466.40 L533.67 466.13 L534.33 465.85 L535.00 465.55 L535.67 465.23 L536.33 464.89 L537.00 464.53 L537.67 464.16 L538.33 463.76 L539.00 463.35 L539.67 462.92 L540.33 462.47 L541.00 462.00 L541.67 461.50 L542.33 460.96 L543.00 460.38 L543.67 459.75 L544.33 459.09 L545.00 458.38 L545.67 457.63 L546.33 456.84 L547.00 456.00 L547.62 455.18 L548.24 454.31 L548.87 453.39 L549.49 452.39 L550.11 451.32 L550.73 450.15 L551.36 448.88 L551.98 447.50 L552.60 446.00 L553.27 444.11 L553.93 441.84 L554.60 439.24 L555.27 436.36 L555.93 433.27 L556.60 430.00 L557.07 427.50 L557.53 424.71 L558.00 421.70 L558.47 418.54 L558.93 415.28 L559.40 412.00 L559.83 408.88 L560.27 405.63 L560.70 402.27 L561.13 398.86 L561.57 395.42 L562.00 392.00 L562.33 389.48 L562.67 387.07 L563.00 384.65 L563.33 382.08 L563.67 379.24 L564.00 376.00 L564.33 371.98 L564.67 367.11 L565.00 361.72 L565.33 356.18 L565.67 350.83 L566.00 346.00 L566.33 341.61 L566.67 337.35 L567.00 333.24 L567.33 329.29 L567.67 325.54 L568.00 322.00 L568.33 318.64 L568.67 315.40 L569.00 312.32 L569.33 309.38 L569.67 306.60 L570.00 304.00 L570.33 301.50 L570.67 299.05 L571.00 296.72 L571.33 294.57 L571.67 292.64 L572.00 291.00 L572.20 290.11 L572.40 289.24 L572.60 288.43 L572.80 287.72 L573.00 287.17 L573.20 286.80 L573.37 286.59 L573.53 286.40 L573.70 286.24 L573.87 286.11 L574.03 286.03 L574.20 286.00" fill="none" stroke="#ff0000" stroke-width="2.10" stroke-dasharray="12.48,3.12,1.95,3.12" stroke-linejoin="round" stroke-dashoffset="8.4"/>
<path d="M574.20 286.00 L574.33 286.08 L574.47 286.31 L574.60 286.64 L574.73 287.06 L574.87 287.52 L575.00 288.00 L575.13 288.57 L575.27 289.28 L575.40 290.12 L575.53 291.05 L575.67 292.02 L575.80 293.00 L576.07 295.10 L576.33 297.43 L576.60 299.95 L576.87 302.59 L577.13 305.29 L577.40 308.00 L577.73 311.41 L578.07 314.93 L578.40 318.54 L578.73 322.26 L579.07 326.08 L579.40 330.00 L579.73 334.00 L580.07 338.09 L580.40 342.29 L580.73 346.65 L581.07 351.21 L581.40 356.00 L581.60 359.18 L581.80 362.67 L582.00 366.30 L582.20 369.86 L582.40 373.16 L582.60 376.00 L582.93 379.99 L583.27 383.55 L583.60 386.80 L583.93 389.87 L584.27 392.89 L584.60 396.00 L585.00 399.83 L585.40 403.64 L585.80 407.40 L586.20 411.07 L586.60 414.61 L587.00 418.00 L587.40 421.31 L587.80 424.61 L588.20 427.80 L588.60 430.81 L589.00 433.57 L589.40 436.00 L589.93 438.90 L590.47 441.62 L591.00 444.11 L591.53 446.36 L592.07 448.34 L592.60 450.00 L593.17 451.54 L593.73 452.95 L594.30 454.22 L594.87 455.33 L595.43 456.26 L596.00 457.00 L596.67 457.72 L597.33 458.37 L598.00 458.95 L598.67 459.43 L599.33 459.78 L600.00 460.00 L600.62 460.13 L601.25 460.24 L601.88 460.35 L602.50 460.43 L603.12 460.50 L603.75 460.56 L604.38 460.59 L605.00 460.60 L605.67 460.58 L606.33 460.51 L607.00 460.41 L607.67 460.27 L608.33 460.12 L609.00 459.95 L609.67 459.77 L610.33 459.59 L611.00 459.42 L611.67 459.26 L612.33 459.12 L613.00 459.00 L613.67 458.89 L614.33 458.78 L615.00 458.68 L615.67 458.59 L616.33 458.52 L617.00 458.50 L617.67 458.51 L618.33 458.53 L619.00 458.56 L619.67 458.60 L620.33 458.65 L621.00 458.71 L621.67 458.78 L622.33 458.86 L623.00 458.94 L623.67 459.03 L624.33 459.12 L625.00 459.21 L625.67 459.31 L626.33 459.40 L627.00 459.50 L627.67 459.60 L628.33 459.73 L629.00 459.86 L629.67 460.01 L630.33 460.17 L631.00 460.35 L631.67 460.52 L632.33 460.71 L633.00 460.90 L633.67 461.09 L634.33 461.28 L635.00 461.47 L635.67 461.65 L636.33 461.83 L637.00 462.00 L637.67 462.17 L638.33 462.34 L639.00 462.51 L639.67 462.69 L640.33 462.86 L641.00 463.04 L641.67 463.21 L642.33 463.38 L643.00 463.55 L643.67 463.72 L644.33 463.89 L645.00 464.05 L645.67 464.20 L646.33 464.35 L647.00 464.50 L647.67 464.65 L648.33 464.80 L649.00 464.95 L649.67 465.10 L650.33 465.26 L651.00 465.40 L651.67 465.54 L652.33 465.66 L653.00 465.77 L653.67 465.87 L654.33 465.95 L655.00 466.00 L655.62 466.04 L656.25 466.08 L656.88 466.11 L657.50 466.14 L658.12 466.16 L658.75 466.18 L659.38 466.20 L660.00 466.20 L660.62 466.15 L661.25 466.03 L661.88 465.84 L662.50 465.60 L663.12 465.33 L663.75 465.05 L664.38 464.77 L665.00 464.50 L665.62 464.22 L666.25 463.90 L666.88 463.56 L667.50 463.20 L668.12 462.85 L668.75 462.53 L669.38 462.24 L670.00 462.00 L670.67 461.77 L671.33 461.55 L672.00 461.34 L672.67 461.16 L673.33 461.04 L674.00 461.00 L674.50 461.02 L675.00 461.07 L675.50 461.15 L676.00 461.26 L676.50 461.37 L677.00 461.50 L677.58 461.69 L678.17 461.95 L678.75 462.27 L679.33 462.64 L679.92 463.05 L680.50 463.50" fill="none" stroke="#ff0000" stroke-width="2.10" stroke-dasharray="12.48,3.12,1.95,3.12" stroke-linejoin="round" stroke-dashoffset="7.8"/>
<path d="M384.40 440.00 L384.83 437.66 L385.27 435.32 L385.70 432.98 L386.13 430.65 L386.57 428.32 L387.00 426.00 L387.50 423.24 L388.00 420.38 L388.50 417.53 L389.00 414.78 L389.50 412.24 L390.00 410.00 L390.50 408.00 L391.00 406.12 L391.50 404.36 L392.00 402.74 L392.50 401.29 L393.00 400.00 L393.50 398.82 L394.00 397.69 L394.50 396.64 L395.00 395.72 L395.50 394.96 L396.00 394.40 L396.57 393.90 L397.13 393.43 L397.70 393.02 L398.27 392.69 L398.83 392.48 L399.40 392.40 L399.90 392.51 L400.40 392.81 L400.90 393.26 L401.40 393.80 L401.90 394.40 L402.40 395.00 L403.00 395.84 L403.60 396.89 L404.20 398.10 L404.80 399.39 L405.40 400.71 L406.00 402.00 L406.67 403.44 L407.33 404.94 L408.00 406.48 L408.67 408.03 L409.33 409.55 L410.00 411.00 L410.67 412.41 L411.33 413.82 L412.00 415.20 L412.67 416.54 L413.33 417.81 L414.00 419.00 L414.67 420.15 L415.33 421.29 L416.00 422.38 L416.67 423.39 L417.33 424.27 L418.00 425.00 L418.62 425.57 L419.25 426.11 L419.88 426.60 L420.50 427.05 L421.12 427.46 L421.75 427.82 L422.38 428.13 L423.00 428.40 L423.67 428.65 L424.33 428.87 L425.00 429.07 L425.67 429.25 L426.33 429.42 L427.00 429.58 L427.67 429.72 L428.33 429.86 L429.00 430.00 L429.67 430.12 L430.33 430.23 L431.00 430.32 L431.67 430.41 L432.33 430.50 L433.00 430.60 L433.67 430.71 L434.33 430.84 L435.00 431.00 L435.62 431.20 L436.25 431.46 L436.88 431.77 L437.50 432.14 L438.12 432.55 L438.75 433.00 L439.38 433.49 L440.00 434.00 L440.62 434.59 L441.25 435.30 L441.88 436.11 L442.50 437.00 L443.12 437.95 L443.75 438.95 L444.38 439.97 L445.00 441.00 L445.62 442.10 L446.25 443.30 L446.88 444.59 L447.50 445.92 L448.12 447.26 L448.75 448.57 L449.38 449.83 L450.00 451.00 L450.62 452.11 L451.25 453.21 L451.88 454.29 L452.50 455.34 L453.12 456.34 L453.75 457.30 L454.38 458.18 L455.00 459.00 L455.67 459.82 L456.33 460.62 L457.00 461.39 L457.67 462.12 L458.33 462.82 L459.00 463.46 L459.67 464.04 L460.33 464.56 L461.00 465.00 L461.64 465.38 L462.27 465.73 L462.91 466.06 L463.55 466.38 L464.18 466.67 L464.82 466.94 L465.45 467.20 L466.09 467.43 L466.73 467.64 L467.36 467.83 L468.00 468.00 L468.67 468.16 L469.33 468.32 L470.00 468.47 L470.67 468.61 L471.33 468.75 L472.00 468.87 L472.67 468.99 L473.33 469.09 L474.00 469.18 L474.67 469.27 L475.33 469.34 L476.00 469.40 L476.67 469.45 L477.33 469.50 L478.00 469.55 L478.67 469.59 L479.33 469.63 L480.00 469.66 L480.67 469.70 L481.33 469.73 L482.00 469.76 L482.67 469.79 L483.33 469.82 L484.00 469.85 L484.67 469.87 L485.33 469.90 L486.00 469.92 L486.67 469.95 L487.33 469.97 L488.00 470.00 L488.67 470.03 L489.33 470.06 L490.00 470.09 L490.67 470.12 L491.33 470.14 L492.00 470.17 L492.67 470.20 L493.33 470.23 L494.00 470.26 L494.67 470.29 L495.33 470.31 L496.00 470.33 L496.67 470.35 L497.33 470.37 L498.00 470.38 L498.67 470.39 L499.33 470.40 L500.00 470.40 L500.67 470.40 L501.33 470.40 L502.00 470.40 L502.67 470.40 L503.33 470.40 L504.00 470.40 L504.67 470.40 L505.33 470.40 L506.00 470.40 L506.67 470.40 L507.33 470.40 L508.00 470.40 L508.67 470.40 L509.33 470.40 L510.00 470.40 L510.64 470.40 L511.27 470.39 L511.91 470.38 L512.55 470.37 L513.18 470.35 L513.82 470.33 L514.45 470.31 L515.09 470.28 L515.73 470.26 L516.36 470.23 L517.00 470.20 L517.67 470.16 L518.33 470.12 L519.00 470.06 L519.67 469.99 L520.33 469.91 L521.00 469.83 L521.67 469.73 L522.33 469.64 L523.00 469.53 L523.67 469.42 L524.33 469.31 L525.00 469.20 L525.67 469.08 L526.33 468.94 L527.00 468.80 L527.67 468.64 L528.33 468.46 L529.00 468.28 L529.67 468.09 L530.33 467.89 L531.00 467.68 L531.67 467.46 L532.33 467.23 L533.00 467.00 L533.67 466.76 L534.33 466.50 L535.00 466.22 L535.67 465.93 L536.33 465.62 L537.00 465.30 L537.67 464.96 L538.33 464.60 L539.00 464.23 L539.67 463.83 L540.33 463.43 L541.00 463.00 L541.67 462.55 L542.33 462.06 L543.00 461.53 L543.67 460.97 L544.33 460.37 L545.00 459.73 L545.67 459.06 L546.33 458.35 L547.00 457.60 L547.67 456.82 L548.33 455.99 L549.00 455.11 L549.67 454.17 L550.33 453.14 L551.00 452.03 L551.67 450.81 L552.33 449.47 L553.00 448.00 L553.67 446.27 L554.33 444.19 L555.00 441.78 L555.67 439.09 L556.33 436.15 L557.00 433.00 L557.50 430.34 L558.00 427.28 L558.50 423.92 L559.00 420.36 L559.50 416.69 L560.00 413.00 L560.43 409.73 L560.87 406.28 L561.30 402.73 L561.73 399.13 L562.17 395.53 L562.60 392.00 L562.93 389.40 L563.27 386.91 L563.60 384.41 L563.93 381.83 L564.27 379.06 L564.60 376.00 L565.00 371.76 L565.40 366.92 L565.80 361.71 L566.20 356.35 L566.60 351.04 L567.00 346.00 L567.40 341.17 L567.80 336.36 L568.20 331.60 L568.60 326.93 L569.00 322.39 L569.40 318.00 L569.73 314.44 L570.07 310.93 L570.40 307.50 L570.73 304.18 L571.07 301.01 L571.40 298.00 L571.67 295.65 L571.93 293.30 L572.20 291.04 L572.47 288.93 L572.73 287.06 L573.00 285.50 L573.22 284.35 L573.43 283.18 L573.65 282.11 L573.87 281.22 L574.08 280.62 L574.30 280.40 L574.45 280.44 L574.60 280.56 L574.75 280.74 L574.90 280.97 L575.05 281.22 L575.20 281.50 L575.33 281.81 L575.47 282.23 L575.60 282.74 L575.73 283.30 L575.87 283.90 L576.00 284.50 L576.22 285.53 L576.43 286.66 L576.65 287.88 L576.87 289.19 L577.08 290.57 L577.30 292.00 L577.58 293.97 L577.87 296.07 L578.15 298.32 L578.43 300.71 L578.72 303.27 L579.00 306.00 L579.27 308.85 L579.53 312.03 L579.80 315.44 L580.07 318.98 L580.33 322.53 L580.60 326.00 L580.93 330.18 L581.27 334.31 L581.60 338.46 L581.93 342.73 L582.27 347.21 L582.60 352.00 L582.83 355.75 L583.07 359.91 L583.30 364.23 L583.53 368.51 L583.77 372.51 L584.00 376.00 L584.33 380.35 L584.67 384.37 L585.00 388.11 L585.33 391.60 L585.67 394.89 L586.00 398.00 L586.43 401.82 L586.87 405.39 L587.30 408.76 L587.73 411.95 L588.17 415.02 L588.60 418.00 L589.07 421.16 L589.53 424.26 L590.00 427.25 L590.47 430.07 L590.93 432.67 L591.40 435.00 L591.93 437.44 L592.47 439.75 L593.00 441.90 L593.53 443.85 L594.07 445.56 L594.60 447.00 L595.17 448.32 L595.73 449.54 L596.30 450.63 L596.87 451.59 L597.43 452.38 L598.00 453.00 L598.62 453.56 L599.25 454.07 L599.88 454.53 L600.50 454.94 L601.12 455.30 L601.75 455.59 L602.38 455.83 L603.00 456.00 L603.67 456.14 L604.33 456.28 L605.00 456.40 L605.67 456.52 L606.33 456.62 L607.00 456.72 L607.67 456.80 L608.33 456.87 L609.00 456.93 L609.67 456.97 L610.33 456.99 L611.00 457.00 L611.67 457.00 L612.33 457.00 L613.00 457.00 L613.67 457.00 L614.33 457.00 L615.00 457.00 L615.67 457.00 L616.33 457.00 L617.00 457.00 L617.67 457.01 L618.33 457.05 L619.00 457.10 L619.67 457.17 L620.33 457.26 L621.00 457.36 L621.67 457.48 L622.33 457.60 L623.00 457.73 L623.67 457.86 L624.33 457.99 L625.00 458.12 L625.67 458.26 L626.33 458.38 L627.00 458.50 L627.67 458.62 L628.33 458.73 L629.00 458.86 L629.67 458.98 L630.33 459.11 L631.00 459.24 L631.67 459.37 L632.33 459.50 L633.00 459.64 L633.67 459.78 L634.33 459.92 L635.00 460.06 L635.67 460.21 L636.33 460.35 L637.00 460.50 L637.67 460.65 L638.33 460.81 L639.00 460.97 L639.67 461.13 L640.33 461.30 L641.00 461.47 L641.67 461.65 L642.33 461.82 L643.00 461.99 L643.67 462.17 L644.33 462.34 L645.00 462.51 L645.67 462.68 L646.33 462.84 L647.00 463.00 L647.67 463.16 L648.33 463.33 L649.00 463.50 L649.67 463.68 L650.33 463.85 L651.00 464.02 L651.67 464.19 L652.33 464.34 L653.00 464.48 L653.67 464.61 L654.33 464.71 L655.00 464.80 L655.62 464.87 L656.25 464.94 L656.88 465.01 L657.50 465.07 L658.12 465.12 L658.75 465.16 L659.38 465.19 L660.00 465.20 L660.62 465.18 L661.25 465.12 L661.88 465.03 L662.50 464.92 L663.12 464.81 L663.75 464.69 L664.38 464.59 L665.00 464.50 L665.62 464.42 L666.25 464.34 L666.88 464.26 L667.50 464.18 L668.12 464.11 L668.75 464.05 L669.38 464.01 L670.00 464.00 L670.67 464.02 L671.33 464.07 L672.00 464.16 L672.67 464.26 L673.33 464.38 L674.00 464.50 L674.67 464.65 L675.33 464.84 L676.00 465.08 L676.67 465.36 L677.33 465.66 L678.00 466.00 L678.42 466.24 L678.83 466.53 L679.25 466.86 L679.67 467.22 L680.08 467.60 L680.50 468.00" fill="none" stroke="#008000" stroke-width="1.30" stroke-dasharray="4.14,1.79" stroke-linejoin="round"/>
<path d="M384.40 442.00 L384.83 439.58 L385.27 437.16 L385.70 434.76 L386.13 432.36 L386.57 429.98 L387.00 427.60 L387.50 424.79 L388.00 421.90 L388.50 419.01 L389.00 416.24 L389.50 413.67 L390.00 411.40 L390.50 409.37 L391.00 407.46 L391.50 405.68 L392.00 404.04 L392.50 402.54 L393.00 401.20 L393.50 399.94 L394.00 398.73 L394.50 397.60 L395.00 396.60 L395.50 395.79 L396.00 395.20 L396.57 394.69 L397.13 394.22 L397.70 393.81 L398.27 393.49 L398.83 393.28 L399.40 393.20 L399.90 393.32 L400.40 393.65 L400.90 394.13 L401.40 394.71 L401.90 395.36 L402.40 396.00 L403.00 396.87 L403.60 397.95 L404.20 399.17 L404.80 400.49 L405.40 401.85 L406.00 403.20 L406.67 404.76 L407.33 406.43 L408.00 408.17 L408.67 409.91 L409.33 411.61 L410.00 413.20 L410.67 414.72 L411.33 416.21 L412.00 417.67 L412.67 419.06 L413.33 420.38 L414.00 421.60 L414.67 422.75 L415.33 423.86 L416.00 424.91 L416.67 425.90 L417.33 426.80 L418.00 427.60 L418.62 428.28 L419.25 428.92 L419.88 429.53 L420.50 430.10 L421.12 430.63 L421.75 431.12 L422.38 431.58 L423.00 432.00 L423.67 432.42 L424.33 432.81 L425.00 433.17 L425.67 433.52 L426.33 433.84 L427.00 434.15 L427.67 434.45 L428.33 434.73 L429.00 435.00 L429.67 435.25 L430.33 435.48 L431.00 435.68 L431.67 435.88 L432.33 436.07 L433.00 436.27 L433.67 436.49 L434.33 436.73 L435.00 437.00 L435.62 437.28 L436.25 437.59 L436.88 437.91 L437.50 438.27 L438.12 438.65 L438.75 439.07 L439.38 439.52 L440.00 440.00 L440.62 440.55 L441.25 441.18 L441.88 441.88 L442.50 442.64 L443.12 443.45 L443.75 444.29 L444.38 445.14 L445.00 446.00 L445.62 446.90 L446.25 447.86 L446.88 448.88 L447.50 449.92 L448.12 450.98 L448.75 452.02 L449.38 453.04 L450.00 454.00 L450.62 454.94 L451.25 455.90 L451.88 456.85 L452.50 457.78 L453.12 458.67 L453.75 459.52 L454.38 460.30 L455.00 461.00 L455.67 461.69 L456.33 462.37 L457.00 463.01 L457.67 463.63 L458.33 464.20 L459.00 464.74 L459.67 465.22 L460.33 465.64 L461.00 466.00 L461.64 466.31 L462.27 466.60 L462.91 466.87 L463.55 467.13 L464.18 467.37 L464.82 467.59 L465.45 467.79 L466.09 467.97 L466.73 468.14 L467.36 468.28 L468.00 468.40 L468.67 468.51 L469.33 468.61 L470.00 468.71 L470.67 468.80 L471.33 468.88 L472.00 468.96 L472.67 469.03 L473.33 469.09 L474.00 469.15 L474.67 469.21 L475.33 469.26 L476.00 469.30 L476.67 469.34 L477.33 469.38 L478.00 469.42 L478.67 469.45 L479.33 469.48 L480.00 469.51 L480.67 469.54 L481.33 469.57 L482.00 469.60 L482.67 469.62 L483.33 469.65 L484.00 469.67 L484.67 469.69 L485.33 469.72 L486.00 469.74 L486.67 469.76 L487.33 469.78 L488.00 469.80 L488.67 469.82 L489.33 469.84 L490.00 469.87 L490.67 469.89 L491.33 469.91 L492.00 469.93 L492.67 469.96 L493.33 469.98 L494.00 470.00 L494.67 470.02 L495.33 470.03 L496.00 470.05 L496.67 470.06 L497.33 470.08 L498.00 470.09 L498.67 470.09 L499.33 470.10 L500.00 470.10 L500.67 470.10 L501.33 470.10 L502.00 470.10 L502.67 470.10 L503.33 470.10 L504.00 470.10 L504.67 470.10 L505.33 470.10 L506.00 470.10 L506.67 470.10 L507.33 470.10 L508.00 470.10 L508.67 470.10 L509.33 470.10 L510.00 470.10 L510.64 470.10 L511.27 470.10 L511.91 470.09 L512.55 470.08 L513.18 470.08 L513.82 470.07 L514.45 470.05 L515.09 470.04 L515.73 470.03 L516.36 470.01 L517.00 470.00 L517.67 469.98 L518.33 469.96 L519.00 469.92 L519.67 469.89 L520.33 469.84 L521.00 469.79 L521.67 469.74 L522.33 469.68 L523.00 469.62 L523.67 469.55 L524.33 469.48 L525.00 469.41 L525.67 469.33 L526.33 469.25 L527.00 469.16 L527.67 469.08 L528.33 468.99 L529.00 468.90 L529.67 468.80 L530.33 468.69 L531.00 468.57 L531.67 468.44 L532.33 468.29 L533.00 468.14 L533.67 467.97 L534.33 467.79 L535.00 467.61 L535.67 467.41 L536.33 467.21 L537.00 467.00 L537.67 466.78 L538.33 466.54 L539.00 466.28 L539.67 466.00 L540.33 465.71 L541.00 465.39 L541.67 465.05 L542.33 464.69 L543.00 464.31 L543.67 463.90 L544.33 463.46 L545.00 463.00 L545.67 462.49 L546.33 461.91 L547.00 461.26 L547.67 460.54 L548.33 459.76 L549.00 458.91 L549.67 458.00 L550.33 457.03 L551.00 456.00 L551.62 454.96 L552.25 453.80 L552.88 452.53 L553.50 451.12 L554.12 449.58 L554.75 447.88 L555.38 446.03 L556.00 444.00 L556.57 441.83 L557.13 439.22 L557.70 436.25 L558.27 433.00 L558.83 429.56 L559.40 426.00 L559.83 423.08 L560.27 419.86 L560.70 416.44 L561.13 412.93 L561.57 409.42 L562.00 406.00 L562.43 402.65 L562.87 399.27 L563.30 395.90 L563.73 392.55 L564.17 389.24 L564.60 386.00 L564.83 384.35 L565.07 382.79 L565.30 381.25 L565.53 379.66 L565.77 377.93 L566.00 376.00 L566.33 372.69 L566.67 368.79 L567.00 364.53 L567.33 360.16 L567.67 355.90 L568.00 352.00 L568.43 347.29 L568.87 342.69 L569.30 338.22 L569.73 333.93 L570.17 329.84 L570.60 326.00 L571.00 322.55 L571.40 319.13 L571.80 315.85 L572.20 312.82 L572.60 310.17 L573.00 308.00 L573.33 306.39 L573.67 304.79 L574.00 303.32 L574.33 302.12 L574.67 301.30 L575.00 301.00 L575.27 301.16 L575.53 301.60 L575.80 302.26 L576.07 303.09 L576.33 304.02 L576.60 305.00 L576.93 306.57 L577.27 308.72 L577.60 311.29 L577.93 314.13 L578.27 317.08 L578.60 320.00 L579.00 323.62 L579.40 327.56 L579.80 331.69 L580.20 335.89 L580.60 340.04 L581.00 344.00 L581.40 347.88 L581.80 351.80 L582.20 355.67 L582.60 359.39 L583.00 362.86 L583.40 366.00 L583.67 367.82 L583.93 369.43 L584.20 370.94 L584.47 372.47 L584.73 374.12 L585.00 376.00 L585.33 378.82 L585.67 382.09 L586.00 385.63 L586.33 389.24 L586.67 392.76 L587.00 396.00 L587.40 399.64 L587.80 403.22 L588.20 406.70 L588.60 410.03 L589.00 413.14 L589.40 416.00 L589.93 419.56 L590.47 422.96 L591.00 426.16 L591.53 429.10 L592.07 431.73 L592.60 434.00 L593.17 436.11 L593.73 438.04 L594.30 439.80 L594.87 441.37 L595.43 442.78 L596.00 444.00 L596.67 445.28 L597.33 446.45 L598.00 447.51 L598.67 448.45 L599.33 449.28 L600.00 450.00 L600.62 450.61 L601.25 451.19 L601.88 451.73 L602.50 452.23 L603.12 452.68 L603.75 453.06 L604.38 453.37 L605.00 453.60 L605.67 453.79 L606.33 453.95 L607.00 454.10 L607.67 454.23 L608.33 454.35 L609.00 454.45 L609.67 454.55 L610.33 454.64 L611.00 454.73 L611.67 454.82 L612.33 454.91 L613.00 455.00 L613.67 455.09 L614.33 455.19 L615.00 455.27 L615.67 455.36 L616.33 455.43 L617.00 455.50 L617.67 455.56 L618.33 455.62 L619.00 455.67 L619.67 455.72 L620.33 455.76 L621.00 455.81 L621.67 455.85 L622.33 455.89 L623.00 455.94 L623.67 455.98 L624.33 456.02 L625.00 456.06 L625.67 456.11 L626.33 456.15 L627.00 456.20 L627.67 456.25 L628.33 456.30 L629.00 456.35 L629.67 456.41 L630.33 456.46 L631.00 456.51 L631.67 456.57 L632.33 456.62 L633.00 456.67 L633.67 456.73 L634.33 456.78 L635.00 456.84 L635.67 456.89 L636.33 456.95 L637.00 457.00 L637.67 457.05 L638.33 457.11 L639.00 457.16 L639.67 457.22 L640.33 457.27 L641.00 457.33 L641.67 457.38 L642.33 457.43 L643.00 457.49 L643.67 457.54 L644.33 457.59 L645.00 457.65 L645.67 457.70 L646.33 457.75 L647.00 457.80 L647.67 457.85 L648.33 457.91 L649.00 457.97 L649.67 458.03 L650.33 458.09 L651.00 458.15 L651.67 458.21 L652.33 458.27 L653.00 458.33 L653.67 458.37 L654.33 458.42 L655.00 458.45 L655.67 458.48 L656.33 458.49 L657.00 458.50 L657.67 458.48 L658.33 458.41 L659.00 458.31 L659.67 458.19 L660.33 458.05 L661.00 457.91 L661.67 457.76 L662.33 457.62 L663.00 457.50 L663.67 457.38 L664.33 457.24 L665.00 457.09 L665.67 456.95 L666.33 456.81 L667.00 456.69 L667.67 456.59 L668.33 456.52 L669.00 456.50 L669.62 456.51 L670.25 456.52 L670.88 456.55 L671.50 456.58 L672.12 456.63 L672.75 456.68 L673.38 456.74 L674.00 456.80 L674.65 456.92 L675.30 457.12 L675.95 457.41 L676.60 457.77 L677.25 458.19 L677.90 458.67 L678.55 459.20 L679.20 459.77 L679.85 460.37 L680.50 461.00" fill="none" stroke="#ff00ff" stroke-width="1.30" stroke-dasharray="1.12,1.85" stroke-linejoin="round"/>
</g>
<rect x="384.30" y="270.80" width="296.20" height="203.70" fill="none" stroke="#000" stroke-opacity="0.85" stroke-width="0.8"/>
<path d="M384.30 474.50 v3.1" stroke="#000" stroke-opacity="0.85" stroke-width="0.8"/>
<text x="384.30" y="486.60" font-size="9.90" text-anchor="middle" textLength="23.84" lengthAdjust="spacingAndGlyphs">−180</text>
<path d="M458.35 474.50 v3.1" stroke="#000" stroke-opacity="0.85" stroke-width="0.8"/>
<text x="458.35" y="486.60" font-size="9.90" text-anchor="middle" textLength="18.32" lengthAdjust="spacingAndGlyphs">−90</text>
<path d="M532.40 474.50 v3.1" stroke="#000" stroke-opacity="0.85" stroke-width="0.8"/>
<text x="532.40" y="486.60" font-size="9.90" text-anchor="middle" textLength="5.52" lengthAdjust="spacingAndGlyphs">0</text>
<path d="M606.45 474.50 v3.1" stroke="#000" stroke-opacity="0.85" stroke-width="0.8"/>
<text x="606.45" y="486.60" font-size="9.90" text-anchor="middle" textLength="11.05" lengthAdjust="spacingAndGlyphs">90</text>
<path d="M384.30 474.50 h-3.1" stroke="#000" stroke-opacity="0.85" stroke-width="0.8"/>
<text x="378.50" y="477.75" font-size="9.90" text-anchor="end" textLength="24.85" lengthAdjust="spacingAndGlyphs">0.000</text>
<path d="M384.30 450.23 h-3.1" stroke="#000" stroke-opacity="0.85" stroke-width="0.8"/>
<text x="378.50" y="453.48" font-size="9.90" text-anchor="end" textLength="24.85" lengthAdjust="spacingAndGlyphs">0.002</text>
<path d="M384.30 425.96 h-3.1" stroke="#000" stroke-opacity="0.85" stroke-width="0.8"/>
<text x="378.50" y="429.21" font-size="9.90" text-anchor="end" textLength="24.85" lengthAdjust="spacingAndGlyphs">0.004</text>
<path d="M384.30 401.69 h-3.1" stroke="#000" stroke-opacity="0.85" stroke-width="0.8"/>
<text x="378.50" y="404.94" font-size="9.90" text-anchor="end" textLength="24.85" lengthAdjust="spacingAndGlyphs">0.006</text>
<path d="M384.30 377.42 h-3.1" stroke="#000" stroke-opacity="0.85" stroke-width="0.8"/>
<text x="378.50" y="380.67" font-size="9.90" text-anchor="end" textLength="24.85" lengthAdjust="spacingAndGlyphs">0.008</text>
<path d="M384.30 353.15 h-3.1" stroke="#000" stroke-opacity="0.85" stroke-width="0.8"/>
<text x="378.50" y="356.40" font-size="9.90" text-anchor="end" textLength="24.85" lengthAdjust="spacingAndGlyphs">0.010</text>
<path d="M384.30 328.88 h-3.1" stroke="#000" stroke-opacity="0.85" stroke-width="0.8"/>
<text x="378.50" y="332.13" font-size="9.90" text-anchor="end" textLength="24.85" lengthAdjust="spacingAndGlyphs">0.012</text>
<path d="M384.30 304.61 h-3.1" stroke="#000" stroke-opacity="0.85" stroke-width="0.8"/>
<text x="378.50" y="307.86" font-size="9.90" text-anchor="end" textLength="24.85" lengthAdjust="spacingAndGlyphs">0.014</text>
<path d="M384.30 280.34 h-3.1" stroke="#000" stroke-opacity="0.85" stroke-width="0.8"/>
<text x="378.50" y="283.59" font-size="9.90" text-anchor="end" textLength="24.85" lengthAdjust="spacingAndGlyphs">0.016</text>
<text x="532.40" y="266.50" font-size="9.66" text-anchor="middle" textLength="59.17" lengthAdjust="spacingAndGlyphs">τ distribution</text>
<text x="532.40" y="498.20" font-size="9.90" text-anchor="middle" textLength="31.59" lengthAdjust="spacingAndGlyphs">Degree</text>
<rect x="617.00" y="274.70" width="59.50" height="45.60" rx="1.6" ry="1.6" fill="#fff" fill-opacity="0.8" stroke="#ccc" stroke-opacity="0.95" stroke-width="0.85"/>
<path d="M619.80 280.30 H635.20" fill="none" stroke="#0000ff" stroke-width="2.10" stroke-linejoin="round" stroke-linecap="square"/>
<text x="641.00" y="283.00" font-size="8.57" text-anchor="start" textLength="23.56" lengthAdjust="spacingAndGlyphs">Actual</text>
<path d="M619.80 291.23 H635.20" fill="none" stroke="#ff0000" stroke-width="2.10" stroke-dasharray="12.48,3.12,1.95,3.12" stroke-linejoin="round"/>
<text x="641.00" y="293.93" font-size="8.57" text-anchor="start" textLength="14.59" lengthAdjust="spacingAndGlyphs">SAP</text>
<path d="M619.80 302.16 H635.20" fill="none" stroke="#008000" stroke-width="1.30" stroke-dasharray="4.14,1.79" stroke-linejoin="round"/>
<text x="641.00" y="304.86" font-size="8.57" text-anchor="start" textLength="32.42" lengthAdjust="spacingAndGlyphs">SPOT-1D</text>
<path d="M619.80 313.09 H635.20" fill="none" stroke="#ff00ff" stroke-width="1.30" stroke-dasharray="1.12,1.85" stroke-linejoin="round"/>
<text x="641.00" y="315.79" font-size="8.57" text-anchor="start" textLength="32.08" lengthAdjust="spacingAndGlyphs">SPIDER2</text>
</g>
</svg>
</body></html>
